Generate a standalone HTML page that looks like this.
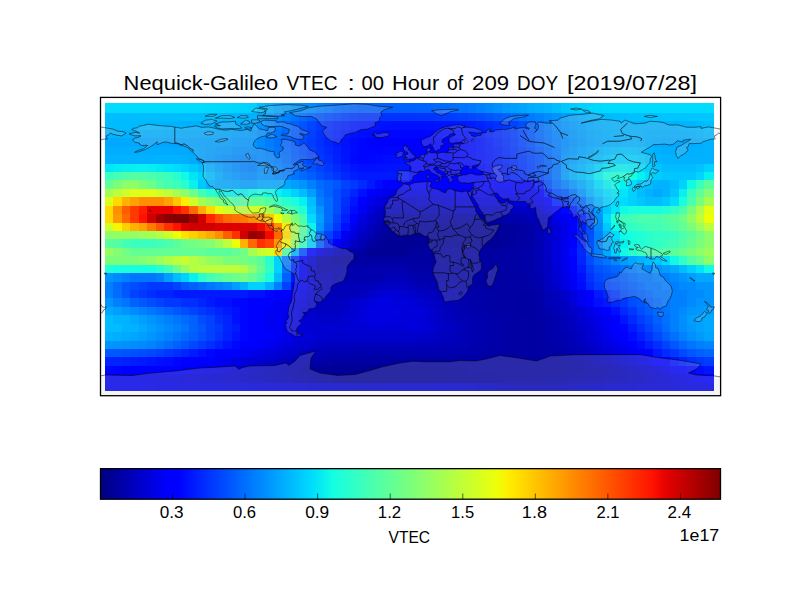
<!DOCTYPE html><html><head><meta charset="utf-8"><title>VTEC</title>
<style>html,body{margin:0;padding:0;background:#fff;width:800px;height:600px;overflow:hidden}svg{display:block}text{font-family:"Liberation Sans",sans-serif;fill:#000}</style></head><body>
<svg width="800" height="600" viewBox="0 0 800 600">
<rect width="800" height="600" fill="#fff"/>
<g shape-rendering="crispEdges">
<rect x="105.00" y="103.00" width="101.54" height="10.30" fill="#00dbff"/>
<rect x="206.24" y="103.00" width="8.74" height="10.30" fill="#00daff"/>
<rect x="214.68" y="103.00" width="8.74" height="10.30" fill="#00d9ff"/>
<rect x="223.12" y="103.00" width="8.74" height="10.30" fill="#00d8ff"/>
<rect x="231.56" y="103.00" width="8.74" height="10.30" fill="#00d6ff"/>
<rect x="239.99" y="103.00" width="8.74" height="10.30" fill="#00d4ff"/>
<rect x="248.43" y="103.00" width="8.74" height="10.30" fill="#00d1ff"/>
<rect x="256.87" y="103.00" width="8.74" height="10.30" fill="#00bdff"/>
<rect x="265.30" y="103.00" width="8.74" height="10.30" fill="#00b1ff"/>
<rect x="273.74" y="103.00" width="8.74" height="10.30" fill="#00a7ff"/>
<rect x="282.18" y="103.00" width="8.74" height="10.30" fill="#009fff"/>
<rect x="290.61" y="103.00" width="8.74" height="10.30" fill="#0098ff"/>
<rect x="299.05" y="103.00" width="8.74" height="10.30" fill="#0091ff"/>
<rect x="307.49" y="103.00" width="8.74" height="10.30" fill="#008aff"/>
<rect x="315.92" y="103.00" width="8.74" height="10.30" fill="#0081ff"/>
<rect x="324.36" y="103.00" width="8.74" height="10.30" fill="#0078ff"/>
<rect x="332.80" y="103.00" width="8.74" height="10.30" fill="#0070ff"/>
<rect x="341.24" y="103.00" width="8.74" height="10.30" fill="#0068ff"/>
<rect x="349.67" y="103.00" width="8.74" height="10.30" fill="#0063ff"/>
<rect x="358.11" y="103.00" width="59.36" height="10.30" fill="#0061ff"/>
<rect x="417.17" y="103.00" width="8.74" height="10.30" fill="#0062ff"/>
<rect x="425.61" y="103.00" width="8.74" height="10.30" fill="#0064ff"/>
<rect x="434.04" y="103.00" width="8.74" height="10.30" fill="#0068ff"/>
<rect x="442.48" y="103.00" width="8.74" height="10.30" fill="#006cff"/>
<rect x="450.92" y="103.00" width="8.74" height="10.30" fill="#0071ff"/>
<rect x="459.35" y="103.00" width="8.74" height="10.30" fill="#0075ff"/>
<rect x="467.79" y="103.00" width="8.74" height="10.30" fill="#007bff"/>
<rect x="476.23" y="103.00" width="8.74" height="10.30" fill="#0081ff"/>
<rect x="484.66" y="103.00" width="8.74" height="10.30" fill="#0088ff"/>
<rect x="493.10" y="103.00" width="8.74" height="10.30" fill="#0090ff"/>
<rect x="501.54" y="103.00" width="8.74" height="10.30" fill="#0097ff"/>
<rect x="509.98" y="103.00" width="8.74" height="10.30" fill="#009eff"/>
<rect x="518.41" y="103.00" width="8.74" height="10.30" fill="#00a4ff"/>
<rect x="526.85" y="103.00" width="8.74" height="10.30" fill="#00aaff"/>
<rect x="535.29" y="103.00" width="8.74" height="10.30" fill="#00afff"/>
<rect x="543.72" y="103.00" width="8.74" height="10.30" fill="#00b5ff"/>
<rect x="552.16" y="103.00" width="8.74" height="10.30" fill="#00bdff"/>
<rect x="560.60" y="103.00" width="8.74" height="10.30" fill="#00c7ff"/>
<rect x="569.03" y="103.00" width="8.74" height="10.30" fill="#00ccff"/>
<rect x="577.47" y="103.00" width="8.74" height="10.30" fill="#00d1ff"/>
<rect x="585.91" y="103.00" width="8.74" height="10.30" fill="#00d5ff"/>
<rect x="594.35" y="103.00" width="8.74" height="10.30" fill="#00d9ff"/>
<rect x="602.78" y="103.00" width="111.42" height="10.30" fill="#00dbff"/>
<rect x="105.00" y="113.00" width="93.11" height="8.73" fill="#00bdff"/>
<rect x="197.81" y="113.00" width="17.17" height="8.73" fill="#00bcff"/>
<rect x="214.68" y="113.00" width="8.74" height="8.73" fill="#00bbff"/>
<rect x="223.12" y="113.00" width="8.74" height="8.73" fill="#00b9ff"/>
<rect x="231.56" y="113.00" width="8.74" height="8.73" fill="#00b7ff"/>
<rect x="239.99" y="113.00" width="8.74" height="8.73" fill="#00b5ff"/>
<rect x="248.43" y="113.00" width="8.74" height="8.73" fill="#00b2ff"/>
<rect x="256.87" y="113.00" width="8.74" height="8.73" fill="#00a3ff"/>
<rect x="265.30" y="113.00" width="8.74" height="8.73" fill="#0096ff"/>
<rect x="273.74" y="113.00" width="8.74" height="8.73" fill="#008bff"/>
<rect x="282.18" y="113.00" width="8.74" height="8.73" fill="#0080ff"/>
<rect x="290.61" y="113.00" width="8.74" height="8.73" fill="#0075ff"/>
<rect x="299.05" y="113.00" width="8.74" height="8.73" fill="#006aff"/>
<rect x="307.49" y="113.00" width="8.74" height="8.73" fill="#005fff"/>
<rect x="315.92" y="113.00" width="8.74" height="8.73" fill="#0055ff"/>
<rect x="324.36" y="113.00" width="8.74" height="8.73" fill="#004dff"/>
<rect x="332.80" y="113.00" width="8.74" height="8.73" fill="#0044ff"/>
<rect x="341.24" y="113.00" width="8.74" height="8.73" fill="#003cff"/>
<rect x="349.67" y="113.00" width="8.74" height="8.73" fill="#0036ff"/>
<rect x="358.11" y="113.00" width="59.36" height="8.73" fill="#0033ff"/>
<rect x="417.17" y="113.00" width="8.74" height="8.73" fill="#0034ff"/>
<rect x="425.61" y="113.00" width="8.74" height="8.73" fill="#0035ff"/>
<rect x="434.04" y="113.00" width="8.74" height="8.73" fill="#0038ff"/>
<rect x="442.48" y="113.00" width="8.74" height="8.73" fill="#003bff"/>
<rect x="450.92" y="113.00" width="8.74" height="8.73" fill="#003fff"/>
<rect x="459.35" y="113.00" width="8.74" height="8.73" fill="#0042ff"/>
<rect x="467.79" y="113.00" width="8.74" height="8.73" fill="#0047ff"/>
<rect x="476.23" y="113.00" width="8.74" height="8.73" fill="#004dff"/>
<rect x="484.66" y="113.00" width="8.74" height="8.73" fill="#0054ff"/>
<rect x="493.10" y="113.00" width="8.74" height="8.73" fill="#005cff"/>
<rect x="501.54" y="113.00" width="8.74" height="8.73" fill="#0063ff"/>
<rect x="509.98" y="113.00" width="8.74" height="8.73" fill="#006bff"/>
<rect x="518.41" y="113.00" width="8.74" height="8.73" fill="#0073ff"/>
<rect x="526.85" y="113.00" width="8.74" height="8.73" fill="#007aff"/>
<rect x="535.29" y="113.00" width="8.74" height="8.73" fill="#0082ff"/>
<rect x="543.72" y="113.00" width="8.74" height="8.73" fill="#008bff"/>
<rect x="552.16" y="113.00" width="8.74" height="8.73" fill="#0094ff"/>
<rect x="560.60" y="113.00" width="8.74" height="8.73" fill="#009eff"/>
<rect x="569.03" y="113.00" width="8.74" height="8.73" fill="#00a5ff"/>
<rect x="577.47" y="113.00" width="8.74" height="8.73" fill="#00acff"/>
<rect x="585.91" y="113.00" width="8.74" height="8.73" fill="#00b2ff"/>
<rect x="594.35" y="113.00" width="8.74" height="8.73" fill="#00b7ff"/>
<rect x="602.78" y="113.00" width="8.74" height="8.73" fill="#00baff"/>
<rect x="611.22" y="113.00" width="8.74" height="8.73" fill="#00bdff"/>
<rect x="619.66" y="113.00" width="8.74" height="8.73" fill="#00beff"/>
<rect x="628.09" y="113.00" width="8.74" height="8.73" fill="#00c0ff"/>
<rect x="636.53" y="113.00" width="8.74" height="8.73" fill="#00c1ff"/>
<rect x="644.97" y="113.00" width="8.74" height="8.73" fill="#00c2ff"/>
<rect x="653.40" y="113.00" width="8.74" height="8.73" fill="#00c4ff"/>
<rect x="661.84" y="113.00" width="17.17" height="8.73" fill="#00c5ff"/>
<rect x="678.72" y="113.00" width="8.74" height="8.73" fill="#00c6ff"/>
<rect x="687.15" y="113.00" width="27.05" height="8.73" fill="#00c7ff"/>
<rect x="105.00" y="121.43" width="8.74" height="8.73" fill="#00bdff"/>
<rect x="113.44" y="121.43" width="8.74" height="8.73" fill="#00bcff"/>
<rect x="121.87" y="121.43" width="8.74" height="8.73" fill="#00bbff"/>
<rect x="130.31" y="121.43" width="8.74" height="8.73" fill="#00baff"/>
<rect x="138.75" y="121.43" width="8.74" height="8.73" fill="#00b9ff"/>
<rect x="147.19" y="121.43" width="8.74" height="8.73" fill="#00b8ff"/>
<rect x="155.62" y="121.43" width="8.74" height="8.73" fill="#00b7ff"/>
<rect x="164.06" y="121.43" width="8.74" height="8.73" fill="#00b5ff"/>
<rect x="172.50" y="121.43" width="8.74" height="8.73" fill="#00b4ff"/>
<rect x="180.93" y="121.43" width="8.74" height="8.73" fill="#00b2ff"/>
<rect x="189.37" y="121.43" width="8.74" height="8.73" fill="#00b1ff"/>
<rect x="197.81" y="121.43" width="8.74" height="8.73" fill="#00b0ff"/>
<rect x="206.24" y="121.43" width="8.74" height="8.73" fill="#00afff"/>
<rect x="214.68" y="121.43" width="8.74" height="8.73" fill="#00aeff"/>
<rect x="223.12" y="121.43" width="8.74" height="8.73" fill="#00acff"/>
<rect x="231.56" y="121.43" width="8.74" height="8.73" fill="#00aaff"/>
<rect x="239.99" y="121.43" width="8.74" height="8.73" fill="#00a7ff"/>
<rect x="248.43" y="121.43" width="8.74" height="8.73" fill="#00a3ff"/>
<rect x="256.87" y="121.43" width="8.74" height="8.73" fill="#0094ff"/>
<rect x="265.30" y="121.43" width="8.74" height="8.73" fill="#0086ff"/>
<rect x="273.74" y="121.43" width="8.74" height="8.73" fill="#007aff"/>
<rect x="282.18" y="121.43" width="8.74" height="8.73" fill="#006dff"/>
<rect x="290.61" y="121.43" width="8.74" height="8.73" fill="#0061ff"/>
<rect x="299.05" y="121.43" width="8.74" height="8.73" fill="#0053ff"/>
<rect x="307.49" y="121.43" width="8.74" height="8.73" fill="#0045ff"/>
<rect x="315.92" y="121.43" width="8.74" height="8.73" fill="#0038ff"/>
<rect x="324.36" y="121.43" width="8.74" height="8.73" fill="#002eff"/>
<rect x="332.80" y="121.43" width="8.74" height="8.73" fill="#0025ff"/>
<rect x="341.24" y="121.43" width="8.74" height="8.73" fill="#001eff"/>
<rect x="349.67" y="121.43" width="8.74" height="8.73" fill="#0018ff"/>
<rect x="358.11" y="121.43" width="8.74" height="8.73" fill="#0014ff"/>
<rect x="366.55" y="121.43" width="8.74" height="8.73" fill="#0013ff"/>
<rect x="374.98" y="121.43" width="8.74" height="8.73" fill="#0012ff"/>
<rect x="383.42" y="121.43" width="8.74" height="8.73" fill="#0011ff"/>
<rect x="391.86" y="121.43" width="8.74" height="8.73" fill="#0010ff"/>
<rect x="400.29" y="121.43" width="17.17" height="8.73" fill="#000fff"/>
<rect x="417.17" y="121.43" width="8.74" height="8.73" fill="#0010ff"/>
<rect x="425.61" y="121.43" width="8.74" height="8.73" fill="#0011ff"/>
<rect x="434.04" y="121.43" width="8.74" height="8.73" fill="#0012ff"/>
<rect x="442.48" y="121.43" width="8.74" height="8.73" fill="#0014ff"/>
<rect x="450.92" y="121.43" width="8.74" height="8.73" fill="#0017ff"/>
<rect x="459.35" y="121.43" width="8.74" height="8.73" fill="#0019ff"/>
<rect x="467.79" y="121.43" width="8.74" height="8.73" fill="#001dff"/>
<rect x="476.23" y="121.43" width="8.74" height="8.73" fill="#0022ff"/>
<rect x="484.66" y="121.43" width="8.74" height="8.73" fill="#0029ff"/>
<rect x="493.10" y="121.43" width="8.74" height="8.73" fill="#0031ff"/>
<rect x="501.54" y="121.43" width="8.74" height="8.73" fill="#0039ff"/>
<rect x="509.98" y="121.43" width="8.74" height="8.73" fill="#0042ff"/>
<rect x="518.41" y="121.43" width="8.74" height="8.73" fill="#004eff"/>
<rect x="526.85" y="121.43" width="8.74" height="8.73" fill="#005dff"/>
<rect x="535.29" y="121.43" width="8.74" height="8.73" fill="#006dff"/>
<rect x="543.72" y="121.43" width="8.74" height="8.73" fill="#007cff"/>
<rect x="552.16" y="121.43" width="8.74" height="8.73" fill="#008aff"/>
<rect x="560.60" y="121.43" width="8.74" height="8.73" fill="#0094ff"/>
<rect x="569.03" y="121.43" width="8.74" height="8.73" fill="#009bff"/>
<rect x="577.47" y="121.43" width="8.74" height="8.73" fill="#00a2ff"/>
<rect x="585.91" y="121.43" width="8.74" height="8.73" fill="#00a9ff"/>
<rect x="594.35" y="121.43" width="8.74" height="8.73" fill="#00aeff"/>
<rect x="602.78" y="121.43" width="8.74" height="8.73" fill="#00b1ff"/>
<rect x="611.22" y="121.43" width="59.36" height="8.73" fill="#00b2ff"/>
<rect x="670.28" y="121.43" width="8.74" height="8.73" fill="#00b3ff"/>
<rect x="678.72" y="121.43" width="8.74" height="8.73" fill="#00b5ff"/>
<rect x="687.15" y="121.43" width="8.74" height="8.73" fill="#00b7ff"/>
<rect x="695.59" y="121.43" width="8.74" height="8.73" fill="#00baff"/>
<rect x="704.03" y="121.43" width="10.17" height="8.73" fill="#00bdff"/>
<rect x="105.00" y="129.86" width="17.17" height="8.73" fill="#00b2ff"/>
<rect x="121.87" y="129.86" width="17.17" height="8.73" fill="#00b1ff"/>
<rect x="138.75" y="129.86" width="8.74" height="8.73" fill="#00b0ff"/>
<rect x="147.19" y="129.86" width="8.74" height="8.73" fill="#00afff"/>
<rect x="155.62" y="129.86" width="8.74" height="8.73" fill="#00aeff"/>
<rect x="164.06" y="129.86" width="8.74" height="8.73" fill="#00adff"/>
<rect x="172.50" y="129.86" width="8.74" height="8.73" fill="#00acff"/>
<rect x="180.93" y="129.86" width="8.74" height="8.73" fill="#00abff"/>
<rect x="189.37" y="129.86" width="8.74" height="8.73" fill="#00aaff"/>
<rect x="197.81" y="129.86" width="8.74" height="8.73" fill="#00a9ff"/>
<rect x="206.24" y="129.86" width="8.74" height="8.73" fill="#00a8ff"/>
<rect x="214.68" y="129.86" width="8.74" height="8.73" fill="#00a6ff"/>
<rect x="223.12" y="129.86" width="8.74" height="8.73" fill="#00a4ff"/>
<rect x="231.56" y="129.86" width="8.74" height="8.73" fill="#00a2ff"/>
<rect x="239.99" y="129.86" width="8.74" height="8.73" fill="#009fff"/>
<rect x="248.43" y="129.86" width="8.74" height="8.73" fill="#009cff"/>
<rect x="256.87" y="129.86" width="8.74" height="8.73" fill="#008fff"/>
<rect x="265.30" y="129.86" width="8.74" height="8.73" fill="#0082ff"/>
<rect x="273.74" y="129.86" width="8.74" height="8.73" fill="#0075ff"/>
<rect x="282.18" y="129.86" width="8.74" height="8.73" fill="#0069ff"/>
<rect x="290.61" y="129.86" width="8.74" height="8.73" fill="#005cff"/>
<rect x="299.05" y="129.86" width="8.74" height="8.73" fill="#004eff"/>
<rect x="307.49" y="129.86" width="8.74" height="8.73" fill="#0040ff"/>
<rect x="315.92" y="129.86" width="8.74" height="8.73" fill="#0033ff"/>
<rect x="324.36" y="129.86" width="8.74" height="8.73" fill="#0029ff"/>
<rect x="332.80" y="129.86" width="8.74" height="8.73" fill="#0020ff"/>
<rect x="341.24" y="129.86" width="8.74" height="8.73" fill="#0017ff"/>
<rect x="349.67" y="129.86" width="8.74" height="8.73" fill="#0011ff"/>
<rect x="358.11" y="129.86" width="8.74" height="8.73" fill="#000dff"/>
<rect x="366.55" y="129.86" width="8.74" height="8.73" fill="#000bff"/>
<rect x="374.98" y="129.86" width="8.74" height="8.73" fill="#0009ff"/>
<rect x="383.42" y="129.86" width="8.74" height="8.73" fill="#0007ff"/>
<rect x="391.86" y="129.86" width="8.74" height="8.73" fill="#0006ff"/>
<rect x="400.29" y="129.86" width="25.61" height="8.73" fill="#0005ff"/>
<rect x="425.61" y="129.86" width="8.74" height="8.73" fill="#0007ff"/>
<rect x="434.04" y="129.86" width="8.74" height="8.73" fill="#0008ff"/>
<rect x="442.48" y="129.86" width="8.74" height="8.73" fill="#000aff"/>
<rect x="450.92" y="129.86" width="8.74" height="8.73" fill="#000dff"/>
<rect x="459.35" y="129.86" width="8.74" height="8.73" fill="#000fff"/>
<rect x="467.79" y="129.86" width="8.74" height="8.73" fill="#0013ff"/>
<rect x="476.23" y="129.86" width="8.74" height="8.73" fill="#0019ff"/>
<rect x="484.66" y="129.86" width="8.74" height="8.73" fill="#0021ff"/>
<rect x="493.10" y="129.86" width="8.74" height="8.73" fill="#002aff"/>
<rect x="501.54" y="129.86" width="8.74" height="8.73" fill="#0033ff"/>
<rect x="509.98" y="129.86" width="8.74" height="8.73" fill="#003dff"/>
<rect x="518.41" y="129.86" width="8.74" height="8.73" fill="#0049ff"/>
<rect x="526.85" y="129.86" width="8.74" height="8.73" fill="#0058ff"/>
<rect x="535.29" y="129.86" width="8.74" height="8.73" fill="#0068ff"/>
<rect x="543.72" y="129.86" width="8.74" height="8.73" fill="#0077ff"/>
<rect x="552.16" y="129.86" width="8.74" height="8.73" fill="#0085ff"/>
<rect x="560.60" y="129.86" width="8.74" height="8.73" fill="#008fff"/>
<rect x="569.03" y="129.86" width="8.74" height="8.73" fill="#0097ff"/>
<rect x="577.47" y="129.86" width="8.74" height="8.73" fill="#009fff"/>
<rect x="585.91" y="129.86" width="8.74" height="8.73" fill="#00a6ff"/>
<rect x="594.35" y="129.86" width="8.74" height="8.73" fill="#00abff"/>
<rect x="602.78" y="129.86" width="8.74" height="8.73" fill="#00afff"/>
<rect x="611.22" y="129.86" width="8.74" height="8.73" fill="#00b1ff"/>
<rect x="619.66" y="129.86" width="25.61" height="8.73" fill="#00b2ff"/>
<rect x="644.97" y="129.86" width="8.74" height="8.73" fill="#00b0ff"/>
<rect x="653.40" y="129.86" width="8.74" height="8.73" fill="#00aeff"/>
<rect x="661.84" y="129.86" width="8.74" height="8.73" fill="#00adff"/>
<rect x="670.28" y="129.86" width="8.74" height="8.73" fill="#00aeff"/>
<rect x="678.72" y="129.86" width="8.74" height="8.73" fill="#00afff"/>
<rect x="687.15" y="129.86" width="8.74" height="8.73" fill="#00b1ff"/>
<rect x="695.59" y="129.86" width="8.74" height="8.73" fill="#00b4ff"/>
<rect x="704.03" y="129.86" width="10.17" height="8.73" fill="#00b8ff"/>
<rect x="105.00" y="138.29" width="34.05" height="8.73" fill="#00a8ff"/>
<rect x="138.75" y="138.29" width="8.74" height="8.73" fill="#00a7ff"/>
<rect x="147.19" y="138.29" width="17.17" height="8.73" fill="#00a6ff"/>
<rect x="164.06" y="138.29" width="8.74" height="8.73" fill="#00a5ff"/>
<rect x="172.50" y="138.29" width="8.74" height="8.73" fill="#00a4ff"/>
<rect x="180.93" y="138.29" width="8.74" height="8.73" fill="#00a3ff"/>
<rect x="189.37" y="138.29" width="8.74" height="8.73" fill="#00a2ff"/>
<rect x="197.81" y="138.29" width="8.74" height="8.73" fill="#00a1ff"/>
<rect x="206.24" y="138.29" width="8.74" height="8.73" fill="#00a0ff"/>
<rect x="214.68" y="138.29" width="8.74" height="8.73" fill="#009fff"/>
<rect x="223.12" y="138.29" width="8.74" height="8.73" fill="#009dff"/>
<rect x="231.56" y="138.29" width="8.74" height="8.73" fill="#009aff"/>
<rect x="239.99" y="138.29" width="8.74" height="8.73" fill="#0097ff"/>
<rect x="248.43" y="138.29" width="8.74" height="8.73" fill="#0094ff"/>
<rect x="256.87" y="138.29" width="8.74" height="8.73" fill="#008aff"/>
<rect x="265.30" y="138.29" width="8.74" height="8.73" fill="#007eff"/>
<rect x="273.74" y="138.29" width="8.74" height="8.73" fill="#0071ff"/>
<rect x="282.18" y="138.29" width="8.74" height="8.73" fill="#0064ff"/>
<rect x="290.61" y="138.29" width="8.74" height="8.73" fill="#0057ff"/>
<rect x="299.05" y="138.29" width="8.74" height="8.73" fill="#0049ff"/>
<rect x="307.49" y="138.29" width="8.74" height="8.73" fill="#003cff"/>
<rect x="315.92" y="138.29" width="8.74" height="8.73" fill="#002fff"/>
<rect x="324.36" y="138.29" width="8.74" height="8.73" fill="#0024ff"/>
<rect x="332.80" y="138.29" width="8.74" height="8.73" fill="#001aff"/>
<rect x="341.24" y="138.29" width="8.74" height="8.73" fill="#0011ff"/>
<rect x="349.67" y="138.29" width="8.74" height="8.73" fill="#000aff"/>
<rect x="358.11" y="138.29" width="8.74" height="8.73" fill="#0005ff"/>
<rect x="366.55" y="138.29" width="8.74" height="8.73" fill="#0002ff"/>
<rect x="374.98" y="138.29" width="76.23" height="8.73" fill="#0000ff"/>
<rect x="450.92" y="138.29" width="8.74" height="8.73" fill="#0002ff"/>
<rect x="459.35" y="138.29" width="8.74" height="8.73" fill="#0005ff"/>
<rect x="467.79" y="138.29" width="8.74" height="8.73" fill="#0009ff"/>
<rect x="476.23" y="138.29" width="8.74" height="8.73" fill="#0010ff"/>
<rect x="484.66" y="138.29" width="8.74" height="8.73" fill="#0019ff"/>
<rect x="493.10" y="138.29" width="8.74" height="8.73" fill="#0023ff"/>
<rect x="501.54" y="138.29" width="8.74" height="8.73" fill="#002dff"/>
<rect x="509.98" y="138.29" width="8.74" height="8.73" fill="#0038ff"/>
<rect x="518.41" y="138.29" width="8.74" height="8.73" fill="#0045ff"/>
<rect x="526.85" y="138.29" width="8.74" height="8.73" fill="#0053ff"/>
<rect x="535.29" y="138.29" width="8.74" height="8.73" fill="#0063ff"/>
<rect x="543.72" y="138.29" width="8.74" height="8.73" fill="#0072ff"/>
<rect x="552.16" y="138.29" width="8.74" height="8.73" fill="#0080ff"/>
<rect x="560.60" y="138.29" width="8.74" height="8.73" fill="#008aff"/>
<rect x="569.03" y="138.29" width="8.74" height="8.73" fill="#0093ff"/>
<rect x="577.47" y="138.29" width="8.74" height="8.73" fill="#009cff"/>
<rect x="585.91" y="138.29" width="8.74" height="8.73" fill="#00a3ff"/>
<rect x="594.35" y="138.29" width="8.74" height="8.73" fill="#00a8ff"/>
<rect x="602.78" y="138.29" width="8.74" height="8.73" fill="#00acff"/>
<rect x="611.22" y="138.29" width="8.74" height="8.73" fill="#00afff"/>
<rect x="619.66" y="138.29" width="17.17" height="8.73" fill="#00b2ff"/>
<rect x="636.53" y="138.29" width="8.74" height="8.73" fill="#00b1ff"/>
<rect x="644.97" y="138.29" width="8.74" height="8.73" fill="#00adff"/>
<rect x="653.40" y="138.29" width="8.74" height="8.73" fill="#00aaff"/>
<rect x="661.84" y="138.29" width="8.74" height="8.73" fill="#00a8ff"/>
<rect x="670.28" y="138.29" width="8.74" height="8.73" fill="#00a9ff"/>
<rect x="678.72" y="138.29" width="8.74" height="8.73" fill="#00aaff"/>
<rect x="687.15" y="138.29" width="8.74" height="8.73" fill="#00acff"/>
<rect x="695.59" y="138.29" width="8.74" height="8.73" fill="#00afff"/>
<rect x="704.03" y="138.29" width="10.17" height="8.73" fill="#00b2ff"/>
<rect x="105.00" y="146.72" width="42.48" height="8.73" fill="#00adff"/>
<rect x="147.19" y="146.72" width="25.61" height="8.73" fill="#00acff"/>
<rect x="172.50" y="146.72" width="8.74" height="8.73" fill="#00abff"/>
<rect x="180.93" y="146.72" width="8.74" height="8.73" fill="#00aaff"/>
<rect x="189.37" y="146.72" width="8.74" height="8.73" fill="#00a6ff"/>
<rect x="197.81" y="146.72" width="8.74" height="8.73" fill="#00a2ff"/>
<rect x="206.24" y="146.72" width="8.74" height="8.73" fill="#009dff"/>
<rect x="214.68" y="146.72" width="8.74" height="8.73" fill="#0099ff"/>
<rect x="223.12" y="146.72" width="8.74" height="8.73" fill="#0096ff"/>
<rect x="231.56" y="146.72" width="8.74" height="8.73" fill="#0092ff"/>
<rect x="239.99" y="146.72" width="8.74" height="8.73" fill="#008fff"/>
<rect x="248.43" y="146.72" width="8.74" height="8.73" fill="#008cff"/>
<rect x="256.87" y="146.72" width="8.74" height="8.73" fill="#008aff"/>
<rect x="265.30" y="146.72" width="8.74" height="8.73" fill="#0082ff"/>
<rect x="273.74" y="146.72" width="8.74" height="8.73" fill="#0076ff"/>
<rect x="282.18" y="146.72" width="8.74" height="8.73" fill="#0069ff"/>
<rect x="290.61" y="146.72" width="8.74" height="8.73" fill="#005cff"/>
<rect x="299.05" y="146.72" width="8.74" height="8.73" fill="#004fff"/>
<rect x="307.49" y="146.72" width="8.74" height="8.73" fill="#0042ff"/>
<rect x="315.92" y="146.72" width="8.74" height="8.73" fill="#0034ff"/>
<rect x="324.36" y="146.72" width="8.74" height="8.73" fill="#0029ff"/>
<rect x="332.80" y="146.72" width="8.74" height="8.73" fill="#001eff"/>
<rect x="341.24" y="146.72" width="8.74" height="8.73" fill="#0012ff"/>
<rect x="349.67" y="146.72" width="8.74" height="8.73" fill="#000aff"/>
<rect x="358.11" y="146.72" width="8.74" height="8.73" fill="#0005ff"/>
<rect x="366.55" y="146.72" width="17.17" height="8.73" fill="#0004ff"/>
<rect x="383.42" y="146.72" width="25.61" height="8.73" fill="#0005ff"/>
<rect x="408.73" y="146.72" width="42.48" height="8.73" fill="#0000ff"/>
<rect x="450.92" y="146.72" width="8.74" height="8.73" fill="#0002ff"/>
<rect x="459.35" y="146.72" width="8.74" height="8.73" fill="#0005ff"/>
<rect x="467.79" y="146.72" width="8.74" height="8.73" fill="#0009ff"/>
<rect x="476.23" y="146.72" width="8.74" height="8.73" fill="#000fff"/>
<rect x="484.66" y="146.72" width="8.74" height="8.73" fill="#0017ff"/>
<rect x="493.10" y="146.72" width="8.74" height="8.73" fill="#001fff"/>
<rect x="501.54" y="146.72" width="8.74" height="8.73" fill="#0029ff"/>
<rect x="509.98" y="146.72" width="8.74" height="8.73" fill="#0033ff"/>
<rect x="518.41" y="146.72" width="8.74" height="8.73" fill="#003eff"/>
<rect x="526.85" y="146.72" width="8.74" height="8.73" fill="#004cff"/>
<rect x="535.29" y="146.72" width="8.74" height="8.73" fill="#005aff"/>
<rect x="543.72" y="146.72" width="8.74" height="8.73" fill="#006aff"/>
<rect x="552.16" y="146.72" width="8.74" height="8.73" fill="#007aff"/>
<rect x="560.60" y="146.72" width="8.74" height="8.73" fill="#008fff"/>
<rect x="569.03" y="146.72" width="8.74" height="8.73" fill="#009aff"/>
<rect x="577.47" y="146.72" width="8.74" height="8.73" fill="#00a4ff"/>
<rect x="585.91" y="146.72" width="8.74" height="8.73" fill="#00abff"/>
<rect x="594.35" y="146.72" width="8.74" height="8.73" fill="#00b2ff"/>
<rect x="602.78" y="146.72" width="8.74" height="8.73" fill="#00bbff"/>
<rect x="611.22" y="146.72" width="8.74" height="8.73" fill="#00c0ff"/>
<rect x="619.66" y="146.72" width="8.74" height="8.73" fill="#00c1ff"/>
<rect x="628.09" y="146.72" width="8.74" height="8.73" fill="#00c2ff"/>
<rect x="636.53" y="146.72" width="8.74" height="8.73" fill="#00bfff"/>
<rect x="644.97" y="146.72" width="8.74" height="8.73" fill="#00b8ff"/>
<rect x="653.40" y="146.72" width="8.74" height="8.73" fill="#00b1ff"/>
<rect x="661.84" y="146.72" width="8.74" height="8.73" fill="#00adff"/>
<rect x="670.28" y="146.72" width="17.17" height="8.73" fill="#00aeff"/>
<rect x="687.15" y="146.72" width="8.74" height="8.73" fill="#00afff"/>
<rect x="695.59" y="146.72" width="8.74" height="8.73" fill="#00b1ff"/>
<rect x="704.03" y="146.72" width="10.17" height="8.73" fill="#00b2ff"/>
<rect x="105.00" y="155.15" width="76.23" height="8.73" fill="#00b2ff"/>
<rect x="180.93" y="155.15" width="8.74" height="8.73" fill="#00b0ff"/>
<rect x="189.37" y="155.15" width="8.74" height="8.73" fill="#00aaff"/>
<rect x="197.81" y="155.15" width="8.74" height="8.73" fill="#00a2ff"/>
<rect x="206.24" y="155.15" width="8.74" height="8.73" fill="#009aff"/>
<rect x="214.68" y="155.15" width="8.74" height="8.73" fill="#0094ff"/>
<rect x="223.12" y="155.15" width="8.74" height="8.73" fill="#008fff"/>
<rect x="231.56" y="155.15" width="8.74" height="8.73" fill="#008aff"/>
<rect x="239.99" y="155.15" width="8.74" height="8.73" fill="#0086ff"/>
<rect x="248.43" y="155.15" width="8.74" height="8.73" fill="#0085ff"/>
<rect x="256.87" y="155.15" width="8.74" height="8.73" fill="#008aff"/>
<rect x="265.30" y="155.15" width="8.74" height="8.73" fill="#0085ff"/>
<rect x="273.74" y="155.15" width="8.74" height="8.73" fill="#007bff"/>
<rect x="282.18" y="155.15" width="8.74" height="8.73" fill="#006eff"/>
<rect x="290.61" y="155.15" width="8.74" height="8.73" fill="#0061ff"/>
<rect x="299.05" y="155.15" width="8.74" height="8.73" fill="#0055ff"/>
<rect x="307.49" y="155.15" width="8.74" height="8.73" fill="#0047ff"/>
<rect x="315.92" y="155.15" width="8.74" height="8.73" fill="#003aff"/>
<rect x="324.36" y="155.15" width="8.74" height="8.73" fill="#002eff"/>
<rect x="332.80" y="155.15" width="8.74" height="8.73" fill="#0021ff"/>
<rect x="341.24" y="155.15" width="8.74" height="8.73" fill="#0014ff"/>
<rect x="349.67" y="155.15" width="8.74" height="8.73" fill="#0009ff"/>
<rect x="358.11" y="155.15" width="8.74" height="8.73" fill="#0005ff"/>
<rect x="366.55" y="155.15" width="8.74" height="8.73" fill="#0006ff"/>
<rect x="374.98" y="155.15" width="8.74" height="8.73" fill="#0009ff"/>
<rect x="383.42" y="155.15" width="8.74" height="8.73" fill="#000cff"/>
<rect x="391.86" y="155.15" width="8.74" height="8.73" fill="#000eff"/>
<rect x="400.29" y="155.15" width="8.74" height="8.73" fill="#000fff"/>
<rect x="408.73" y="155.15" width="42.48" height="8.73" fill="#0000ff"/>
<rect x="450.92" y="155.15" width="8.74" height="8.73" fill="#0002ff"/>
<rect x="459.35" y="155.15" width="8.74" height="8.73" fill="#0005ff"/>
<rect x="467.79" y="155.15" width="8.74" height="8.73" fill="#0009ff"/>
<rect x="476.23" y="155.15" width="8.74" height="8.73" fill="#000eff"/>
<rect x="484.66" y="155.15" width="8.74" height="8.73" fill="#0015ff"/>
<rect x="493.10" y="155.15" width="8.74" height="8.73" fill="#001cff"/>
<rect x="501.54" y="155.15" width="8.74" height="8.73" fill="#0025ff"/>
<rect x="509.98" y="155.15" width="8.74" height="8.73" fill="#002eff"/>
<rect x="518.41" y="155.15" width="8.74" height="8.73" fill="#0038ff"/>
<rect x="526.85" y="155.15" width="8.74" height="8.73" fill="#0044ff"/>
<rect x="535.29" y="155.15" width="8.74" height="8.73" fill="#0051ff"/>
<rect x="543.72" y="155.15" width="8.74" height="8.73" fill="#0062ff"/>
<rect x="552.16" y="155.15" width="8.74" height="8.73" fill="#0075ff"/>
<rect x="560.60" y="155.15" width="8.74" height="8.73" fill="#0094ff"/>
<rect x="569.03" y="155.15" width="8.74" height="8.73" fill="#00a2ff"/>
<rect x="577.47" y="155.15" width="8.74" height="8.73" fill="#00acff"/>
<rect x="585.91" y="155.15" width="8.74" height="8.73" fill="#00b4ff"/>
<rect x="594.35" y="155.15" width="8.74" height="8.73" fill="#00bdff"/>
<rect x="602.78" y="155.15" width="8.74" height="8.73" fill="#00c9ff"/>
<rect x="611.22" y="155.15" width="25.61" height="8.73" fill="#00d1ff"/>
<rect x="636.53" y="155.15" width="8.74" height="8.73" fill="#00ccff"/>
<rect x="644.97" y="155.15" width="8.74" height="8.73" fill="#00c2ff"/>
<rect x="653.40" y="155.15" width="8.74" height="8.73" fill="#00b7ff"/>
<rect x="661.84" y="155.15" width="52.36" height="8.73" fill="#00b2ff"/>
<rect x="105.00" y="163.58" width="8.74" height="8.73" fill="#00e5f7"/>
<rect x="113.44" y="163.58" width="8.74" height="8.73" fill="#04ebf3"/>
<rect x="121.87" y="163.58" width="8.74" height="8.73" fill="#07eef0"/>
<rect x="130.31" y="163.58" width="8.74" height="8.73" fill="#08efef"/>
<rect x="138.75" y="163.58" width="8.74" height="8.73" fill="#08f0ef"/>
<rect x="147.19" y="163.58" width="8.74" height="8.73" fill="#07eef0"/>
<rect x="155.62" y="163.58" width="8.74" height="8.73" fill="#03e9f4"/>
<rect x="164.06" y="163.58" width="8.74" height="8.73" fill="#00e2f9"/>
<rect x="172.50" y="163.58" width="8.74" height="8.73" fill="#00dbff"/>
<rect x="180.93" y="163.58" width="8.74" height="8.73" fill="#00d3ff"/>
<rect x="189.37" y="163.58" width="8.74" height="8.73" fill="#00c8ff"/>
<rect x="197.81" y="163.58" width="8.74" height="8.73" fill="#00bdff"/>
<rect x="206.24" y="163.58" width="8.74" height="8.73" fill="#00afff"/>
<rect x="214.68" y="163.58" width="8.74" height="8.73" fill="#00a0ff"/>
<rect x="223.12" y="163.58" width="8.74" height="8.73" fill="#0094ff"/>
<rect x="231.56" y="163.58" width="8.74" height="8.73" fill="#008bff"/>
<rect x="239.99" y="163.58" width="8.74" height="8.73" fill="#0084ff"/>
<rect x="248.43" y="163.58" width="8.74" height="8.73" fill="#0080ff"/>
<rect x="256.87" y="163.58" width="8.74" height="8.73" fill="#008fff"/>
<rect x="265.30" y="163.58" width="8.74" height="8.73" fill="#008bff"/>
<rect x="273.74" y="163.58" width="8.74" height="8.73" fill="#0082ff"/>
<rect x="282.18" y="163.58" width="8.74" height="8.73" fill="#0077ff"/>
<rect x="290.61" y="163.58" width="8.74" height="8.73" fill="#006bff"/>
<rect x="299.05" y="163.58" width="8.74" height="8.73" fill="#005fff"/>
<rect x="307.49" y="163.58" width="8.74" height="8.73" fill="#0052ff"/>
<rect x="315.92" y="163.58" width="8.74" height="8.73" fill="#0044ff"/>
<rect x="324.36" y="163.58" width="8.74" height="8.73" fill="#0038ff"/>
<rect x="332.80" y="163.58" width="8.74" height="8.73" fill="#002bff"/>
<rect x="341.24" y="163.58" width="8.74" height="8.73" fill="#001eff"/>
<rect x="349.67" y="163.58" width="8.74" height="8.73" fill="#0014ff"/>
<rect x="358.11" y="163.58" width="8.74" height="8.73" fill="#000fff"/>
<rect x="366.55" y="163.58" width="8.74" height="8.73" fill="#0010ff"/>
<rect x="374.98" y="163.58" width="8.74" height="8.73" fill="#0011ff"/>
<rect x="383.42" y="163.58" width="8.74" height="8.73" fill="#0013ff"/>
<rect x="391.86" y="163.58" width="17.17" height="8.73" fill="#0014ff"/>
<rect x="408.73" y="163.58" width="59.36" height="8.73" fill="#0000ff"/>
<rect x="467.79" y="163.58" width="8.74" height="8.73" fill="#0003ff"/>
<rect x="476.23" y="163.58" width="8.74" height="8.73" fill="#0008ff"/>
<rect x="484.66" y="163.58" width="8.74" height="8.73" fill="#000eff"/>
<rect x="493.10" y="163.58" width="8.74" height="8.73" fill="#0016ff"/>
<rect x="501.54" y="163.58" width="8.74" height="8.73" fill="#001fff"/>
<rect x="509.98" y="163.58" width="8.74" height="8.73" fill="#0029ff"/>
<rect x="518.41" y="163.58" width="8.74" height="8.73" fill="#0033ff"/>
<rect x="526.85" y="163.58" width="8.74" height="8.73" fill="#003fff"/>
<rect x="535.29" y="163.58" width="8.74" height="8.73" fill="#004eff"/>
<rect x="543.72" y="163.58" width="8.74" height="8.73" fill="#0060ff"/>
<rect x="552.16" y="163.58" width="8.74" height="8.73" fill="#0075ff"/>
<rect x="560.60" y="163.58" width="8.74" height="8.73" fill="#0099ff"/>
<rect x="569.03" y="163.58" width="8.74" height="8.73" fill="#00aaff"/>
<rect x="577.47" y="163.58" width="8.74" height="8.73" fill="#00b6ff"/>
<rect x="585.91" y="163.58" width="8.74" height="8.73" fill="#00c2ff"/>
<rect x="594.35" y="163.58" width="8.74" height="8.73" fill="#00d5ff"/>
<rect x="602.78" y="163.58" width="8.74" height="8.73" fill="#01e7f6"/>
<rect x="611.22" y="163.58" width="8.74" height="8.73" fill="#07eef0"/>
<rect x="619.66" y="163.58" width="8.74" height="8.73" fill="#08f0ef"/>
<rect x="628.09" y="163.58" width="8.74" height="8.73" fill="#04eaf3"/>
<rect x="636.53" y="163.58" width="8.74" height="8.73" fill="#00defd"/>
<rect x="644.97" y="163.58" width="8.74" height="8.73" fill="#00d0ff"/>
<rect x="653.40" y="163.58" width="8.74" height="8.73" fill="#00c3ff"/>
<rect x="661.84" y="163.58" width="34.05" height="8.73" fill="#00bdff"/>
<rect x="695.59" y="163.58" width="8.74" height="8.73" fill="#00c3ff"/>
<rect x="704.03" y="163.58" width="10.17" height="8.73" fill="#00d1ff"/>
<rect x="105.00" y="172.01" width="8.74" height="8.73" fill="#3affbd"/>
<rect x="113.44" y="172.01" width="8.74" height="8.73" fill="#46ffb0"/>
<rect x="121.87" y="172.01" width="8.74" height="8.73" fill="#4fffa8"/>
<rect x="130.31" y="172.01" width="8.74" height="8.73" fill="#52ffa5"/>
<rect x="138.75" y="172.01" width="8.74" height="8.73" fill="#50ffa6"/>
<rect x="147.19" y="172.01" width="8.74" height="8.73" fill="#4bffac"/>
<rect x="155.62" y="172.01" width="8.74" height="8.73" fill="#43ffb4"/>
<rect x="164.06" y="172.01" width="8.74" height="8.73" fill="#3affbd"/>
<rect x="172.50" y="172.01" width="8.74" height="8.73" fill="#27ffd0"/>
<rect x="180.93" y="172.01" width="8.74" height="8.73" fill="#10fae6"/>
<rect x="189.37" y="172.01" width="8.74" height="8.73" fill="#00e4f8"/>
<rect x="197.81" y="172.01" width="8.74" height="8.73" fill="#00d1ff"/>
<rect x="206.24" y="172.01" width="8.74" height="8.73" fill="#00beff"/>
<rect x="214.68" y="172.01" width="8.74" height="8.73" fill="#00abff"/>
<rect x="223.12" y="172.01" width="8.74" height="8.73" fill="#009eff"/>
<rect x="231.56" y="172.01" width="8.74" height="8.73" fill="#0094ff"/>
<rect x="239.99" y="172.01" width="8.74" height="8.73" fill="#008dff"/>
<rect x="248.43" y="172.01" width="8.74" height="8.73" fill="#008aff"/>
<rect x="256.87" y="172.01" width="8.74" height="8.73" fill="#0094ff"/>
<rect x="265.30" y="172.01" width="8.74" height="8.73" fill="#0091ff"/>
<rect x="273.74" y="172.01" width="8.74" height="8.73" fill="#0089ff"/>
<rect x="282.18" y="172.01" width="8.74" height="8.73" fill="#007fff"/>
<rect x="290.61" y="172.01" width="8.74" height="8.73" fill="#0075ff"/>
<rect x="299.05" y="172.01" width="8.74" height="8.73" fill="#006aff"/>
<rect x="307.49" y="172.01" width="8.74" height="8.73" fill="#005dff"/>
<rect x="315.92" y="172.01" width="8.74" height="8.73" fill="#004fff"/>
<rect x="324.36" y="172.01" width="8.74" height="8.73" fill="#0042ff"/>
<rect x="332.80" y="172.01" width="8.74" height="8.73" fill="#0036ff"/>
<rect x="341.24" y="172.01" width="8.74" height="8.73" fill="#0028ff"/>
<rect x="349.67" y="172.01" width="8.74" height="8.73" fill="#001eff"/>
<rect x="358.11" y="172.01" width="50.92" height="8.73" fill="#0019ff"/>
<rect x="408.73" y="172.01" width="8.74" height="8.73" fill="#0005ff"/>
<rect x="417.17" y="172.01" width="8.74" height="8.73" fill="#0002ff"/>
<rect x="425.61" y="172.01" width="50.92" height="8.73" fill="#0000ff"/>
<rect x="476.23" y="172.01" width="8.74" height="8.73" fill="#0001ff"/>
<rect x="484.66" y="172.01" width="8.74" height="8.73" fill="#0008ff"/>
<rect x="493.10" y="172.01" width="8.74" height="8.73" fill="#0010ff"/>
<rect x="501.54" y="172.01" width="8.74" height="8.73" fill="#001aff"/>
<rect x="509.98" y="172.01" width="8.74" height="8.73" fill="#0024ff"/>
<rect x="518.41" y="172.01" width="8.74" height="8.73" fill="#002eff"/>
<rect x="526.85" y="172.01" width="8.74" height="8.73" fill="#003bff"/>
<rect x="535.29" y="172.01" width="8.74" height="8.73" fill="#004bff"/>
<rect x="543.72" y="172.01" width="8.74" height="8.73" fill="#005eff"/>
<rect x="552.16" y="172.01" width="8.74" height="8.73" fill="#0075ff"/>
<rect x="560.60" y="172.01" width="8.74" height="8.73" fill="#009eff"/>
<rect x="569.03" y="172.01" width="8.74" height="8.73" fill="#00b2ff"/>
<rect x="577.47" y="172.01" width="8.74" height="8.73" fill="#00c0ff"/>
<rect x="585.91" y="172.01" width="8.74" height="8.73" fill="#00d1ff"/>
<rect x="594.35" y="172.01" width="8.74" height="8.73" fill="#07eef0"/>
<rect x="602.78" y="172.01" width="8.74" height="8.73" fill="#19ffde"/>
<rect x="611.22" y="172.01" width="8.74" height="8.73" fill="#1fffd8"/>
<rect x="619.66" y="172.01" width="8.74" height="8.73" fill="#21ffd6"/>
<rect x="628.09" y="172.01" width="8.74" height="8.73" fill="#17ffdf"/>
<rect x="636.53" y="172.01" width="8.74" height="8.73" fill="#08f0ef"/>
<rect x="644.97" y="172.01" width="8.74" height="8.73" fill="#00dffc"/>
<rect x="653.40" y="172.01" width="8.74" height="8.73" fill="#00ceff"/>
<rect x="661.84" y="172.01" width="34.05" height="8.73" fill="#00c7ff"/>
<rect x="695.59" y="172.01" width="8.74" height="8.73" fill="#00d4ff"/>
<rect x="704.03" y="172.01" width="10.17" height="8.73" fill="#08f0ef"/>
<rect x="105.00" y="180.44" width="8.74" height="8.73" fill="#63ff94"/>
<rect x="113.44" y="180.44" width="8.74" height="8.73" fill="#7bff7b"/>
<rect x="121.87" y="180.44" width="17.17" height="8.73" fill="#8cff6b"/>
<rect x="138.75" y="180.44" width="8.74" height="8.73" fill="#7bff7b"/>
<rect x="147.19" y="180.44" width="8.74" height="8.73" fill="#6bff8c"/>
<rect x="155.62" y="180.44" width="8.74" height="8.73" fill="#52ffa5"/>
<rect x="164.06" y="180.44" width="8.74" height="8.73" fill="#42ffb5"/>
<rect x="172.50" y="180.44" width="8.74" height="8.73" fill="#3affbd"/>
<rect x="180.93" y="180.44" width="8.74" height="8.73" fill="#29ffce"/>
<rect x="189.37" y="180.44" width="8.74" height="8.73" fill="#08f0ef"/>
<rect x="197.81" y="180.44" width="8.74" height="8.73" fill="#00c7ff"/>
<rect x="206.24" y="180.44" width="8.74" height="8.73" fill="#00b2ff"/>
<rect x="214.68" y="180.44" width="17.17" height="8.73" fill="#00a8ff"/>
<rect x="231.56" y="180.44" width="8.74" height="8.73" fill="#00a3ff"/>
<rect x="239.99" y="180.44" width="17.17" height="8.73" fill="#009eff"/>
<rect x="256.87" y="180.44" width="34.05" height="8.73" fill="#00a8ff"/>
<rect x="290.61" y="180.44" width="8.74" height="8.73" fill="#009eff"/>
<rect x="299.05" y="180.44" width="8.74" height="8.73" fill="#0094ff"/>
<rect x="307.49" y="180.44" width="8.74" height="8.73" fill="#0080ff"/>
<rect x="315.92" y="180.44" width="8.74" height="8.73" fill="#006bff"/>
<rect x="324.36" y="180.44" width="8.74" height="8.73" fill="#0061ff"/>
<rect x="332.80" y="180.44" width="8.74" height="8.73" fill="#0057ff"/>
<rect x="341.24" y="180.44" width="8.74" height="8.73" fill="#0042ff"/>
<rect x="349.67" y="180.44" width="8.74" height="8.73" fill="#0038ff"/>
<rect x="358.11" y="180.44" width="8.74" height="8.73" fill="#0029ff"/>
<rect x="366.55" y="180.44" width="8.74" height="8.73" fill="#0019ff"/>
<rect x="374.98" y="180.44" width="8.74" height="8.73" fill="#000aff"/>
<rect x="383.42" y="180.44" width="152.17" height="8.73" fill="#0000ff"/>
<rect x="535.29" y="180.44" width="8.74" height="8.73" fill="#0019ff"/>
<rect x="543.72" y="180.44" width="8.74" height="8.73" fill="#004dff"/>
<rect x="552.16" y="180.44" width="8.74" height="8.73" fill="#006bff"/>
<rect x="560.60" y="180.44" width="8.74" height="8.73" fill="#0080ff"/>
<rect x="569.03" y="180.44" width="8.74" height="8.73" fill="#0094ff"/>
<rect x="577.47" y="180.44" width="8.74" height="8.73" fill="#00a8ff"/>
<rect x="585.91" y="180.44" width="8.74" height="8.73" fill="#00bdff"/>
<rect x="594.35" y="180.44" width="8.74" height="8.73" fill="#00dbff"/>
<rect x="602.78" y="180.44" width="8.74" height="8.73" fill="#08f0ef"/>
<rect x="611.22" y="180.44" width="8.74" height="8.73" fill="#10fae6"/>
<rect x="619.66" y="180.44" width="8.74" height="8.73" fill="#08f0ef"/>
<rect x="628.09" y="180.44" width="8.74" height="8.73" fill="#00dbff"/>
<rect x="636.53" y="180.44" width="8.74" height="8.73" fill="#00c7ff"/>
<rect x="644.97" y="180.44" width="8.74" height="8.73" fill="#00bdff"/>
<rect x="653.40" y="180.44" width="17.17" height="8.73" fill="#00b2ff"/>
<rect x="670.28" y="180.44" width="8.74" height="8.73" fill="#00bdff"/>
<rect x="678.72" y="180.44" width="8.74" height="8.73" fill="#00d1ff"/>
<rect x="687.15" y="180.44" width="8.74" height="8.73" fill="#10fae6"/>
<rect x="695.59" y="180.44" width="8.74" height="8.73" fill="#3affbd"/>
<rect x="704.03" y="180.44" width="10.17" height="8.73" fill="#5aff9c"/>
<rect x="105.00" y="188.87" width="8.74" height="8.73" fill="#a5ff52"/>
<rect x="113.44" y="188.87" width="8.74" height="8.73" fill="#bdff3a"/>
<rect x="121.87" y="188.87" width="8.74" height="8.73" fill="#ceff29"/>
<rect x="130.31" y="188.87" width="25.61" height="8.73" fill="#deff19"/>
<rect x="155.62" y="188.87" width="8.74" height="8.73" fill="#ceff29"/>
<rect x="164.06" y="188.87" width="8.74" height="8.73" fill="#bdff3a"/>
<rect x="172.50" y="188.87" width="8.74" height="8.73" fill="#a5ff52"/>
<rect x="180.93" y="188.87" width="8.74" height="8.73" fill="#8cff6b"/>
<rect x="189.37" y="188.87" width="8.74" height="8.73" fill="#6bff8c"/>
<rect x="197.81" y="188.87" width="8.74" height="8.73" fill="#42ffb5"/>
<rect x="206.24" y="188.87" width="8.74" height="8.73" fill="#29ffce"/>
<rect x="214.68" y="188.87" width="8.74" height="8.73" fill="#19ffde"/>
<rect x="223.12" y="188.87" width="25.61" height="8.73" fill="#08f0ef"/>
<rect x="248.43" y="188.87" width="8.74" height="8.73" fill="#10fae6"/>
<rect x="256.87" y="188.87" width="8.74" height="8.73" fill="#19ffde"/>
<rect x="265.30" y="188.87" width="8.74" height="8.73" fill="#10fae6"/>
<rect x="273.74" y="188.87" width="8.74" height="8.73" fill="#08f0ef"/>
<rect x="282.18" y="188.87" width="8.74" height="8.73" fill="#00e5f7"/>
<rect x="290.61" y="188.87" width="8.74" height="8.73" fill="#00d1ff"/>
<rect x="299.05" y="188.87" width="8.74" height="8.73" fill="#00bdff"/>
<rect x="307.49" y="188.87" width="8.74" height="8.73" fill="#009eff"/>
<rect x="315.92" y="188.87" width="8.74" height="8.73" fill="#0075ff"/>
<rect x="324.36" y="188.87" width="8.74" height="8.73" fill="#0061ff"/>
<rect x="332.80" y="188.87" width="8.74" height="8.73" fill="#004dff"/>
<rect x="341.24" y="188.87" width="8.74" height="8.73" fill="#0038ff"/>
<rect x="349.67" y="188.87" width="8.74" height="8.73" fill="#0024ff"/>
<rect x="358.11" y="188.87" width="8.74" height="8.73" fill="#000fff"/>
<rect x="366.55" y="188.87" width="8.74" height="8.73" fill="#0000ff"/>
<rect x="374.98" y="188.87" width="8.74" height="8.73" fill="#0000f3"/>
<rect x="383.42" y="188.87" width="8.74" height="8.73" fill="#0000e8"/>
<rect x="391.86" y="188.87" width="25.61" height="8.73" fill="#0000e2"/>
<rect x="417.17" y="188.87" width="8.74" height="8.73" fill="#0000e3"/>
<rect x="425.61" y="188.87" width="8.74" height="8.73" fill="#0000e5"/>
<rect x="434.04" y="188.87" width="8.74" height="8.73" fill="#0000e8"/>
<rect x="442.48" y="188.87" width="8.74" height="8.73" fill="#0000eb"/>
<rect x="450.92" y="188.87" width="8.74" height="8.73" fill="#0000ee"/>
<rect x="459.35" y="188.87" width="8.74" height="8.73" fill="#0000f1"/>
<rect x="467.79" y="188.87" width="67.80" height="8.73" fill="#0000f3"/>
<rect x="535.29" y="188.87" width="8.74" height="8.73" fill="#0000ff"/>
<rect x="543.72" y="188.87" width="8.74" height="8.73" fill="#0024ff"/>
<rect x="552.16" y="188.87" width="8.74" height="8.73" fill="#004dff"/>
<rect x="560.60" y="188.87" width="8.74" height="8.73" fill="#0057ff"/>
<rect x="569.03" y="188.87" width="8.74" height="8.73" fill="#0075ff"/>
<rect x="577.47" y="188.87" width="8.74" height="8.73" fill="#0094ff"/>
<rect x="585.91" y="188.87" width="8.74" height="8.73" fill="#00b2ff"/>
<rect x="594.35" y="188.87" width="8.74" height="8.73" fill="#00c7ff"/>
<rect x="602.78" y="188.87" width="8.74" height="8.73" fill="#00dbff"/>
<rect x="611.22" y="188.87" width="17.17" height="8.73" fill="#00e5f7"/>
<rect x="628.09" y="188.87" width="8.74" height="8.73" fill="#00d1ff"/>
<rect x="636.53" y="188.87" width="8.74" height="8.73" fill="#00bdff"/>
<rect x="644.97" y="188.87" width="8.74" height="8.73" fill="#00b2ff"/>
<rect x="653.40" y="188.87" width="8.74" height="8.73" fill="#00a8ff"/>
<rect x="661.84" y="188.87" width="8.74" height="8.73" fill="#00b2ff"/>
<rect x="670.28" y="188.87" width="8.74" height="8.73" fill="#00c7ff"/>
<rect x="678.72" y="188.87" width="8.74" height="8.73" fill="#08f0ef"/>
<rect x="687.15" y="188.87" width="8.74" height="8.73" fill="#3affbd"/>
<rect x="695.59" y="188.87" width="8.74" height="8.73" fill="#63ff94"/>
<rect x="704.03" y="188.87" width="10.17" height="8.73" fill="#84ff73"/>
<rect x="105.00" y="197.30" width="8.74" height="8.73" fill="#deff19"/>
<rect x="113.44" y="197.30" width="8.74" height="8.73" fill="#ffd900"/>
<rect x="121.87" y="197.30" width="8.74" height="8.73" fill="#ffb300"/>
<rect x="130.31" y="197.30" width="8.74" height="8.73" fill="#ffa100"/>
<rect x="138.75" y="197.30" width="25.61" height="8.73" fill="#ff8e00"/>
<rect x="164.06" y="197.30" width="8.74" height="8.73" fill="#ffa100"/>
<rect x="172.50" y="197.30" width="8.74" height="8.73" fill="#ffc600"/>
<rect x="180.93" y="197.30" width="8.74" height="8.73" fill="#ffec00"/>
<rect x="189.37" y="197.30" width="8.74" height="8.73" fill="#ceff29"/>
<rect x="197.81" y="197.30" width="8.74" height="8.73" fill="#a5ff52"/>
<rect x="206.24" y="197.30" width="8.74" height="8.73" fill="#8cff6b"/>
<rect x="214.68" y="197.30" width="8.74" height="8.73" fill="#7bff7b"/>
<rect x="223.12" y="197.30" width="8.74" height="8.73" fill="#63ff94"/>
<rect x="231.56" y="197.30" width="8.74" height="8.73" fill="#52ffa5"/>
<rect x="239.99" y="197.30" width="8.74" height="8.73" fill="#5aff9c"/>
<rect x="248.43" y="197.30" width="17.17" height="8.73" fill="#63ff94"/>
<rect x="265.30" y="197.30" width="8.74" height="8.73" fill="#52ffa5"/>
<rect x="273.74" y="197.30" width="8.74" height="8.73" fill="#3affbd"/>
<rect x="282.18" y="197.30" width="8.74" height="8.73" fill="#29ffce"/>
<rect x="290.61" y="197.30" width="8.74" height="8.73" fill="#19ffde"/>
<rect x="299.05" y="197.30" width="8.74" height="8.73" fill="#08f0ef"/>
<rect x="307.49" y="197.30" width="8.74" height="8.73" fill="#00bdff"/>
<rect x="315.92" y="197.30" width="8.74" height="8.73" fill="#0080ff"/>
<rect x="324.36" y="197.30" width="8.74" height="8.73" fill="#006bff"/>
<rect x="332.80" y="197.30" width="8.74" height="8.73" fill="#004dff"/>
<rect x="341.24" y="197.30" width="8.74" height="8.73" fill="#002eff"/>
<rect x="349.67" y="197.30" width="8.74" height="8.73" fill="#0014ff"/>
<rect x="358.11" y="197.30" width="8.74" height="8.73" fill="#0000ff"/>
<rect x="366.55" y="197.30" width="8.74" height="8.73" fill="#0000ea"/>
<rect x="374.98" y="197.30" width="8.74" height="8.73" fill="#0000dc"/>
<rect x="383.42" y="197.30" width="8.74" height="8.73" fill="#0000d1"/>
<rect x="391.86" y="197.30" width="25.61" height="8.73" fill="#0000cb"/>
<rect x="417.17" y="197.30" width="8.74" height="8.73" fill="#0000cc"/>
<rect x="425.61" y="197.30" width="8.74" height="8.73" fill="#0000ce"/>
<rect x="434.04" y="197.30" width="8.74" height="8.73" fill="#0000d0"/>
<rect x="442.48" y="197.30" width="8.74" height="8.73" fill="#0000d4"/>
<rect x="450.92" y="197.30" width="8.74" height="8.73" fill="#0000d7"/>
<rect x="459.35" y="197.30" width="8.74" height="8.73" fill="#0000da"/>
<rect x="467.79" y="197.30" width="8.74" height="8.73" fill="#0000db"/>
<rect x="476.23" y="197.30" width="59.36" height="8.73" fill="#0000dc"/>
<rect x="535.29" y="197.30" width="8.74" height="8.73" fill="#0000eb"/>
<rect x="543.72" y="197.30" width="8.74" height="8.73" fill="#0000ff"/>
<rect x="552.16" y="197.30" width="8.74" height="8.73" fill="#0024ff"/>
<rect x="560.60" y="197.30" width="8.74" height="8.73" fill="#002eff"/>
<rect x="569.03" y="197.30" width="8.74" height="8.73" fill="#004dff"/>
<rect x="577.47" y="197.30" width="8.74" height="8.73" fill="#006bff"/>
<rect x="585.91" y="197.30" width="8.74" height="8.73" fill="#0094ff"/>
<rect x="594.35" y="197.30" width="8.74" height="8.73" fill="#00b2ff"/>
<rect x="602.78" y="197.30" width="8.74" height="8.73" fill="#00d1ff"/>
<rect x="611.22" y="197.30" width="17.17" height="8.73" fill="#00dbff"/>
<rect x="628.09" y="197.30" width="8.74" height="8.73" fill="#00d1ff"/>
<rect x="636.53" y="197.30" width="8.74" height="8.73" fill="#00c7ff"/>
<rect x="644.97" y="197.30" width="17.17" height="8.73" fill="#00bdff"/>
<rect x="661.84" y="197.30" width="8.74" height="8.73" fill="#00c7ff"/>
<rect x="670.28" y="197.30" width="8.74" height="8.73" fill="#00dbff"/>
<rect x="678.72" y="197.30" width="8.74" height="8.73" fill="#19ffde"/>
<rect x="687.15" y="197.30" width="8.74" height="8.73" fill="#4affad"/>
<rect x="695.59" y="197.30" width="8.74" height="8.73" fill="#7bff7b"/>
<rect x="704.03" y="197.30" width="10.17" height="8.73" fill="#a5ff52"/>
<rect x="105.00" y="205.73" width="8.74" height="8.73" fill="#ffd900"/>
<rect x="113.44" y="205.73" width="8.74" height="8.73" fill="#ff8e00"/>
<rect x="121.87" y="205.73" width="8.74" height="8.73" fill="#ff5e00"/>
<rect x="130.31" y="205.73" width="8.74" height="8.73" fill="#ff3900"/>
<rect x="138.75" y="205.73" width="8.74" height="8.73" fill="#ff1c00"/>
<rect x="147.19" y="205.73" width="25.61" height="8.73" fill="#e80000"/>
<rect x="172.50" y="205.73" width="8.74" height="8.73" fill="#ff1300"/>
<rect x="180.93" y="205.73" width="8.74" height="8.73" fill="#ff2f00"/>
<rect x="189.37" y="205.73" width="8.74" height="8.73" fill="#ff6800"/>
<rect x="197.81" y="205.73" width="8.74" height="8.73" fill="#ffaa00"/>
<rect x="206.24" y="205.73" width="8.74" height="8.73" fill="#ffd900"/>
<rect x="214.68" y="205.73" width="8.74" height="8.73" fill="#e6ff10"/>
<rect x="223.12" y="205.73" width="8.74" height="8.73" fill="#ceff29"/>
<rect x="231.56" y="205.73" width="17.17" height="8.73" fill="#bdff3a"/>
<rect x="248.43" y="205.73" width="17.17" height="8.73" fill="#ceff29"/>
<rect x="265.30" y="205.73" width="8.74" height="8.73" fill="#a5ff52"/>
<rect x="273.74" y="205.73" width="8.74" height="8.73" fill="#7bff7b"/>
<rect x="282.18" y="205.73" width="8.74" height="8.73" fill="#52ffa5"/>
<rect x="290.61" y="205.73" width="8.74" height="8.73" fill="#3affbd"/>
<rect x="299.05" y="205.73" width="8.74" height="8.73" fill="#21ffd6"/>
<rect x="307.49" y="205.73" width="8.74" height="8.73" fill="#00c7ff"/>
<rect x="315.92" y="205.73" width="8.74" height="8.73" fill="#0094ff"/>
<rect x="324.36" y="205.73" width="8.74" height="8.73" fill="#006bff"/>
<rect x="332.80" y="205.73" width="8.74" height="8.73" fill="#004dff"/>
<rect x="341.24" y="205.73" width="8.74" height="8.73" fill="#0029ff"/>
<rect x="349.67" y="205.73" width="8.74" height="8.73" fill="#000aff"/>
<rect x="358.11" y="205.73" width="8.74" height="8.73" fill="#0000f3"/>
<rect x="366.55" y="205.73" width="8.74" height="8.73" fill="#0000dc"/>
<rect x="374.98" y="205.73" width="8.74" height="8.73" fill="#0000cc"/>
<rect x="383.42" y="205.73" width="8.74" height="8.73" fill="#0000c3"/>
<rect x="391.86" y="205.73" width="25.61" height="8.73" fill="#0000b9"/>
<rect x="417.17" y="205.73" width="8.74" height="8.73" fill="#0000ba"/>
<rect x="425.61" y="205.73" width="8.74" height="8.73" fill="#0000bb"/>
<rect x="434.04" y="205.73" width="8.74" height="8.73" fill="#0000bd"/>
<rect x="442.48" y="205.73" width="8.74" height="8.73" fill="#0000bf"/>
<rect x="450.92" y="205.73" width="8.74" height="8.73" fill="#0000c1"/>
<rect x="459.35" y="205.73" width="8.74" height="8.73" fill="#0000c3"/>
<rect x="467.79" y="205.73" width="67.80" height="8.73" fill="#0000c5"/>
<rect x="535.29" y="205.73" width="8.74" height="8.73" fill="#0000d0"/>
<rect x="543.72" y="205.73" width="8.74" height="8.73" fill="#0000e8"/>
<rect x="552.16" y="205.73" width="8.74" height="8.73" fill="#0000ff"/>
<rect x="560.60" y="205.73" width="8.74" height="8.73" fill="#0005ff"/>
<rect x="569.03" y="205.73" width="8.74" height="8.73" fill="#0019ff"/>
<rect x="577.47" y="205.73" width="8.74" height="8.73" fill="#0042ff"/>
<rect x="585.91" y="205.73" width="8.74" height="8.73" fill="#006bff"/>
<rect x="594.35" y="205.73" width="8.74" height="8.73" fill="#009eff"/>
<rect x="602.78" y="205.73" width="8.74" height="8.73" fill="#00c7ff"/>
<rect x="611.22" y="205.73" width="8.74" height="8.73" fill="#00e5f7"/>
<rect x="619.66" y="205.73" width="8.74" height="8.73" fill="#10fae6"/>
<rect x="628.09" y="205.73" width="34.05" height="8.73" fill="#19ffde"/>
<rect x="661.84" y="205.73" width="8.74" height="8.73" fill="#21ffd6"/>
<rect x="670.28" y="205.73" width="8.74" height="8.73" fill="#31ffc5"/>
<rect x="678.72" y="205.73" width="8.74" height="8.73" fill="#4affad"/>
<rect x="687.15" y="205.73" width="8.74" height="8.73" fill="#7bff7b"/>
<rect x="695.59" y="205.73" width="8.74" height="8.73" fill="#adff4a"/>
<rect x="704.03" y="205.73" width="10.17" height="8.73" fill="#e6ff10"/>
<rect x="105.00" y="214.16" width="8.74" height="8.73" fill="#ffd900"/>
<rect x="113.44" y="214.16" width="8.74" height="8.73" fill="#ff9700"/>
<rect x="121.87" y="214.16" width="8.74" height="8.73" fill="#ff6800"/>
<rect x="130.31" y="214.16" width="8.74" height="8.73" fill="#ff3900"/>
<rect x="138.75" y="214.16" width="8.74" height="8.73" fill="#ff1300"/>
<rect x="147.19" y="214.16" width="8.74" height="8.73" fill="#d10000"/>
<rect x="155.62" y="214.16" width="8.74" height="8.73" fill="#a20000"/>
<rect x="164.06" y="214.16" width="8.74" height="8.73" fill="#8b0000"/>
<rect x="172.50" y="214.16" width="17.17" height="8.73" fill="#800000"/>
<rect x="189.37" y="214.16" width="8.74" height="8.73" fill="#a20000"/>
<rect x="197.81" y="214.16" width="8.74" height="8.73" fill="#d10000"/>
<rect x="206.24" y="214.16" width="8.74" height="8.73" fill="#ff2600"/>
<rect x="214.68" y="214.16" width="8.74" height="8.73" fill="#ff4c00"/>
<rect x="223.12" y="214.16" width="8.74" height="8.73" fill="#ff6800"/>
<rect x="231.56" y="214.16" width="8.74" height="8.73" fill="#ff7100"/>
<rect x="239.99" y="214.16" width="8.74" height="8.73" fill="#ff7b00"/>
<rect x="248.43" y="214.16" width="8.74" height="8.73" fill="#ff8e00"/>
<rect x="256.87" y="214.16" width="8.74" height="8.73" fill="#ffa100"/>
<rect x="265.30" y="214.16" width="8.74" height="8.73" fill="#ffc600"/>
<rect x="273.74" y="214.16" width="8.74" height="8.73" fill="#efff08"/>
<rect x="282.18" y="214.16" width="8.74" height="8.73" fill="#b5ff42"/>
<rect x="290.61" y="214.16" width="8.74" height="8.73" fill="#7bff7b"/>
<rect x="299.05" y="214.16" width="8.74" height="8.73" fill="#4affad"/>
<rect x="307.49" y="214.16" width="8.74" height="8.73" fill="#00dbff"/>
<rect x="315.92" y="214.16" width="8.74" height="8.73" fill="#009eff"/>
<rect x="324.36" y="214.16" width="8.74" height="8.73" fill="#006bff"/>
<rect x="332.80" y="214.16" width="8.74" height="8.73" fill="#0042ff"/>
<rect x="341.24" y="214.16" width="8.74" height="8.73" fill="#001fff"/>
<rect x="349.67" y="214.16" width="8.74" height="8.73" fill="#0000ff"/>
<rect x="358.11" y="214.16" width="8.74" height="8.73" fill="#0000e1"/>
<rect x="366.55" y="214.16" width="8.74" height="8.73" fill="#0000cc"/>
<rect x="374.98" y="214.16" width="8.74" height="8.73" fill="#0000bd"/>
<rect x="383.42" y="214.16" width="8.74" height="8.73" fill="#0000ae"/>
<rect x="391.86" y="214.16" width="34.05" height="8.73" fill="#0000a8"/>
<rect x="425.61" y="214.16" width="8.74" height="8.73" fill="#0000a7"/>
<rect x="434.04" y="214.16" width="8.74" height="8.73" fill="#0000a6"/>
<rect x="442.48" y="214.16" width="8.74" height="8.73" fill="#0000a5"/>
<rect x="450.92" y="214.16" width="8.74" height="8.73" fill="#0000a4"/>
<rect x="459.35" y="214.16" width="17.17" height="8.73" fill="#0000a3"/>
<rect x="476.23" y="214.16" width="8.74" height="8.73" fill="#0000a2"/>
<rect x="484.66" y="214.16" width="8.74" height="8.73" fill="#0000a3"/>
<rect x="493.10" y="214.16" width="8.74" height="8.73" fill="#0000a6"/>
<rect x="501.54" y="214.16" width="8.74" height="8.73" fill="#0000aa"/>
<rect x="509.98" y="214.16" width="8.74" height="8.73" fill="#0000ae"/>
<rect x="518.41" y="214.16" width="8.74" height="8.73" fill="#0000b1"/>
<rect x="526.85" y="214.16" width="8.74" height="8.73" fill="#0000b6"/>
<rect x="535.29" y="214.16" width="8.74" height="8.73" fill="#0000bc"/>
<rect x="543.72" y="214.16" width="8.74" height="8.73" fill="#0000c5"/>
<rect x="552.16" y="214.16" width="8.74" height="8.73" fill="#0000e8"/>
<rect x="560.60" y="214.16" width="8.74" height="8.73" fill="#0000f3"/>
<rect x="569.03" y="214.16" width="8.74" height="8.73" fill="#0000ff"/>
<rect x="577.47" y="214.16" width="8.74" height="8.73" fill="#0019ff"/>
<rect x="585.91" y="214.16" width="8.74" height="8.73" fill="#004dff"/>
<rect x="594.35" y="214.16" width="8.74" height="8.73" fill="#0094ff"/>
<rect x="602.78" y="214.16" width="8.74" height="8.73" fill="#00dbff"/>
<rect x="611.22" y="214.16" width="8.74" height="8.73" fill="#21ffd6"/>
<rect x="619.66" y="214.16" width="8.74" height="8.73" fill="#3affbd"/>
<rect x="628.09" y="214.16" width="8.74" height="8.73" fill="#42ffb5"/>
<rect x="636.53" y="214.16" width="25.61" height="8.73" fill="#4affad"/>
<rect x="661.84" y="214.16" width="8.74" height="8.73" fill="#52ffa5"/>
<rect x="670.28" y="214.16" width="8.74" height="8.73" fill="#5aff9c"/>
<rect x="678.72" y="214.16" width="8.74" height="8.73" fill="#6bff8c"/>
<rect x="687.15" y="214.16" width="8.74" height="8.73" fill="#94ff63"/>
<rect x="695.59" y="214.16" width="8.74" height="8.73" fill="#bdff3a"/>
<rect x="704.03" y="214.16" width="10.17" height="8.73" fill="#efff08"/>
<rect x="105.00" y="222.59" width="8.74" height="8.73" fill="#ceff29"/>
<rect x="113.44" y="222.59" width="8.74" height="8.73" fill="#f7f600"/>
<rect x="121.87" y="222.59" width="8.74" height="8.73" fill="#ffd000"/>
<rect x="130.31" y="222.59" width="8.74" height="8.73" fill="#ffb300"/>
<rect x="138.75" y="222.59" width="8.74" height="8.73" fill="#ffa100"/>
<rect x="147.19" y="222.59" width="8.74" height="8.73" fill="#ff7b00"/>
<rect x="155.62" y="222.59" width="8.74" height="8.73" fill="#ff5500"/>
<rect x="164.06" y="222.59" width="8.74" height="8.73" fill="#ff2f00"/>
<rect x="172.50" y="222.59" width="8.74" height="8.73" fill="#ff1300"/>
<rect x="180.93" y="222.59" width="8.74" height="8.73" fill="#dc0000"/>
<rect x="189.37" y="222.59" width="25.61" height="8.73" fill="#d10000"/>
<rect x="214.68" y="222.59" width="42.48" height="8.73" fill="#dc0000"/>
<rect x="256.87" y="222.59" width="8.74" height="8.73" fill="#f30900"/>
<rect x="265.30" y="222.59" width="8.74" height="8.73" fill="#ff2f00"/>
<rect x="273.74" y="222.59" width="8.74" height="8.73" fill="#ff8e00"/>
<rect x="282.18" y="222.59" width="8.74" height="8.73" fill="#ffec00"/>
<rect x="290.61" y="222.59" width="8.74" height="8.73" fill="#a5ff52"/>
<rect x="299.05" y="222.59" width="8.74" height="8.73" fill="#5aff9c"/>
<rect x="307.49" y="222.59" width="8.74" height="8.73" fill="#0cf5ea"/>
<rect x="315.92" y="222.59" width="8.74" height="8.73" fill="#0094ff"/>
<rect x="324.36" y="222.59" width="8.74" height="8.73" fill="#0061ff"/>
<rect x="332.80" y="222.59" width="8.74" height="8.73" fill="#0038ff"/>
<rect x="341.24" y="222.59" width="8.74" height="8.73" fill="#000fff"/>
<rect x="349.67" y="222.59" width="8.74" height="8.73" fill="#0000ea"/>
<rect x="358.11" y="222.59" width="8.74" height="8.73" fill="#0000d1"/>
<rect x="366.55" y="222.59" width="8.74" height="8.73" fill="#0000bd"/>
<rect x="374.98" y="222.59" width="8.74" height="8.73" fill="#0000ae"/>
<rect x="383.42" y="222.59" width="8.74" height="8.73" fill="#0000a0"/>
<rect x="391.86" y="222.59" width="42.48" height="8.73" fill="#00009c"/>
<rect x="434.04" y="222.59" width="8.74" height="8.73" fill="#00009b"/>
<rect x="442.48" y="222.59" width="8.74" height="8.73" fill="#00009a"/>
<rect x="450.92" y="222.59" width="8.74" height="8.73" fill="#000099"/>
<rect x="459.35" y="222.59" width="8.74" height="8.73" fill="#000098"/>
<rect x="467.79" y="222.59" width="25.61" height="8.73" fill="#000097"/>
<rect x="493.10" y="222.59" width="8.74" height="8.73" fill="#000099"/>
<rect x="501.54" y="222.59" width="8.74" height="8.73" fill="#00009b"/>
<rect x="509.98" y="222.59" width="8.74" height="8.73" fill="#00009e"/>
<rect x="518.41" y="222.59" width="8.74" height="8.73" fill="#0000a2"/>
<rect x="526.85" y="222.59" width="8.74" height="8.73" fill="#0000a7"/>
<rect x="535.29" y="222.59" width="8.74" height="8.73" fill="#0000b0"/>
<rect x="543.72" y="222.59" width="8.74" height="8.73" fill="#0000c3"/>
<rect x="552.16" y="222.59" width="8.74" height="8.73" fill="#0000d6"/>
<rect x="560.60" y="222.59" width="8.74" height="8.73" fill="#0000ea"/>
<rect x="569.03" y="222.59" width="8.74" height="8.73" fill="#0000ff"/>
<rect x="577.47" y="222.59" width="8.74" height="8.73" fill="#001fff"/>
<rect x="585.91" y="222.59" width="8.74" height="8.73" fill="#004dff"/>
<rect x="594.35" y="222.59" width="8.74" height="8.73" fill="#008aff"/>
<rect x="602.78" y="222.59" width="8.74" height="8.73" fill="#00c7ff"/>
<rect x="611.22" y="222.59" width="8.74" height="8.73" fill="#10fae6"/>
<rect x="619.66" y="222.59" width="8.74" height="8.73" fill="#29ffce"/>
<rect x="628.09" y="222.59" width="8.74" height="8.73" fill="#31ffc5"/>
<rect x="636.53" y="222.59" width="8.74" height="8.73" fill="#3affbd"/>
<rect x="644.97" y="222.59" width="17.17" height="8.73" fill="#42ffb5"/>
<rect x="661.84" y="222.59" width="8.74" height="8.73" fill="#4affad"/>
<rect x="670.28" y="222.59" width="8.74" height="8.73" fill="#52ffa5"/>
<rect x="678.72" y="222.59" width="8.74" height="8.73" fill="#63ff94"/>
<rect x="687.15" y="222.59" width="8.74" height="8.73" fill="#7bff7b"/>
<rect x="695.59" y="222.59" width="8.74" height="8.73" fill="#9cff5a"/>
<rect x="704.03" y="222.59" width="10.17" height="8.73" fill="#bdff3a"/>
<rect x="105.00" y="231.02" width="8.74" height="8.73" fill="#8cff6b"/>
<rect x="113.44" y="231.02" width="25.61" height="8.73" fill="#94ff63"/>
<rect x="138.75" y="231.02" width="8.74" height="8.73" fill="#9cff5a"/>
<rect x="147.19" y="231.02" width="8.74" height="8.73" fill="#a5ff52"/>
<rect x="155.62" y="231.02" width="8.74" height="8.73" fill="#b5ff42"/>
<rect x="164.06" y="231.02" width="8.74" height="8.73" fill="#ceff29"/>
<rect x="172.50" y="231.02" width="8.74" height="8.73" fill="#efff08"/>
<rect x="180.93" y="231.02" width="8.74" height="8.73" fill="#ffe300"/>
<rect x="189.37" y="231.02" width="8.74" height="8.73" fill="#ffd000"/>
<rect x="197.81" y="231.02" width="8.74" height="8.73" fill="#ffbd00"/>
<rect x="206.24" y="231.02" width="8.74" height="8.73" fill="#ffaa00"/>
<rect x="214.68" y="231.02" width="8.74" height="8.73" fill="#ff8e00"/>
<rect x="223.12" y="231.02" width="8.74" height="8.73" fill="#ff5e00"/>
<rect x="231.56" y="231.02" width="8.74" height="8.73" fill="#ff2f00"/>
<rect x="239.99" y="231.02" width="8.74" height="8.73" fill="#d10000"/>
<rect x="248.43" y="231.02" width="8.74" height="8.73" fill="#970000"/>
<rect x="256.87" y="231.02" width="8.74" height="8.73" fill="#a20000"/>
<rect x="265.30" y="231.02" width="8.74" height="8.73" fill="#f30900"/>
<rect x="273.74" y="231.02" width="8.74" height="8.73" fill="#ff6800"/>
<rect x="282.18" y="231.02" width="8.74" height="8.73" fill="#ffd900"/>
<rect x="290.61" y="231.02" width="8.74" height="8.73" fill="#a5ff52"/>
<rect x="299.05" y="231.02" width="8.74" height="8.73" fill="#52ffa5"/>
<rect x="307.49" y="231.02" width="8.74" height="8.73" fill="#08f0ef"/>
<rect x="315.92" y="231.02" width="8.74" height="8.73" fill="#0075ff"/>
<rect x="324.36" y="231.02" width="8.74" height="8.73" fill="#0042ff"/>
<rect x="332.80" y="231.02" width="8.74" height="8.73" fill="#001fff"/>
<rect x="341.24" y="231.02" width="8.74" height="8.73" fill="#0000f3"/>
<rect x="349.67" y="231.02" width="8.74" height="8.73" fill="#0000dc"/>
<rect x="358.11" y="231.02" width="8.74" height="8.73" fill="#0000c3"/>
<rect x="366.55" y="231.02" width="8.74" height="8.73" fill="#0000b4"/>
<rect x="374.98" y="231.02" width="8.74" height="8.73" fill="#0000a5"/>
<rect x="383.42" y="231.02" width="8.74" height="8.73" fill="#00009a"/>
<rect x="391.86" y="231.02" width="101.54" height="8.73" fill="#000097"/>
<rect x="493.10" y="231.02" width="8.74" height="8.73" fill="#000099"/>
<rect x="501.54" y="231.02" width="8.74" height="8.73" fill="#00009c"/>
<rect x="509.98" y="231.02" width="8.74" height="8.73" fill="#0000a0"/>
<rect x="518.41" y="231.02" width="8.74" height="8.73" fill="#0000a4"/>
<rect x="526.85" y="231.02" width="8.74" height="8.73" fill="#0000a9"/>
<rect x="535.29" y="231.02" width="8.74" height="8.73" fill="#0000b4"/>
<rect x="543.72" y="231.02" width="8.74" height="8.73" fill="#0000c7"/>
<rect x="552.16" y="231.02" width="8.74" height="8.73" fill="#0000d6"/>
<rect x="560.60" y="231.02" width="8.74" height="8.73" fill="#0000ea"/>
<rect x="569.03" y="231.02" width="8.74" height="8.73" fill="#0000ff"/>
<rect x="577.47" y="231.02" width="8.74" height="8.73" fill="#001fff"/>
<rect x="585.91" y="231.02" width="8.74" height="8.73" fill="#004dff"/>
<rect x="594.35" y="231.02" width="8.74" height="8.73" fill="#0080ff"/>
<rect x="602.78" y="231.02" width="8.74" height="8.73" fill="#00b2ff"/>
<rect x="611.22" y="231.02" width="8.74" height="8.73" fill="#00dbff"/>
<rect x="619.66" y="231.02" width="8.74" height="8.73" fill="#10fae6"/>
<rect x="628.09" y="231.02" width="8.74" height="8.73" fill="#19ffde"/>
<rect x="636.53" y="231.02" width="8.74" height="8.73" fill="#21ffd6"/>
<rect x="644.97" y="231.02" width="8.74" height="8.73" fill="#29ffce"/>
<rect x="653.40" y="231.02" width="17.17" height="8.73" fill="#31ffc5"/>
<rect x="670.28" y="231.02" width="8.74" height="8.73" fill="#3affbd"/>
<rect x="678.72" y="231.02" width="8.74" height="8.73" fill="#4affad"/>
<rect x="687.15" y="231.02" width="8.74" height="8.73" fill="#5aff9c"/>
<rect x="695.59" y="231.02" width="8.74" height="8.73" fill="#73ff84"/>
<rect x="704.03" y="231.02" width="10.17" height="8.73" fill="#8cff6b"/>
<rect x="105.00" y="239.45" width="8.74" height="8.73" fill="#5aff9c"/>
<rect x="113.44" y="239.45" width="8.74" height="8.73" fill="#52ffa5"/>
<rect x="121.87" y="239.45" width="8.74" height="8.73" fill="#42ffb5"/>
<rect x="130.31" y="239.45" width="25.61" height="8.73" fill="#3affbd"/>
<rect x="155.62" y="239.45" width="8.74" height="8.73" fill="#42ffb5"/>
<rect x="164.06" y="239.45" width="8.74" height="8.73" fill="#4affad"/>
<rect x="172.50" y="239.45" width="8.74" height="8.73" fill="#5aff9c"/>
<rect x="180.93" y="239.45" width="8.74" height="8.73" fill="#6bff8c"/>
<rect x="189.37" y="239.45" width="8.74" height="8.73" fill="#73ff84"/>
<rect x="197.81" y="239.45" width="8.74" height="8.73" fill="#7bff7b"/>
<rect x="206.24" y="239.45" width="8.74" height="8.73" fill="#84ff73"/>
<rect x="214.68" y="239.45" width="8.74" height="8.73" fill="#9cff5a"/>
<rect x="223.12" y="239.45" width="8.74" height="8.73" fill="#bdff3a"/>
<rect x="231.56" y="239.45" width="8.74" height="8.73" fill="#efff08"/>
<rect x="239.99" y="239.45" width="8.74" height="8.73" fill="#ffb300"/>
<rect x="248.43" y="239.45" width="8.74" height="8.73" fill="#ff6800"/>
<rect x="256.87" y="239.45" width="8.74" height="8.73" fill="#ff2f00"/>
<rect x="265.30" y="239.45" width="8.74" height="8.73" fill="#ff4200"/>
<rect x="273.74" y="239.45" width="8.74" height="8.73" fill="#ff9700"/>
<rect x="282.18" y="239.45" width="8.74" height="8.73" fill="#f7f600"/>
<rect x="290.61" y="239.45" width="8.74" height="8.73" fill="#8cff6b"/>
<rect x="299.05" y="239.45" width="8.74" height="8.73" fill="#3affbd"/>
<rect x="307.49" y="239.45" width="8.74" height="8.73" fill="#00d1ff"/>
<rect x="315.92" y="239.45" width="8.74" height="8.73" fill="#0061ff"/>
<rect x="324.36" y="239.45" width="8.74" height="8.73" fill="#0029ff"/>
<rect x="332.80" y="239.45" width="8.74" height="8.73" fill="#0000ff"/>
<rect x="341.24" y="239.45" width="8.74" height="8.73" fill="#0000e1"/>
<rect x="349.67" y="239.45" width="8.74" height="8.73" fill="#0000c7"/>
<rect x="358.11" y="239.45" width="8.74" height="8.73" fill="#0000b4"/>
<rect x="366.55" y="239.45" width="8.74" height="8.73" fill="#0000a5"/>
<rect x="374.98" y="239.45" width="8.74" height="8.73" fill="#00009a"/>
<rect x="383.42" y="239.45" width="109.98" height="8.73" fill="#000097"/>
<rect x="493.10" y="239.45" width="8.74" height="8.73" fill="#000099"/>
<rect x="501.54" y="239.45" width="8.74" height="8.73" fill="#00009c"/>
<rect x="509.98" y="239.45" width="8.74" height="8.73" fill="#0000a0"/>
<rect x="518.41" y="239.45" width="8.74" height="8.73" fill="#0000a4"/>
<rect x="526.85" y="239.45" width="8.74" height="8.73" fill="#0000a9"/>
<rect x="535.29" y="239.45" width="8.74" height="8.73" fill="#0000b4"/>
<rect x="543.72" y="239.45" width="8.74" height="8.73" fill="#0000c7"/>
<rect x="552.16" y="239.45" width="8.74" height="8.73" fill="#0000da"/>
<rect x="560.60" y="239.45" width="8.74" height="8.73" fill="#0000ee"/>
<rect x="569.03" y="239.45" width="8.74" height="8.73" fill="#0000ff"/>
<rect x="577.47" y="239.45" width="8.74" height="8.73" fill="#0024ff"/>
<rect x="585.91" y="239.45" width="8.74" height="8.73" fill="#0052ff"/>
<rect x="594.35" y="239.45" width="8.74" height="8.73" fill="#0080ff"/>
<rect x="602.78" y="239.45" width="8.74" height="8.73" fill="#00a8ff"/>
<rect x="611.22" y="239.45" width="8.74" height="8.73" fill="#00d1ff"/>
<rect x="619.66" y="239.45" width="8.74" height="8.73" fill="#08f0ef"/>
<rect x="628.09" y="239.45" width="8.74" height="8.73" fill="#19ffde"/>
<rect x="636.53" y="239.45" width="8.74" height="8.73" fill="#21ffd6"/>
<rect x="644.97" y="239.45" width="8.74" height="8.73" fill="#29ffce"/>
<rect x="653.40" y="239.45" width="8.74" height="8.73" fill="#31ffc5"/>
<rect x="661.84" y="239.45" width="8.74" height="8.73" fill="#3affbd"/>
<rect x="670.28" y="239.45" width="8.74" height="8.73" fill="#42ffb5"/>
<rect x="678.72" y="239.45" width="8.74" height="8.73" fill="#52ffa5"/>
<rect x="687.15" y="239.45" width="8.74" height="8.73" fill="#63ff94"/>
<rect x="695.59" y="239.45" width="8.74" height="8.73" fill="#7bff7b"/>
<rect x="704.03" y="239.45" width="10.17" height="8.73" fill="#8cff6b"/>
<rect x="105.00" y="247.88" width="8.74" height="8.73" fill="#94ff63"/>
<rect x="113.44" y="247.88" width="8.74" height="8.73" fill="#84ff73"/>
<rect x="121.87" y="247.88" width="8.74" height="8.73" fill="#73ff84"/>
<rect x="130.31" y="247.88" width="76.23" height="8.73" fill="#63ff94"/>
<rect x="206.24" y="247.88" width="25.61" height="8.73" fill="#5aff9c"/>
<rect x="231.56" y="247.88" width="8.74" height="8.73" fill="#63ff94"/>
<rect x="239.99" y="247.88" width="8.74" height="8.73" fill="#73ff84"/>
<rect x="248.43" y="247.88" width="8.74" height="8.73" fill="#a5ff52"/>
<rect x="256.87" y="247.88" width="8.74" height="8.73" fill="#c5ff31"/>
<rect x="265.30" y="247.88" width="8.74" height="8.73" fill="#d6ff21"/>
<rect x="273.74" y="247.88" width="8.74" height="8.73" fill="#ffd900"/>
<rect x="282.18" y="247.88" width="8.74" height="8.73" fill="#52ffa5"/>
<rect x="290.61" y="247.88" width="8.74" height="8.73" fill="#00b2ff"/>
<rect x="299.05" y="247.88" width="8.74" height="8.73" fill="#004dff"/>
<rect x="307.49" y="247.88" width="8.74" height="8.73" fill="#0005ff"/>
<rect x="315.92" y="247.88" width="8.74" height="8.73" fill="#0000e8"/>
<rect x="324.36" y="247.88" width="8.74" height="8.73" fill="#0000d1"/>
<rect x="332.80" y="247.88" width="8.74" height="8.73" fill="#0000bf"/>
<rect x="341.24" y="247.88" width="8.74" height="8.73" fill="#0000b4"/>
<rect x="349.67" y="247.88" width="8.74" height="8.73" fill="#0000ae"/>
<rect x="358.11" y="247.88" width="8.74" height="8.73" fill="#0000a2"/>
<rect x="366.55" y="247.88" width="42.48" height="8.73" fill="#000097"/>
<rect x="408.73" y="247.88" width="8.74" height="8.73" fill="#00009c"/>
<rect x="417.17" y="247.88" width="8.74" height="8.73" fill="#00009f"/>
<rect x="425.61" y="247.88" width="8.74" height="8.73" fill="#0000a1"/>
<rect x="434.04" y="247.88" width="59.36" height="8.73" fill="#0000a2"/>
<rect x="493.10" y="247.88" width="8.74" height="8.73" fill="#0000a3"/>
<rect x="501.54" y="247.88" width="8.74" height="8.73" fill="#0000a4"/>
<rect x="509.98" y="247.88" width="8.74" height="8.73" fill="#0000a5"/>
<rect x="518.41" y="247.88" width="8.74" height="8.73" fill="#0000a7"/>
<rect x="526.85" y="247.88" width="8.74" height="8.73" fill="#0000a9"/>
<rect x="535.29" y="247.88" width="8.74" height="8.73" fill="#0000b9"/>
<rect x="543.72" y="247.88" width="8.74" height="8.73" fill="#0000c7"/>
<rect x="552.16" y="247.88" width="8.74" height="8.73" fill="#0000dc"/>
<rect x="560.60" y="247.88" width="8.74" height="8.73" fill="#0000f0"/>
<rect x="569.03" y="247.88" width="8.74" height="8.73" fill="#0005ff"/>
<rect x="577.47" y="247.88" width="8.74" height="8.73" fill="#0029ff"/>
<rect x="585.91" y="247.88" width="8.74" height="8.73" fill="#0057ff"/>
<rect x="594.35" y="247.88" width="8.74" height="8.73" fill="#0080ff"/>
<rect x="602.78" y="247.88" width="8.74" height="8.73" fill="#00a8ff"/>
<rect x="611.22" y="247.88" width="8.74" height="8.73" fill="#00d1ff"/>
<rect x="619.66" y="247.88" width="8.74" height="8.73" fill="#10fae6"/>
<rect x="628.09" y="247.88" width="8.74" height="8.73" fill="#29ffce"/>
<rect x="636.53" y="247.88" width="8.74" height="8.73" fill="#3affbd"/>
<rect x="644.97" y="247.88" width="8.74" height="8.73" fill="#42ffb5"/>
<rect x="653.40" y="247.88" width="8.74" height="8.73" fill="#4affad"/>
<rect x="661.84" y="247.88" width="8.74" height="8.73" fill="#52ffa5"/>
<rect x="670.28" y="247.88" width="8.74" height="8.73" fill="#5aff9c"/>
<rect x="678.72" y="247.88" width="8.74" height="8.73" fill="#6bff8c"/>
<rect x="687.15" y="247.88" width="8.74" height="8.73" fill="#7bff7b"/>
<rect x="695.59" y="247.88" width="8.74" height="8.73" fill="#8cff6b"/>
<rect x="704.03" y="247.88" width="10.17" height="8.73" fill="#9cff5a"/>
<rect x="105.00" y="256.31" width="34.05" height="8.73" fill="#7bff7b"/>
<rect x="138.75" y="256.31" width="8.74" height="8.73" fill="#84ff73"/>
<rect x="147.19" y="256.31" width="8.74" height="8.73" fill="#8cff6b"/>
<rect x="155.62" y="256.31" width="8.74" height="8.73" fill="#9cff5a"/>
<rect x="164.06" y="256.31" width="8.74" height="8.73" fill="#adff4a"/>
<rect x="172.50" y="256.31" width="8.74" height="8.73" fill="#bdff3a"/>
<rect x="180.93" y="256.31" width="8.74" height="8.73" fill="#c5ff31"/>
<rect x="189.37" y="256.31" width="8.74" height="8.73" fill="#b5ff42"/>
<rect x="197.81" y="256.31" width="8.74" height="8.73" fill="#a5ff52"/>
<rect x="206.24" y="256.31" width="8.74" height="8.73" fill="#94ff63"/>
<rect x="214.68" y="256.31" width="8.74" height="8.73" fill="#8cff6b"/>
<rect x="223.12" y="256.31" width="17.17" height="8.73" fill="#7bff7b"/>
<rect x="239.99" y="256.31" width="8.74" height="8.73" fill="#73ff84"/>
<rect x="248.43" y="256.31" width="8.74" height="8.73" fill="#6bff8c"/>
<rect x="256.87" y="256.31" width="8.74" height="8.73" fill="#5aff9c"/>
<rect x="265.30" y="256.31" width="8.74" height="8.73" fill="#29ffce"/>
<rect x="273.74" y="256.31" width="8.74" height="8.73" fill="#00d1ff"/>
<rect x="282.18" y="256.31" width="8.74" height="8.73" fill="#0080ff"/>
<rect x="290.61" y="256.31" width="8.74" height="8.73" fill="#002eff"/>
<rect x="299.05" y="256.31" width="8.74" height="8.73" fill="#0000ff"/>
<rect x="307.49" y="256.31" width="8.74" height="8.73" fill="#0000d1"/>
<rect x="315.92" y="256.31" width="17.17" height="8.73" fill="#0000ae"/>
<rect x="332.80" y="256.31" width="160.60" height="8.73" fill="#0000a2"/>
<rect x="493.10" y="256.31" width="8.74" height="8.73" fill="#0000a3"/>
<rect x="501.54" y="256.31" width="8.74" height="8.73" fill="#0000a4"/>
<rect x="509.98" y="256.31" width="8.74" height="8.73" fill="#0000a5"/>
<rect x="518.41" y="256.31" width="8.74" height="8.73" fill="#0000a7"/>
<rect x="526.85" y="256.31" width="8.74" height="8.73" fill="#0000a9"/>
<rect x="535.29" y="256.31" width="8.74" height="8.73" fill="#0000b7"/>
<rect x="543.72" y="256.31" width="8.74" height="8.73" fill="#0000c5"/>
<rect x="552.16" y="256.31" width="8.74" height="8.73" fill="#0000da"/>
<rect x="560.60" y="256.31" width="8.74" height="8.73" fill="#0000ee"/>
<rect x="569.03" y="256.31" width="8.74" height="8.73" fill="#0000ff"/>
<rect x="577.47" y="256.31" width="8.74" height="8.73" fill="#0024ff"/>
<rect x="585.91" y="256.31" width="8.74" height="8.73" fill="#004dff"/>
<rect x="594.35" y="256.31" width="8.74" height="8.73" fill="#0066ff"/>
<rect x="602.78" y="256.31" width="8.74" height="8.73" fill="#0075ff"/>
<rect x="611.22" y="256.31" width="8.74" height="8.73" fill="#008aff"/>
<rect x="619.66" y="256.31" width="8.74" height="8.73" fill="#009eff"/>
<rect x="628.09" y="256.31" width="8.74" height="8.73" fill="#00a8ff"/>
<rect x="636.53" y="256.31" width="8.74" height="8.73" fill="#00b2ff"/>
<rect x="644.97" y="256.31" width="8.74" height="8.73" fill="#00bdff"/>
<rect x="653.40" y="256.31" width="8.74" height="8.73" fill="#00c7ff"/>
<rect x="661.84" y="256.31" width="8.74" height="8.73" fill="#00dbff"/>
<rect x="670.28" y="256.31" width="8.74" height="8.73" fill="#10fae6"/>
<rect x="678.72" y="256.31" width="8.74" height="8.73" fill="#31ffc5"/>
<rect x="687.15" y="256.31" width="8.74" height="8.73" fill="#52ffa5"/>
<rect x="695.59" y="256.31" width="8.74" height="8.73" fill="#6bff8c"/>
<rect x="704.03" y="256.31" width="10.17" height="8.73" fill="#8cff6b"/>
<rect x="105.00" y="264.74" width="8.74" height="8.73" fill="#21ffd6"/>
<rect x="113.44" y="264.74" width="42.49" height="8.73" fill="#19ffde"/>
<rect x="155.62" y="264.74" width="8.74" height="8.73" fill="#29ffce"/>
<rect x="164.06" y="264.74" width="8.74" height="8.73" fill="#42ffb5"/>
<rect x="172.50" y="264.74" width="8.74" height="8.73" fill="#6bff8c"/>
<rect x="180.93" y="264.74" width="8.74" height="8.73" fill="#94ff63"/>
<rect x="189.37" y="264.74" width="8.74" height="8.73" fill="#b5ff42"/>
<rect x="197.81" y="264.74" width="42.48" height="8.73" fill="#bdff3a"/>
<rect x="239.99" y="264.74" width="8.74" height="8.73" fill="#b5ff42"/>
<rect x="248.43" y="264.74" width="8.74" height="8.73" fill="#8cff6b"/>
<rect x="256.87" y="264.74" width="8.74" height="8.73" fill="#63ff94"/>
<rect x="265.30" y="264.74" width="8.74" height="8.73" fill="#31ffc5"/>
<rect x="273.74" y="264.74" width="8.74" height="8.73" fill="#00d1ff"/>
<rect x="282.18" y="264.74" width="8.74" height="8.73" fill="#0075ff"/>
<rect x="290.61" y="264.74" width="8.74" height="8.73" fill="#0024ff"/>
<rect x="299.05" y="264.74" width="8.74" height="8.73" fill="#0000f3"/>
<rect x="307.49" y="264.74" width="8.74" height="8.73" fill="#0000d1"/>
<rect x="315.92" y="264.74" width="93.11" height="8.73" fill="#0000ae"/>
<rect x="408.73" y="264.74" width="8.74" height="8.73" fill="#0000a8"/>
<rect x="417.17" y="264.74" width="8.74" height="8.73" fill="#0000a7"/>
<rect x="425.61" y="264.74" width="8.74" height="8.73" fill="#0000a5"/>
<rect x="434.04" y="264.74" width="17.17" height="8.73" fill="#0000a4"/>
<rect x="450.92" y="264.74" width="17.17" height="8.73" fill="#0000a3"/>
<rect x="467.79" y="264.74" width="25.61" height="8.73" fill="#0000a2"/>
<rect x="493.10" y="264.74" width="8.74" height="8.73" fill="#0000a3"/>
<rect x="501.54" y="264.74" width="8.74" height="8.73" fill="#0000a4"/>
<rect x="509.98" y="264.74" width="8.74" height="8.73" fill="#0000a5"/>
<rect x="518.41" y="264.74" width="8.74" height="8.73" fill="#0000a7"/>
<rect x="526.85" y="264.74" width="8.74" height="8.73" fill="#0000a9"/>
<rect x="535.29" y="264.74" width="8.74" height="8.73" fill="#0000b4"/>
<rect x="543.72" y="264.74" width="8.74" height="8.73" fill="#0000c3"/>
<rect x="552.16" y="264.74" width="8.74" height="8.73" fill="#0000d6"/>
<rect x="560.60" y="264.74" width="8.74" height="8.73" fill="#0000ea"/>
<rect x="569.03" y="264.74" width="8.74" height="8.73" fill="#0000ff"/>
<rect x="577.47" y="264.74" width="8.74" height="8.73" fill="#0019ff"/>
<rect x="585.91" y="264.74" width="8.74" height="8.73" fill="#003dff"/>
<rect x="594.35" y="264.74" width="8.74" height="8.73" fill="#0052ff"/>
<rect x="602.78" y="264.74" width="8.74" height="8.73" fill="#005cff"/>
<rect x="611.22" y="264.74" width="8.74" height="8.73" fill="#0066ff"/>
<rect x="619.66" y="264.74" width="8.74" height="8.73" fill="#0075ff"/>
<rect x="628.09" y="264.74" width="8.74" height="8.73" fill="#0080ff"/>
<rect x="636.53" y="264.74" width="17.17" height="8.73" fill="#008aff"/>
<rect x="653.40" y="264.74" width="8.74" height="8.73" fill="#0094ff"/>
<rect x="661.84" y="264.74" width="8.74" height="8.73" fill="#009eff"/>
<rect x="670.28" y="264.74" width="8.74" height="8.73" fill="#00a8ff"/>
<rect x="678.72" y="264.74" width="8.74" height="8.73" fill="#00bdff"/>
<rect x="687.15" y="264.74" width="8.74" height="8.73" fill="#00d1ff"/>
<rect x="695.59" y="264.74" width="8.74" height="8.73" fill="#00e5f7"/>
<rect x="704.03" y="264.74" width="10.17" height="8.73" fill="#10fae6"/>
<rect x="105.00" y="273.17" width="8.74" height="8.73" fill="#0094ff"/>
<rect x="113.44" y="273.17" width="8.74" height="8.73" fill="#008aff"/>
<rect x="121.87" y="273.17" width="8.74" height="8.73" fill="#0080ff"/>
<rect x="130.31" y="273.17" width="25.61" height="8.73" fill="#0075ff"/>
<rect x="155.62" y="273.17" width="8.74" height="8.73" fill="#0080ff"/>
<rect x="164.06" y="273.17" width="8.74" height="8.73" fill="#009eff"/>
<rect x="172.50" y="273.17" width="8.74" height="8.73" fill="#00bdff"/>
<rect x="180.93" y="273.17" width="8.74" height="8.73" fill="#00d1ff"/>
<rect x="189.37" y="273.17" width="8.74" height="8.73" fill="#08f0ef"/>
<rect x="197.81" y="273.17" width="8.74" height="8.73" fill="#29ffce"/>
<rect x="206.24" y="273.17" width="8.74" height="8.73" fill="#42ffb5"/>
<rect x="214.68" y="273.17" width="8.74" height="8.73" fill="#52ffa5"/>
<rect x="223.12" y="273.17" width="8.74" height="8.73" fill="#63ff94"/>
<rect x="231.56" y="273.17" width="8.74" height="8.73" fill="#6bff8c"/>
<rect x="239.99" y="273.17" width="8.74" height="8.73" fill="#73ff84"/>
<rect x="248.43" y="273.17" width="8.74" height="8.73" fill="#63ff94"/>
<rect x="256.87" y="273.17" width="8.74" height="8.73" fill="#4affad"/>
<rect x="265.30" y="273.17" width="8.74" height="8.73" fill="#19ffde"/>
<rect x="273.74" y="273.17" width="8.74" height="8.73" fill="#00bdff"/>
<rect x="282.18" y="273.17" width="8.74" height="8.73" fill="#0061ff"/>
<rect x="290.61" y="273.17" width="8.74" height="8.73" fill="#0019ff"/>
<rect x="299.05" y="273.17" width="8.74" height="8.73" fill="#0000f3"/>
<rect x="307.49" y="273.17" width="8.74" height="8.73" fill="#0000d1"/>
<rect x="315.92" y="273.17" width="17.17" height="8.73" fill="#0000b9"/>
<rect x="332.80" y="273.17" width="50.92" height="8.73" fill="#0000ae"/>
<rect x="383.42" y="273.17" width="25.61" height="8.73" fill="#0000b9"/>
<rect x="408.73" y="273.17" width="8.74" height="8.73" fill="#0000ae"/>
<rect x="417.17" y="273.17" width="8.74" height="8.73" fill="#0000ac"/>
<rect x="425.61" y="273.17" width="8.74" height="8.73" fill="#0000aa"/>
<rect x="434.04" y="273.17" width="8.74" height="8.73" fill="#0000a9"/>
<rect x="442.48" y="273.17" width="8.74" height="8.73" fill="#0000a8"/>
<rect x="450.92" y="273.17" width="8.74" height="8.73" fill="#0000a6"/>
<rect x="459.35" y="273.17" width="8.74" height="8.73" fill="#0000a4"/>
<rect x="467.79" y="273.17" width="8.74" height="8.73" fill="#0000a3"/>
<rect x="476.23" y="273.17" width="17.17" height="8.73" fill="#0000a2"/>
<rect x="493.10" y="273.17" width="17.17" height="8.73" fill="#0000a3"/>
<rect x="509.98" y="273.17" width="8.74" height="8.73" fill="#0000a4"/>
<rect x="518.41" y="273.17" width="8.74" height="8.73" fill="#0000a5"/>
<rect x="526.85" y="273.17" width="8.74" height="8.73" fill="#0000a7"/>
<rect x="535.29" y="273.17" width="8.74" height="8.73" fill="#0000b1"/>
<rect x="543.72" y="273.17" width="8.74" height="8.73" fill="#0000c0"/>
<rect x="552.16" y="273.17" width="8.74" height="8.73" fill="#0000d1"/>
<rect x="560.60" y="273.17" width="8.74" height="8.73" fill="#0000e5"/>
<rect x="569.03" y="273.17" width="8.74" height="8.73" fill="#0000f9"/>
<rect x="577.47" y="273.17" width="8.74" height="8.73" fill="#000fff"/>
<rect x="585.91" y="273.17" width="8.74" height="8.73" fill="#0033ff"/>
<rect x="594.35" y="273.17" width="8.74" height="8.73" fill="#0047ff"/>
<rect x="602.78" y="273.17" width="8.74" height="8.73" fill="#0052ff"/>
<rect x="611.22" y="273.17" width="8.74" height="8.73" fill="#0057ff"/>
<rect x="619.66" y="273.17" width="8.74" height="8.73" fill="#0061ff"/>
<rect x="628.09" y="273.17" width="8.74" height="8.73" fill="#006bff"/>
<rect x="636.53" y="273.17" width="17.17" height="8.73" fill="#0075ff"/>
<rect x="653.40" y="273.17" width="17.17" height="8.73" fill="#0080ff"/>
<rect x="670.28" y="273.17" width="8.74" height="8.73" fill="#008aff"/>
<rect x="678.72" y="273.17" width="8.74" height="8.73" fill="#0094ff"/>
<rect x="687.15" y="273.17" width="8.74" height="8.73" fill="#009eff"/>
<rect x="695.59" y="273.17" width="18.61" height="8.73" fill="#00a8ff"/>
<rect x="105.00" y="281.60" width="8.74" height="8.73" fill="#0080ff"/>
<rect x="113.44" y="281.60" width="8.74" height="8.73" fill="#006bff"/>
<rect x="121.87" y="281.60" width="8.74" height="8.73" fill="#0057ff"/>
<rect x="130.31" y="281.60" width="8.74" height="8.73" fill="#004dff"/>
<rect x="138.75" y="281.60" width="8.74" height="8.73" fill="#0042ff"/>
<rect x="147.19" y="281.60" width="25.61" height="8.73" fill="#0038ff"/>
<rect x="172.50" y="281.60" width="8.74" height="8.73" fill="#0042ff"/>
<rect x="180.93" y="281.60" width="8.74" height="8.73" fill="#0057ff"/>
<rect x="189.37" y="281.60" width="8.74" height="8.73" fill="#0061ff"/>
<rect x="197.81" y="281.60" width="8.74" height="8.73" fill="#006bff"/>
<rect x="206.24" y="281.60" width="8.74" height="8.73" fill="#0075ff"/>
<rect x="214.68" y="281.60" width="8.74" height="8.73" fill="#0080ff"/>
<rect x="223.12" y="281.60" width="8.74" height="8.73" fill="#008aff"/>
<rect x="231.56" y="281.60" width="8.74" height="8.73" fill="#009eff"/>
<rect x="239.99" y="281.60" width="8.74" height="8.73" fill="#00b2ff"/>
<rect x="248.43" y="281.60" width="17.17" height="8.73" fill="#00d1ff"/>
<rect x="265.30" y="281.60" width="8.74" height="8.73" fill="#00b2ff"/>
<rect x="273.74" y="281.60" width="8.74" height="8.73" fill="#0080ff"/>
<rect x="282.18" y="281.60" width="8.74" height="8.73" fill="#0042ff"/>
<rect x="290.61" y="281.60" width="8.74" height="8.73" fill="#0005ff"/>
<rect x="299.05" y="281.60" width="8.74" height="8.73" fill="#0000f3"/>
<rect x="307.49" y="281.60" width="8.74" height="8.73" fill="#0000dc"/>
<rect x="315.92" y="281.60" width="8.74" height="8.73" fill="#0000c5"/>
<rect x="324.36" y="281.60" width="50.92" height="8.73" fill="#0000b9"/>
<rect x="374.98" y="281.60" width="34.05" height="8.73" fill="#0000c5"/>
<rect x="408.73" y="281.60" width="8.74" height="8.73" fill="#0000b9"/>
<rect x="417.17" y="281.60" width="8.74" height="8.73" fill="#0000b5"/>
<rect x="425.61" y="281.60" width="8.74" height="8.73" fill="#0000b2"/>
<rect x="434.04" y="281.60" width="8.74" height="8.73" fill="#0000b0"/>
<rect x="442.48" y="281.60" width="8.74" height="8.73" fill="#0000ae"/>
<rect x="450.92" y="281.60" width="8.74" height="8.73" fill="#0000aa"/>
<rect x="459.35" y="281.60" width="8.74" height="8.73" fill="#0000a7"/>
<rect x="467.79" y="281.60" width="8.74" height="8.73" fill="#0000a4"/>
<rect x="476.23" y="281.60" width="25.61" height="8.73" fill="#0000a2"/>
<rect x="501.54" y="281.60" width="17.17" height="8.73" fill="#0000a3"/>
<rect x="518.41" y="281.60" width="8.74" height="8.73" fill="#0000a4"/>
<rect x="526.85" y="281.60" width="8.74" height="8.73" fill="#0000a5"/>
<rect x="535.29" y="281.60" width="8.74" height="8.73" fill="#0000ae"/>
<rect x="543.72" y="281.60" width="8.74" height="8.73" fill="#0000bd"/>
<rect x="552.16" y="281.60" width="8.74" height="8.73" fill="#0000cc"/>
<rect x="560.60" y="281.60" width="8.74" height="8.73" fill="#0000e1"/>
<rect x="569.03" y="281.60" width="8.74" height="8.73" fill="#0000f3"/>
<rect x="577.47" y="281.60" width="8.74" height="8.73" fill="#000aff"/>
<rect x="585.91" y="281.60" width="8.74" height="8.73" fill="#0029ff"/>
<rect x="594.35" y="281.60" width="8.74" height="8.73" fill="#003dff"/>
<rect x="602.78" y="281.60" width="8.74" height="8.73" fill="#0047ff"/>
<rect x="611.22" y="281.60" width="8.74" height="8.73" fill="#004dff"/>
<rect x="619.66" y="281.60" width="8.74" height="8.73" fill="#0057ff"/>
<rect x="628.09" y="281.60" width="8.74" height="8.73" fill="#0061ff"/>
<rect x="636.53" y="281.60" width="8.74" height="8.73" fill="#006bff"/>
<rect x="644.97" y="281.60" width="17.17" height="8.73" fill="#0075ff"/>
<rect x="661.84" y="281.60" width="17.17" height="8.73" fill="#0080ff"/>
<rect x="678.72" y="281.60" width="17.17" height="8.73" fill="#008aff"/>
<rect x="695.59" y="281.60" width="18.61" height="8.73" fill="#0094ff"/>
<rect x="105.00" y="290.03" width="8.74" height="8.73" fill="#0080ff"/>
<rect x="113.44" y="290.03" width="8.74" height="8.73" fill="#006bff"/>
<rect x="121.87" y="290.03" width="8.74" height="8.73" fill="#0057ff"/>
<rect x="130.31" y="290.03" width="8.74" height="8.73" fill="#0042ff"/>
<rect x="138.75" y="290.03" width="8.74" height="8.73" fill="#0038ff"/>
<rect x="147.19" y="290.03" width="8.74" height="8.73" fill="#002eff"/>
<rect x="155.62" y="290.03" width="17.17" height="8.73" fill="#0024ff"/>
<rect x="172.50" y="290.03" width="76.23" height="8.73" fill="#0019ff"/>
<rect x="248.43" y="290.03" width="17.17" height="8.73" fill="#000fff"/>
<rect x="265.30" y="290.03" width="8.74" height="8.73" fill="#0005ff"/>
<rect x="273.74" y="290.03" width="17.17" height="8.73" fill="#0000ff"/>
<rect x="290.61" y="290.03" width="8.74" height="8.73" fill="#0000f3"/>
<rect x="299.05" y="290.03" width="8.74" height="8.73" fill="#0000e8"/>
<rect x="307.49" y="290.03" width="8.74" height="8.73" fill="#0000d6"/>
<rect x="315.92" y="290.03" width="8.74" height="8.73" fill="#0000c5"/>
<rect x="324.36" y="290.03" width="8.74" height="8.73" fill="#0000bf"/>
<rect x="332.80" y="290.03" width="25.61" height="8.73" fill="#0000b9"/>
<rect x="358.11" y="290.03" width="8.74" height="8.73" fill="#0000bf"/>
<rect x="366.55" y="290.03" width="8.74" height="8.73" fill="#0000cb"/>
<rect x="374.98" y="290.03" width="8.74" height="8.73" fill="#0000d1"/>
<rect x="383.42" y="290.03" width="17.17" height="8.73" fill="#0000d6"/>
<rect x="400.29" y="290.03" width="8.74" height="8.73" fill="#0000d1"/>
<rect x="408.73" y="290.03" width="8.74" height="8.73" fill="#0000cb"/>
<rect x="417.17" y="290.03" width="8.74" height="8.73" fill="#0000c5"/>
<rect x="425.61" y="290.03" width="8.74" height="8.73" fill="#0000be"/>
<rect x="434.04" y="290.03" width="8.74" height="8.73" fill="#0000b8"/>
<rect x="442.48" y="290.03" width="8.74" height="8.73" fill="#0000b4"/>
<rect x="450.92" y="290.03" width="8.74" height="8.73" fill="#0000b0"/>
<rect x="459.35" y="290.03" width="8.74" height="8.73" fill="#0000ad"/>
<rect x="467.79" y="290.03" width="8.74" height="8.73" fill="#0000aa"/>
<rect x="476.23" y="290.03" width="8.74" height="8.73" fill="#0000a8"/>
<rect x="484.66" y="290.03" width="8.74" height="8.73" fill="#0000a7"/>
<rect x="493.10" y="290.03" width="8.74" height="8.73" fill="#0000a5"/>
<rect x="501.54" y="290.03" width="8.74" height="8.73" fill="#0000a4"/>
<rect x="509.98" y="290.03" width="8.74" height="8.73" fill="#0000a3"/>
<rect x="518.41" y="290.03" width="17.17" height="8.73" fill="#0000a2"/>
<rect x="535.29" y="290.03" width="8.74" height="8.73" fill="#0000a9"/>
<rect x="543.72" y="290.03" width="8.74" height="8.73" fill="#0000b4"/>
<rect x="552.16" y="290.03" width="8.74" height="8.73" fill="#0000bf"/>
<rect x="560.60" y="290.03" width="8.74" height="8.73" fill="#0000cb"/>
<rect x="569.03" y="290.03" width="8.74" height="8.73" fill="#0000df"/>
<rect x="577.47" y="290.03" width="8.74" height="8.73" fill="#0000f3"/>
<rect x="585.91" y="290.03" width="8.74" height="8.73" fill="#0000ff"/>
<rect x="594.35" y="290.03" width="8.74" height="8.73" fill="#0019ff"/>
<rect x="602.78" y="290.03" width="8.74" height="8.73" fill="#0029ff"/>
<rect x="611.22" y="290.03" width="8.74" height="8.73" fill="#0038ff"/>
<rect x="619.66" y="290.03" width="8.74" height="8.73" fill="#004dff"/>
<rect x="628.09" y="290.03" width="8.74" height="8.73" fill="#0057ff"/>
<rect x="636.53" y="290.03" width="8.74" height="8.73" fill="#0061ff"/>
<rect x="644.97" y="290.03" width="8.74" height="8.73" fill="#006bff"/>
<rect x="653.40" y="290.03" width="17.17" height="8.73" fill="#0075ff"/>
<rect x="670.28" y="290.03" width="17.17" height="8.73" fill="#0080ff"/>
<rect x="687.15" y="290.03" width="17.17" height="8.73" fill="#008aff"/>
<rect x="704.03" y="290.03" width="10.17" height="8.73" fill="#0094ff"/>
<rect x="105.00" y="298.46" width="8.74" height="8.73" fill="#0094ff"/>
<rect x="113.44" y="298.46" width="8.74" height="8.73" fill="#0080ff"/>
<rect x="121.87" y="298.46" width="8.74" height="8.73" fill="#0075ff"/>
<rect x="130.31" y="298.46" width="8.74" height="8.73" fill="#0061ff"/>
<rect x="138.75" y="298.46" width="8.74" height="8.73" fill="#0057ff"/>
<rect x="147.19" y="298.46" width="8.74" height="8.73" fill="#004dff"/>
<rect x="155.62" y="298.46" width="8.74" height="8.73" fill="#0042ff"/>
<rect x="164.06" y="298.46" width="17.17" height="8.73" fill="#0038ff"/>
<rect x="180.93" y="298.46" width="17.17" height="8.73" fill="#002eff"/>
<rect x="197.81" y="298.46" width="8.74" height="8.73" fill="#0024ff"/>
<rect x="206.24" y="298.46" width="8.74" height="8.73" fill="#0019ff"/>
<rect x="214.68" y="298.46" width="17.17" height="8.73" fill="#000fff"/>
<rect x="231.56" y="298.46" width="17.17" height="8.73" fill="#0005ff"/>
<rect x="248.43" y="298.46" width="25.61" height="8.73" fill="#0000ff"/>
<rect x="273.74" y="298.46" width="17.17" height="8.73" fill="#0000f3"/>
<rect x="290.61" y="298.46" width="8.74" height="8.73" fill="#0000e8"/>
<rect x="299.05" y="298.46" width="8.74" height="8.73" fill="#0000dc"/>
<rect x="307.49" y="298.46" width="8.74" height="8.73" fill="#0000cb"/>
<rect x="315.92" y="298.46" width="25.61" height="8.73" fill="#0000bf"/>
<rect x="341.24" y="298.46" width="8.74" height="8.73" fill="#0000c5"/>
<rect x="349.67" y="298.46" width="8.74" height="8.73" fill="#0000d1"/>
<rect x="358.11" y="298.46" width="8.74" height="8.73" fill="#0000d6"/>
<rect x="366.55" y="298.46" width="8.74" height="8.73" fill="#0000dc"/>
<rect x="374.98" y="298.46" width="17.17" height="8.73" fill="#0000e2"/>
<rect x="391.86" y="298.46" width="17.17" height="8.73" fill="#0000dc"/>
<rect x="408.73" y="298.46" width="8.74" height="8.73" fill="#0000d6"/>
<rect x="417.17" y="298.46" width="8.74" height="8.73" fill="#0000cf"/>
<rect x="425.61" y="298.46" width="8.74" height="8.73" fill="#0000c8"/>
<rect x="434.04" y="298.46" width="8.74" height="8.73" fill="#0000c0"/>
<rect x="442.48" y="298.46" width="8.74" height="8.73" fill="#0000b9"/>
<rect x="450.92" y="298.46" width="8.74" height="8.73" fill="#0000b4"/>
<rect x="459.35" y="298.46" width="8.74" height="8.73" fill="#0000af"/>
<rect x="467.79" y="298.46" width="8.74" height="8.73" fill="#0000ab"/>
<rect x="476.23" y="298.46" width="8.74" height="8.73" fill="#0000a8"/>
<rect x="484.66" y="298.46" width="8.74" height="8.73" fill="#0000a6"/>
<rect x="493.10" y="298.46" width="8.74" height="8.73" fill="#0000a5"/>
<rect x="501.54" y="298.46" width="8.74" height="8.73" fill="#0000a4"/>
<rect x="509.98" y="298.46" width="8.74" height="8.73" fill="#0000a3"/>
<rect x="518.41" y="298.46" width="17.17" height="8.73" fill="#0000a2"/>
<rect x="535.29" y="298.46" width="8.74" height="8.73" fill="#0000a9"/>
<rect x="543.72" y="298.46" width="8.74" height="8.73" fill="#0000b4"/>
<rect x="552.16" y="298.46" width="8.74" height="8.73" fill="#0000bc"/>
<rect x="560.60" y="298.46" width="8.74" height="8.73" fill="#0000c5"/>
<rect x="569.03" y="298.46" width="8.74" height="8.73" fill="#0000d9"/>
<rect x="577.47" y="298.46" width="8.74" height="8.73" fill="#0000ee"/>
<rect x="585.91" y="298.46" width="8.74" height="8.73" fill="#0000ff"/>
<rect x="594.35" y="298.46" width="8.74" height="8.73" fill="#000fff"/>
<rect x="602.78" y="298.46" width="8.74" height="8.73" fill="#0019ff"/>
<rect x="611.22" y="298.46" width="8.74" height="8.73" fill="#0029ff"/>
<rect x="619.66" y="298.46" width="8.74" height="8.73" fill="#0038ff"/>
<rect x="628.09" y="298.46" width="8.74" height="8.73" fill="#004dff"/>
<rect x="636.53" y="298.46" width="8.74" height="8.73" fill="#0057ff"/>
<rect x="644.97" y="298.46" width="8.74" height="8.73" fill="#0061ff"/>
<rect x="653.40" y="298.46" width="8.74" height="8.73" fill="#006bff"/>
<rect x="661.84" y="298.46" width="8.74" height="8.73" fill="#0075ff"/>
<rect x="670.28" y="298.46" width="17.17" height="8.73" fill="#0080ff"/>
<rect x="687.15" y="298.46" width="8.74" height="8.73" fill="#008aff"/>
<rect x="695.59" y="298.46" width="18.61" height="8.73" fill="#0094ff"/>
<rect x="105.00" y="306.89" width="8.74" height="8.73" fill="#00a8ff"/>
<rect x="113.44" y="306.89" width="8.74" height="8.73" fill="#009eff"/>
<rect x="121.87" y="306.89" width="8.74" height="8.73" fill="#0094ff"/>
<rect x="130.31" y="306.89" width="8.74" height="8.73" fill="#008aff"/>
<rect x="138.75" y="306.89" width="8.74" height="8.73" fill="#0080ff"/>
<rect x="147.19" y="306.89" width="8.74" height="8.73" fill="#0075ff"/>
<rect x="155.62" y="306.89" width="8.74" height="8.73" fill="#006bff"/>
<rect x="164.06" y="306.89" width="8.74" height="8.73" fill="#0061ff"/>
<rect x="172.50" y="306.89" width="8.74" height="8.73" fill="#0057ff"/>
<rect x="180.93" y="306.89" width="8.74" height="8.73" fill="#004dff"/>
<rect x="189.37" y="306.89" width="8.74" height="8.73" fill="#0042ff"/>
<rect x="197.81" y="306.89" width="8.74" height="8.73" fill="#0038ff"/>
<rect x="206.24" y="306.89" width="8.74" height="8.73" fill="#002eff"/>
<rect x="214.68" y="306.89" width="8.74" height="8.73" fill="#0024ff"/>
<rect x="223.12" y="306.89" width="8.74" height="8.73" fill="#0019ff"/>
<rect x="231.56" y="306.89" width="8.74" height="8.73" fill="#000fff"/>
<rect x="239.99" y="306.89" width="8.74" height="8.73" fill="#0005ff"/>
<rect x="248.43" y="306.89" width="17.17" height="8.73" fill="#0000ff"/>
<rect x="265.30" y="306.89" width="17.17" height="8.73" fill="#0000f3"/>
<rect x="282.18" y="306.89" width="8.74" height="8.73" fill="#0000ee"/>
<rect x="290.61" y="306.89" width="8.74" height="8.73" fill="#0000e2"/>
<rect x="299.05" y="306.89" width="8.74" height="8.73" fill="#0000d6"/>
<rect x="307.49" y="306.89" width="8.74" height="8.73" fill="#0000cb"/>
<rect x="315.92" y="306.89" width="25.61" height="8.73" fill="#0000c5"/>
<rect x="341.24" y="306.89" width="8.74" height="8.73" fill="#0000cb"/>
<rect x="349.67" y="306.89" width="8.74" height="8.73" fill="#0000d1"/>
<rect x="358.11" y="306.89" width="8.74" height="8.73" fill="#0000dc"/>
<rect x="366.55" y="306.89" width="34.05" height="8.73" fill="#0000e2"/>
<rect x="400.29" y="306.89" width="17.17" height="8.73" fill="#0000dc"/>
<rect x="417.17" y="306.89" width="8.74" height="8.73" fill="#0000d9"/>
<rect x="425.61" y="306.89" width="8.74" height="8.73" fill="#0000d1"/>
<rect x="434.04" y="306.89" width="8.74" height="8.73" fill="#0000c7"/>
<rect x="442.48" y="306.89" width="8.74" height="8.73" fill="#0000bf"/>
<rect x="450.92" y="306.89" width="8.74" height="8.73" fill="#0000b8"/>
<rect x="459.35" y="306.89" width="8.74" height="8.73" fill="#0000b1"/>
<rect x="467.79" y="306.89" width="8.74" height="8.73" fill="#0000ab"/>
<rect x="476.23" y="306.89" width="8.74" height="8.73" fill="#0000a8"/>
<rect x="484.66" y="306.89" width="8.74" height="8.73" fill="#0000a6"/>
<rect x="493.10" y="306.89" width="8.74" height="8.73" fill="#0000a5"/>
<rect x="501.54" y="306.89" width="8.74" height="8.73" fill="#0000a4"/>
<rect x="509.98" y="306.89" width="8.74" height="8.73" fill="#0000a3"/>
<rect x="518.41" y="306.89" width="17.17" height="8.73" fill="#0000a2"/>
<rect x="535.29" y="306.89" width="8.74" height="8.73" fill="#0000a5"/>
<rect x="543.72" y="306.89" width="8.74" height="8.73" fill="#0000ac"/>
<rect x="552.16" y="306.89" width="8.74" height="8.73" fill="#0000b4"/>
<rect x="560.60" y="306.89" width="8.74" height="8.73" fill="#0000bf"/>
<rect x="569.03" y="306.89" width="8.74" height="8.73" fill="#0000c7"/>
<rect x="577.47" y="306.89" width="8.74" height="8.73" fill="#0000d6"/>
<rect x="585.91" y="306.89" width="8.74" height="8.73" fill="#0000e5"/>
<rect x="594.35" y="306.89" width="8.74" height="8.73" fill="#0000f9"/>
<rect x="602.78" y="306.89" width="8.74" height="8.73" fill="#0000ff"/>
<rect x="611.22" y="306.89" width="8.74" height="8.73" fill="#000fff"/>
<rect x="619.66" y="306.89" width="8.74" height="8.73" fill="#0029ff"/>
<rect x="628.09" y="306.89" width="8.74" height="8.73" fill="#0038ff"/>
<rect x="636.53" y="306.89" width="8.74" height="8.73" fill="#004dff"/>
<rect x="644.97" y="306.89" width="8.74" height="8.73" fill="#005cff"/>
<rect x="653.40" y="306.89" width="8.74" height="8.73" fill="#006bff"/>
<rect x="661.84" y="306.89" width="8.74" height="8.73" fill="#0075ff"/>
<rect x="670.28" y="306.89" width="8.74" height="8.73" fill="#0080ff"/>
<rect x="678.72" y="306.89" width="8.74" height="8.73" fill="#008aff"/>
<rect x="687.15" y="306.89" width="8.74" height="8.73" fill="#0094ff"/>
<rect x="695.59" y="306.89" width="8.74" height="8.73" fill="#0099ff"/>
<rect x="704.03" y="306.89" width="10.17" height="8.73" fill="#009eff"/>
<rect x="105.00" y="315.32" width="8.74" height="8.73" fill="#00bdff"/>
<rect x="113.44" y="315.32" width="17.17" height="8.73" fill="#00b2ff"/>
<rect x="130.31" y="315.32" width="8.74" height="8.73" fill="#00a8ff"/>
<rect x="138.75" y="315.32" width="8.74" height="8.73" fill="#009eff"/>
<rect x="147.19" y="315.32" width="8.74" height="8.73" fill="#0094ff"/>
<rect x="155.62" y="315.32" width="8.74" height="8.73" fill="#008aff"/>
<rect x="164.06" y="315.32" width="8.74" height="8.73" fill="#0080ff"/>
<rect x="172.50" y="315.32" width="8.74" height="8.73" fill="#0075ff"/>
<rect x="180.93" y="315.32" width="8.74" height="8.73" fill="#006bff"/>
<rect x="189.37" y="315.32" width="8.74" height="8.73" fill="#0061ff"/>
<rect x="197.81" y="315.32" width="8.74" height="8.73" fill="#004dff"/>
<rect x="206.24" y="315.32" width="8.74" height="8.73" fill="#0042ff"/>
<rect x="214.68" y="315.32" width="8.74" height="8.73" fill="#002eff"/>
<rect x="223.12" y="315.32" width="8.74" height="8.73" fill="#0024ff"/>
<rect x="231.56" y="315.32" width="8.74" height="8.73" fill="#000fff"/>
<rect x="239.99" y="315.32" width="8.74" height="8.73" fill="#0005ff"/>
<rect x="248.43" y="315.32" width="17.17" height="8.73" fill="#0000ff"/>
<rect x="265.30" y="315.32" width="17.17" height="8.73" fill="#0000f3"/>
<rect x="282.18" y="315.32" width="8.74" height="8.73" fill="#0000ee"/>
<rect x="290.61" y="315.32" width="8.74" height="8.73" fill="#0000e2"/>
<rect x="299.05" y="315.32" width="8.74" height="8.73" fill="#0000d6"/>
<rect x="307.49" y="315.32" width="8.74" height="8.73" fill="#0000d1"/>
<rect x="315.92" y="315.32" width="25.61" height="8.73" fill="#0000cb"/>
<rect x="341.24" y="315.32" width="8.74" height="8.73" fill="#0000d1"/>
<rect x="349.67" y="315.32" width="8.74" height="8.73" fill="#0000d6"/>
<rect x="358.11" y="315.32" width="8.74" height="8.73" fill="#0000dc"/>
<rect x="366.55" y="315.32" width="25.61" height="8.73" fill="#0000e2"/>
<rect x="391.86" y="315.32" width="25.61" height="8.73" fill="#0000dc"/>
<rect x="417.17" y="315.32" width="8.74" height="8.73" fill="#0000d9"/>
<rect x="425.61" y="315.32" width="8.74" height="8.73" fill="#0000d0"/>
<rect x="434.04" y="315.32" width="8.74" height="8.73" fill="#0000c7"/>
<rect x="442.48" y="315.32" width="8.74" height="8.73" fill="#0000bf"/>
<rect x="450.92" y="315.32" width="8.74" height="8.73" fill="#0000ba"/>
<rect x="459.35" y="315.32" width="8.74" height="8.73" fill="#0000b5"/>
<rect x="467.79" y="315.32" width="8.74" height="8.73" fill="#0000b1"/>
<rect x="476.23" y="315.32" width="8.74" height="8.73" fill="#0000ae"/>
<rect x="484.66" y="315.32" width="8.74" height="8.73" fill="#0000ab"/>
<rect x="493.10" y="315.32" width="8.74" height="8.73" fill="#0000a8"/>
<rect x="501.54" y="315.32" width="8.74" height="8.73" fill="#0000a6"/>
<rect x="509.98" y="315.32" width="8.74" height="8.73" fill="#0000a4"/>
<rect x="518.41" y="315.32" width="8.74" height="8.73" fill="#0000a3"/>
<rect x="526.85" y="315.32" width="8.74" height="8.73" fill="#0000a2"/>
<rect x="535.29" y="315.32" width="8.74" height="8.73" fill="#0000a4"/>
<rect x="543.72" y="315.32" width="8.74" height="8.73" fill="#0000a8"/>
<rect x="552.16" y="315.32" width="8.74" height="8.73" fill="#0000ae"/>
<rect x="560.60" y="315.32" width="8.74" height="8.73" fill="#0000b9"/>
<rect x="569.03" y="315.32" width="8.74" height="8.73" fill="#0000c3"/>
<rect x="577.47" y="315.32" width="8.74" height="8.73" fill="#0000d1"/>
<rect x="585.91" y="315.32" width="8.74" height="8.73" fill="#0000dc"/>
<rect x="594.35" y="315.32" width="8.74" height="8.73" fill="#0000e8"/>
<rect x="602.78" y="315.32" width="8.74" height="8.73" fill="#0000f3"/>
<rect x="611.22" y="315.32" width="8.74" height="8.73" fill="#0000ff"/>
<rect x="619.66" y="315.32" width="8.74" height="8.73" fill="#0014ff"/>
<rect x="628.09" y="315.32" width="8.74" height="8.73" fill="#0029ff"/>
<rect x="636.53" y="315.32" width="8.74" height="8.73" fill="#003dff"/>
<rect x="644.97" y="315.32" width="8.74" height="8.73" fill="#004dff"/>
<rect x="653.40" y="315.32" width="8.74" height="8.73" fill="#0061ff"/>
<rect x="661.84" y="315.32" width="8.74" height="8.73" fill="#0070ff"/>
<rect x="670.28" y="315.32" width="8.74" height="8.73" fill="#0080ff"/>
<rect x="678.72" y="315.32" width="8.74" height="8.73" fill="#008fff"/>
<rect x="687.15" y="315.32" width="8.74" height="8.73" fill="#009eff"/>
<rect x="695.59" y="315.32" width="8.74" height="8.73" fill="#00a3ff"/>
<rect x="704.03" y="315.32" width="10.17" height="8.73" fill="#00a8ff"/>
<rect x="105.00" y="323.75" width="17.17" height="8.73" fill="#00bdff"/>
<rect x="121.87" y="323.75" width="17.17" height="8.73" fill="#00b2ff"/>
<rect x="138.75" y="323.75" width="8.74" height="8.73" fill="#00a8ff"/>
<rect x="147.19" y="323.75" width="8.74" height="8.73" fill="#009eff"/>
<rect x="155.62" y="323.75" width="8.74" height="8.73" fill="#0094ff"/>
<rect x="164.06" y="323.75" width="8.74" height="8.73" fill="#008aff"/>
<rect x="172.50" y="323.75" width="8.74" height="8.73" fill="#0080ff"/>
<rect x="180.93" y="323.75" width="8.74" height="8.73" fill="#0075ff"/>
<rect x="189.37" y="323.75" width="8.74" height="8.73" fill="#0061ff"/>
<rect x="197.81" y="323.75" width="8.74" height="8.73" fill="#0057ff"/>
<rect x="206.24" y="323.75" width="8.74" height="8.73" fill="#0042ff"/>
<rect x="214.68" y="323.75" width="8.74" height="8.73" fill="#0038ff"/>
<rect x="223.12" y="323.75" width="8.74" height="8.73" fill="#0024ff"/>
<rect x="231.56" y="323.75" width="8.74" height="8.73" fill="#0019ff"/>
<rect x="239.99" y="323.75" width="8.74" height="8.73" fill="#0005ff"/>
<rect x="248.43" y="323.75" width="17.17" height="8.73" fill="#0000ff"/>
<rect x="265.30" y="323.75" width="8.74" height="8.73" fill="#0000f9"/>
<rect x="273.74" y="323.75" width="8.74" height="8.73" fill="#0000f3"/>
<rect x="282.18" y="323.75" width="8.74" height="8.73" fill="#0000ee"/>
<rect x="290.61" y="323.75" width="8.74" height="8.73" fill="#0000e2"/>
<rect x="299.05" y="323.75" width="8.74" height="8.73" fill="#0000d6"/>
<rect x="307.49" y="323.75" width="42.48" height="8.73" fill="#0000d1"/>
<rect x="349.67" y="323.75" width="59.36" height="8.73" fill="#0000d6"/>
<rect x="408.73" y="323.75" width="8.74" height="8.73" fill="#0000dc"/>
<rect x="417.17" y="323.75" width="8.74" height="8.73" fill="#0000da"/>
<rect x="425.61" y="323.75" width="8.74" height="8.73" fill="#0000d4"/>
<rect x="434.04" y="323.75" width="8.74" height="8.73" fill="#0000cc"/>
<rect x="442.48" y="323.75" width="8.74" height="8.73" fill="#0000c5"/>
<rect x="450.92" y="323.75" width="8.74" height="8.73" fill="#0000bf"/>
<rect x="459.35" y="323.75" width="8.74" height="8.73" fill="#0000b8"/>
<rect x="467.79" y="323.75" width="8.74" height="8.73" fill="#0000b2"/>
<rect x="476.23" y="323.75" width="8.74" height="8.73" fill="#0000ae"/>
<rect x="484.66" y="323.75" width="8.74" height="8.73" fill="#0000ab"/>
<rect x="493.10" y="323.75" width="8.74" height="8.73" fill="#0000a8"/>
<rect x="501.54" y="323.75" width="8.74" height="8.73" fill="#0000a6"/>
<rect x="509.98" y="323.75" width="8.74" height="8.73" fill="#0000a4"/>
<rect x="518.41" y="323.75" width="8.74" height="8.73" fill="#0000a3"/>
<rect x="526.85" y="323.75" width="8.74" height="8.73" fill="#0000a2"/>
<rect x="535.29" y="323.75" width="8.74" height="8.73" fill="#0000a4"/>
<rect x="543.72" y="323.75" width="8.74" height="8.73" fill="#0000a9"/>
<rect x="552.16" y="323.75" width="8.74" height="8.73" fill="#0000ae"/>
<rect x="560.60" y="323.75" width="8.74" height="8.73" fill="#0000b4"/>
<rect x="569.03" y="323.75" width="8.74" height="8.73" fill="#0000bd"/>
<rect x="577.47" y="323.75" width="8.74" height="8.73" fill="#0000ca"/>
<rect x="585.91" y="323.75" width="8.74" height="8.73" fill="#0000d6"/>
<rect x="594.35" y="323.75" width="8.74" height="8.73" fill="#0000e3"/>
<rect x="602.78" y="323.75" width="8.74" height="8.73" fill="#0000f0"/>
<rect x="611.22" y="323.75" width="8.74" height="8.73" fill="#0000ff"/>
<rect x="619.66" y="323.75" width="8.74" height="8.73" fill="#0005ff"/>
<rect x="628.09" y="323.75" width="8.74" height="8.73" fill="#0019ff"/>
<rect x="636.53" y="323.75" width="8.74" height="8.73" fill="#002eff"/>
<rect x="644.97" y="323.75" width="8.74" height="8.73" fill="#0042ff"/>
<rect x="653.40" y="323.75" width="8.74" height="8.73" fill="#0057ff"/>
<rect x="661.84" y="323.75" width="8.74" height="8.73" fill="#006bff"/>
<rect x="670.28" y="323.75" width="8.74" height="8.73" fill="#0080ff"/>
<rect x="678.72" y="323.75" width="8.74" height="8.73" fill="#008dff"/>
<rect x="687.15" y="323.75" width="8.74" height="8.73" fill="#0099ff"/>
<rect x="695.59" y="323.75" width="8.74" height="8.73" fill="#00a1ff"/>
<rect x="704.03" y="323.75" width="10.17" height="8.73" fill="#00a8ff"/>
<rect x="105.00" y="332.18" width="8.74" height="8.73" fill="#00b2ff"/>
<rect x="113.44" y="332.18" width="8.74" height="8.73" fill="#00afff"/>
<rect x="121.87" y="332.18" width="8.74" height="8.73" fill="#00aaff"/>
<rect x="130.31" y="332.18" width="8.74" height="8.73" fill="#00a5ff"/>
<rect x="138.75" y="332.18" width="8.74" height="8.73" fill="#009eff"/>
<rect x="147.19" y="332.18" width="8.74" height="8.73" fill="#0096ff"/>
<rect x="155.62" y="332.18" width="8.74" height="8.73" fill="#008cff"/>
<rect x="164.06" y="332.18" width="8.74" height="8.73" fill="#0081ff"/>
<rect x="172.50" y="332.18" width="8.74" height="8.73" fill="#0075ff"/>
<rect x="180.93" y="332.18" width="8.74" height="8.73" fill="#006aff"/>
<rect x="189.37" y="332.18" width="8.74" height="8.73" fill="#005dff"/>
<rect x="197.81" y="332.18" width="8.74" height="8.73" fill="#0050ff"/>
<rect x="206.24" y="332.18" width="8.74" height="8.73" fill="#0042ff"/>
<rect x="214.68" y="332.18" width="8.74" height="8.73" fill="#0033ff"/>
<rect x="223.12" y="332.18" width="8.74" height="8.73" fill="#0022ff"/>
<rect x="231.56" y="332.18" width="8.74" height="8.73" fill="#0012ff"/>
<rect x="239.99" y="332.18" width="8.74" height="8.73" fill="#0005ff"/>
<rect x="248.43" y="332.18" width="17.17" height="8.73" fill="#0000ff"/>
<rect x="265.30" y="332.18" width="8.74" height="8.73" fill="#0000fb"/>
<rect x="273.74" y="332.18" width="8.74" height="8.73" fill="#0000f3"/>
<rect x="282.18" y="332.18" width="8.74" height="8.73" fill="#0000eb"/>
<rect x="290.61" y="332.18" width="8.74" height="8.73" fill="#0000e3"/>
<rect x="299.05" y="332.18" width="8.74" height="8.73" fill="#0000dc"/>
<rect x="307.49" y="332.18" width="8.74" height="8.73" fill="#0000d7"/>
<rect x="315.92" y="332.18" width="8.74" height="8.73" fill="#0000d1"/>
<rect x="324.36" y="332.18" width="8.74" height="8.73" fill="#0000ce"/>
<rect x="332.80" y="332.18" width="84.67" height="8.73" fill="#0000cc"/>
<rect x="417.17" y="332.18" width="8.74" height="8.73" fill="#0000cb"/>
<rect x="425.61" y="332.18" width="8.74" height="8.73" fill="#0000c7"/>
<rect x="434.04" y="332.18" width="8.74" height="8.73" fill="#0000c3"/>
<rect x="442.48" y="332.18" width="8.74" height="8.73" fill="#0000bf"/>
<rect x="450.92" y="332.18" width="8.74" height="8.73" fill="#0000bb"/>
<rect x="459.35" y="332.18" width="8.74" height="8.73" fill="#0000b6"/>
<rect x="467.79" y="332.18" width="8.74" height="8.73" fill="#0000b1"/>
<rect x="476.23" y="332.18" width="8.74" height="8.73" fill="#0000ae"/>
<rect x="484.66" y="332.18" width="8.74" height="8.73" fill="#0000ab"/>
<rect x="493.10" y="332.18" width="8.74" height="8.73" fill="#0000a8"/>
<rect x="501.54" y="332.18" width="8.74" height="8.73" fill="#0000a6"/>
<rect x="509.98" y="332.18" width="8.74" height="8.73" fill="#0000a4"/>
<rect x="518.41" y="332.18" width="8.74" height="8.73" fill="#0000a3"/>
<rect x="526.85" y="332.18" width="8.74" height="8.73" fill="#0000a2"/>
<rect x="535.29" y="332.18" width="8.74" height="8.73" fill="#0000a4"/>
<rect x="543.72" y="332.18" width="8.74" height="8.73" fill="#0000a9"/>
<rect x="552.16" y="332.18" width="8.74" height="8.73" fill="#0000ae"/>
<rect x="560.60" y="332.18" width="8.74" height="8.73" fill="#0000b3"/>
<rect x="569.03" y="332.18" width="8.74" height="8.73" fill="#0000b9"/>
<rect x="577.47" y="332.18" width="8.74" height="8.73" fill="#0000c4"/>
<rect x="585.91" y="332.18" width="8.74" height="8.73" fill="#0000d1"/>
<rect x="594.35" y="332.18" width="8.74" height="8.73" fill="#0000dd"/>
<rect x="602.78" y="332.18" width="8.74" height="8.73" fill="#0000ea"/>
<rect x="611.22" y="332.18" width="8.74" height="8.73" fill="#0000f9"/>
<rect x="619.66" y="332.18" width="8.74" height="8.73" fill="#0000ff"/>
<rect x="628.09" y="332.18" width="8.74" height="8.73" fill="#000cff"/>
<rect x="636.53" y="332.18" width="8.74" height="8.73" fill="#001fff"/>
<rect x="644.97" y="332.18" width="8.74" height="8.73" fill="#0033ff"/>
<rect x="653.40" y="332.18" width="8.74" height="8.73" fill="#0047ff"/>
<rect x="661.84" y="332.18" width="8.74" height="8.73" fill="#005dff"/>
<rect x="670.28" y="332.18" width="8.74" height="8.73" fill="#0070ff"/>
<rect x="678.72" y="332.18" width="8.74" height="8.73" fill="#0081ff"/>
<rect x="687.15" y="332.18" width="8.74" height="8.73" fill="#008fff"/>
<rect x="695.59" y="332.18" width="8.74" height="8.73" fill="#009aff"/>
<rect x="704.03" y="332.18" width="10.17" height="8.73" fill="#00a3ff"/>
<rect x="105.00" y="340.61" width="8.74" height="8.73" fill="#0094ff"/>
<rect x="113.44" y="340.61" width="8.74" height="8.73" fill="#0093ff"/>
<rect x="121.87" y="340.61" width="8.74" height="8.73" fill="#0091ff"/>
<rect x="130.31" y="340.61" width="8.74" height="8.73" fill="#008eff"/>
<rect x="138.75" y="340.61" width="8.74" height="8.73" fill="#008aff"/>
<rect x="147.19" y="340.61" width="8.74" height="8.73" fill="#0083ff"/>
<rect x="155.62" y="340.61" width="8.74" height="8.73" fill="#0079ff"/>
<rect x="164.06" y="340.61" width="8.74" height="8.73" fill="#006dff"/>
<rect x="172.50" y="340.61" width="8.74" height="8.73" fill="#0061ff"/>
<rect x="180.93" y="340.61" width="8.74" height="8.73" fill="#0055ff"/>
<rect x="189.37" y="340.61" width="8.74" height="8.73" fill="#0048ff"/>
<rect x="197.81" y="340.61" width="8.74" height="8.73" fill="#003bff"/>
<rect x="206.24" y="340.61" width="8.74" height="8.73" fill="#002eff"/>
<rect x="214.68" y="340.61" width="8.74" height="8.73" fill="#0021ff"/>
<rect x="223.12" y="340.61" width="8.74" height="8.73" fill="#0013ff"/>
<rect x="231.56" y="340.61" width="8.74" height="8.73" fill="#0006ff"/>
<rect x="239.99" y="340.61" width="17.17" height="8.73" fill="#0000ff"/>
<rect x="256.87" y="340.61" width="8.74" height="8.73" fill="#0000f8"/>
<rect x="265.30" y="340.61" width="8.74" height="8.73" fill="#0000f0"/>
<rect x="273.74" y="340.61" width="8.74" height="8.73" fill="#0000e8"/>
<rect x="282.18" y="340.61" width="8.74" height="8.73" fill="#0000df"/>
<rect x="290.61" y="340.61" width="8.74" height="8.73" fill="#0000d7"/>
<rect x="299.05" y="340.61" width="8.74" height="8.73" fill="#0000d1"/>
<rect x="307.49" y="340.61" width="8.74" height="8.73" fill="#0000cb"/>
<rect x="315.92" y="340.61" width="8.74" height="8.73" fill="#0000c5"/>
<rect x="324.36" y="340.61" width="8.74" height="8.73" fill="#0000c1"/>
<rect x="332.80" y="340.61" width="17.17" height="8.73" fill="#0000bf"/>
<rect x="349.67" y="340.61" width="50.92" height="8.73" fill="#0000be"/>
<rect x="400.29" y="340.61" width="17.17" height="8.73" fill="#0000bd"/>
<rect x="417.17" y="340.61" width="17.17" height="8.73" fill="#0000bc"/>
<rect x="434.04" y="340.61" width="8.74" height="8.73" fill="#0000bb"/>
<rect x="442.48" y="340.61" width="8.74" height="8.73" fill="#0000b9"/>
<rect x="450.92" y="340.61" width="8.74" height="8.73" fill="#0000b7"/>
<rect x="459.35" y="340.61" width="8.74" height="8.73" fill="#0000b4"/>
<rect x="467.79" y="340.61" width="8.74" height="8.73" fill="#0000b1"/>
<rect x="476.23" y="340.61" width="8.74" height="8.73" fill="#0000ae"/>
<rect x="484.66" y="340.61" width="8.74" height="8.73" fill="#0000ab"/>
<rect x="493.10" y="340.61" width="8.74" height="8.73" fill="#0000a9"/>
<rect x="501.54" y="340.61" width="8.74" height="8.73" fill="#0000a6"/>
<rect x="509.98" y="340.61" width="8.74" height="8.73" fill="#0000a4"/>
<rect x="518.41" y="340.61" width="8.74" height="8.73" fill="#0000a3"/>
<rect x="526.85" y="340.61" width="8.74" height="8.73" fill="#0000a2"/>
<rect x="535.29" y="340.61" width="8.74" height="8.73" fill="#0000a3"/>
<rect x="543.72" y="340.61" width="8.74" height="8.73" fill="#0000a5"/>
<rect x="552.16" y="340.61" width="8.74" height="8.73" fill="#0000a8"/>
<rect x="560.60" y="340.61" width="8.74" height="8.73" fill="#0000ad"/>
<rect x="569.03" y="340.61" width="8.74" height="8.73" fill="#0000b4"/>
<rect x="577.47" y="340.61" width="8.74" height="8.73" fill="#0000bd"/>
<rect x="585.91" y="340.61" width="8.74" height="8.73" fill="#0000c7"/>
<rect x="594.35" y="340.61" width="8.74" height="8.73" fill="#0000d4"/>
<rect x="602.78" y="340.61" width="8.74" height="8.73" fill="#0000e1"/>
<rect x="611.22" y="340.61" width="8.74" height="8.73" fill="#0000ea"/>
<rect x="619.66" y="340.61" width="8.74" height="8.73" fill="#0000f3"/>
<rect x="628.09" y="340.61" width="8.74" height="8.73" fill="#0000ff"/>
<rect x="636.53" y="340.61" width="8.74" height="8.73" fill="#000aff"/>
<rect x="644.97" y="340.61" width="8.74" height="8.73" fill="#001cff"/>
<rect x="653.40" y="340.61" width="8.74" height="8.73" fill="#002eff"/>
<rect x="661.84" y="340.61" width="8.74" height="8.73" fill="#0043ff"/>
<rect x="670.28" y="340.61" width="8.74" height="8.73" fill="#0057ff"/>
<rect x="678.72" y="340.61" width="8.74" height="8.73" fill="#0068ff"/>
<rect x="687.15" y="340.61" width="8.74" height="8.73" fill="#0075ff"/>
<rect x="695.59" y="340.61" width="8.74" height="8.73" fill="#007fff"/>
<rect x="704.03" y="340.61" width="10.17" height="8.73" fill="#0085ff"/>
<rect x="105.00" y="349.04" width="8.74" height="8.73" fill="#0057ff"/>
<rect x="113.44" y="349.04" width="8.74" height="8.73" fill="#0056ff"/>
<rect x="121.87" y="349.04" width="8.74" height="8.73" fill="#0054ff"/>
<rect x="130.31" y="349.04" width="8.74" height="8.73" fill="#0050ff"/>
<rect x="138.75" y="349.04" width="8.74" height="8.73" fill="#004dff"/>
<rect x="147.19" y="349.04" width="8.74" height="8.73" fill="#0047ff"/>
<rect x="155.62" y="349.04" width="8.74" height="8.73" fill="#0040ff"/>
<rect x="164.06" y="349.04" width="8.74" height="8.73" fill="#0037ff"/>
<rect x="172.50" y="349.04" width="8.74" height="8.73" fill="#002eff"/>
<rect x="180.93" y="349.04" width="8.74" height="8.73" fill="#0024ff"/>
<rect x="189.37" y="349.04" width="8.74" height="8.73" fill="#0019ff"/>
<rect x="197.81" y="349.04" width="8.74" height="8.73" fill="#000fff"/>
<rect x="206.24" y="349.04" width="8.74" height="8.73" fill="#0005ff"/>
<rect x="214.68" y="349.04" width="17.17" height="8.73" fill="#0000ff"/>
<rect x="231.56" y="349.04" width="8.74" height="8.73" fill="#0000fb"/>
<rect x="239.99" y="349.04" width="8.74" height="8.73" fill="#0000f3"/>
<rect x="248.43" y="349.04" width="8.74" height="8.73" fill="#0000ec"/>
<rect x="256.87" y="349.04" width="8.74" height="8.73" fill="#0000e5"/>
<rect x="265.30" y="349.04" width="8.74" height="8.73" fill="#0000de"/>
<rect x="273.74" y="349.04" width="8.74" height="8.73" fill="#0000d6"/>
<rect x="282.18" y="349.04" width="8.74" height="8.73" fill="#0000ce"/>
<rect x="290.61" y="349.04" width="8.74" height="8.73" fill="#0000c6"/>
<rect x="299.05" y="349.04" width="8.74" height="8.73" fill="#0000bf"/>
<rect x="307.49" y="349.04" width="8.74" height="8.73" fill="#0000ba"/>
<rect x="315.92" y="349.04" width="8.74" height="8.73" fill="#0000b5"/>
<rect x="324.36" y="349.04" width="8.74" height="8.73" fill="#0000b2"/>
<rect x="332.80" y="349.04" width="17.17" height="8.73" fill="#0000b0"/>
<rect x="349.67" y="349.04" width="25.61" height="8.73" fill="#0000af"/>
<rect x="374.98" y="349.04" width="76.23" height="8.73" fill="#0000ae"/>
<rect x="450.92" y="349.04" width="8.74" height="8.73" fill="#0000ad"/>
<rect x="459.35" y="349.04" width="8.74" height="8.73" fill="#0000ac"/>
<rect x="467.79" y="349.04" width="8.74" height="8.73" fill="#0000aa"/>
<rect x="476.23" y="349.04" width="8.74" height="8.73" fill="#0000a8"/>
<rect x="484.66" y="349.04" width="8.74" height="8.73" fill="#0000a7"/>
<rect x="493.10" y="349.04" width="8.74" height="8.73" fill="#0000a6"/>
<rect x="501.54" y="349.04" width="8.74" height="8.73" fill="#0000a4"/>
<rect x="509.98" y="349.04" width="17.17" height="8.73" fill="#0000a3"/>
<rect x="526.85" y="349.04" width="8.74" height="8.73" fill="#0000a2"/>
<rect x="535.29" y="349.04" width="8.74" height="8.73" fill="#0000a3"/>
<rect x="543.72" y="349.04" width="8.74" height="8.73" fill="#0000a6"/>
<rect x="552.16" y="349.04" width="8.74" height="8.73" fill="#0000a8"/>
<rect x="560.60" y="349.04" width="8.74" height="8.73" fill="#0000ab"/>
<rect x="569.03" y="349.04" width="8.74" height="8.73" fill="#0000ae"/>
<rect x="577.47" y="349.04" width="8.74" height="8.73" fill="#0000b4"/>
<rect x="585.91" y="349.04" width="8.74" height="8.73" fill="#0000bd"/>
<rect x="594.35" y="349.04" width="8.74" height="8.73" fill="#0000c6"/>
<rect x="602.78" y="349.04" width="8.74" height="8.73" fill="#0000d1"/>
<rect x="611.22" y="349.04" width="8.74" height="8.73" fill="#0000db"/>
<rect x="619.66" y="349.04" width="8.74" height="8.73" fill="#0000e5"/>
<rect x="628.09" y="349.04" width="8.74" height="8.73" fill="#0000ee"/>
<rect x="636.53" y="349.04" width="8.74" height="8.73" fill="#0000f9"/>
<rect x="644.97" y="349.04" width="8.74" height="8.73" fill="#0001ff"/>
<rect x="653.40" y="349.04" width="8.74" height="8.73" fill="#0019ff"/>
<rect x="661.84" y="349.04" width="8.74" height="8.73" fill="#002aff"/>
<rect x="670.28" y="349.04" width="8.74" height="8.73" fill="#0038ff"/>
<rect x="678.72" y="349.04" width="8.74" height="8.73" fill="#0049ff"/>
<rect x="687.15" y="349.04" width="8.74" height="8.73" fill="#0057ff"/>
<rect x="695.59" y="349.04" width="8.74" height="8.73" fill="#0060ff"/>
<rect x="704.03" y="349.04" width="10.17" height="8.73" fill="#0066ff"/>
<rect x="105.00" y="357.47" width="8.74" height="8.73" fill="#0024ff"/>
<rect x="113.44" y="357.47" width="8.74" height="8.73" fill="#0022ff"/>
<rect x="121.87" y="357.47" width="8.74" height="8.73" fill="#0020ff"/>
<rect x="130.31" y="357.47" width="8.74" height="8.73" fill="#001dff"/>
<rect x="138.75" y="357.47" width="8.74" height="8.73" fill="#0019ff"/>
<rect x="147.19" y="357.47" width="8.74" height="8.73" fill="#0015ff"/>
<rect x="155.62" y="357.47" width="8.74" height="8.73" fill="#0010ff"/>
<rect x="164.06" y="357.47" width="8.74" height="8.73" fill="#000bff"/>
<rect x="172.50" y="357.47" width="8.74" height="8.73" fill="#0005ff"/>
<rect x="180.93" y="357.47" width="34.05" height="8.73" fill="#0000ff"/>
<rect x="214.68" y="357.47" width="8.74" height="8.73" fill="#0000f7"/>
<rect x="223.12" y="357.47" width="8.74" height="8.73" fill="#0000ee"/>
<rect x="231.56" y="357.47" width="8.74" height="8.73" fill="#0000e4"/>
<rect x="239.99" y="357.47" width="8.74" height="8.73" fill="#0000dc"/>
<rect x="248.43" y="357.47" width="8.74" height="8.73" fill="#0000d6"/>
<rect x="256.87" y="357.47" width="8.74" height="8.73" fill="#0000d0"/>
<rect x="265.30" y="357.47" width="8.74" height="8.73" fill="#0000cb"/>
<rect x="273.74" y="357.47" width="8.74" height="8.73" fill="#0000c5"/>
<rect x="282.18" y="357.47" width="8.74" height="8.73" fill="#0000bd"/>
<rect x="290.61" y="357.47" width="8.74" height="8.73" fill="#0000b4"/>
<rect x="299.05" y="357.47" width="8.74" height="8.73" fill="#0000ae"/>
<rect x="307.49" y="357.47" width="8.74" height="8.73" fill="#0000aa"/>
<rect x="315.92" y="357.47" width="8.74" height="8.73" fill="#0000a6"/>
<rect x="324.36" y="357.47" width="8.74" height="8.73" fill="#0000a4"/>
<rect x="332.80" y="357.47" width="17.17" height="8.73" fill="#0000a2"/>
<rect x="349.67" y="357.47" width="25.61" height="8.73" fill="#0000a1"/>
<rect x="374.98" y="357.47" width="50.92" height="8.73" fill="#0000a0"/>
<rect x="425.61" y="357.47" width="8.74" height="8.73" fill="#0000a1"/>
<rect x="434.04" y="357.47" width="126.86" height="8.73" fill="#0000a2"/>
<rect x="560.60" y="357.47" width="8.74" height="8.73" fill="#0000a4"/>
<rect x="569.03" y="357.47" width="8.74" height="8.73" fill="#0000a8"/>
<rect x="577.47" y="357.47" width="8.74" height="8.73" fill="#0000ae"/>
<rect x="585.91" y="357.47" width="8.74" height="8.73" fill="#0000b4"/>
<rect x="594.35" y="357.47" width="8.74" height="8.73" fill="#0000ba"/>
<rect x="602.78" y="357.47" width="8.74" height="8.73" fill="#0000c0"/>
<rect x="611.22" y="357.47" width="8.74" height="8.73" fill="#0000c8"/>
<rect x="619.66" y="357.47" width="8.74" height="8.73" fill="#0000d1"/>
<rect x="628.09" y="357.47" width="8.74" height="8.73" fill="#0000da"/>
<rect x="636.53" y="357.47" width="8.74" height="8.73" fill="#0000e5"/>
<rect x="644.97" y="357.47" width="8.74" height="8.73" fill="#0000f1"/>
<rect x="653.40" y="357.47" width="8.74" height="8.73" fill="#0000ff"/>
<rect x="661.84" y="357.47" width="8.74" height="8.73" fill="#0002ff"/>
<rect x="670.28" y="357.47" width="8.74" height="8.73" fill="#0014ff"/>
<rect x="678.72" y="357.47" width="8.74" height="8.73" fill="#0022ff"/>
<rect x="687.15" y="357.47" width="8.74" height="8.73" fill="#002eff"/>
<rect x="695.59" y="357.47" width="8.74" height="8.73" fill="#0037ff"/>
<rect x="704.03" y="357.47" width="10.17" height="8.73" fill="#003dff"/>
<rect x="105.00" y="365.90" width="8.74" height="8.73" fill="#0005ff"/>
<rect x="113.44" y="365.90" width="8.74" height="8.73" fill="#0003ff"/>
<rect x="121.87" y="365.90" width="59.36" height="8.73" fill="#0000ff"/>
<rect x="180.93" y="365.90" width="8.74" height="8.73" fill="#0000fa"/>
<rect x="189.37" y="365.90" width="8.74" height="8.73" fill="#0000f4"/>
<rect x="197.81" y="365.90" width="8.74" height="8.73" fill="#0000ee"/>
<rect x="206.24" y="365.90" width="8.74" height="8.73" fill="#0000e8"/>
<rect x="214.68" y="365.90" width="8.74" height="8.73" fill="#0000e2"/>
<rect x="223.12" y="365.90" width="8.74" height="8.73" fill="#0000dc"/>
<rect x="231.56" y="365.90" width="8.74" height="8.73" fill="#0000d6"/>
<rect x="239.99" y="365.90" width="8.74" height="8.73" fill="#0000d1"/>
<rect x="248.43" y="365.90" width="8.74" height="8.73" fill="#0000cb"/>
<rect x="256.87" y="365.90" width="8.74" height="8.73" fill="#0000c5"/>
<rect x="265.30" y="365.90" width="8.74" height="8.73" fill="#0000bf"/>
<rect x="273.74" y="365.90" width="8.74" height="8.73" fill="#0000b9"/>
<rect x="282.18" y="365.90" width="8.74" height="8.73" fill="#0000b4"/>
<rect x="290.61" y="365.90" width="8.74" height="8.73" fill="#0000ad"/>
<rect x="299.05" y="365.90" width="8.74" height="8.73" fill="#0000a6"/>
<rect x="307.49" y="365.90" width="8.74" height="8.73" fill="#0000a0"/>
<rect x="315.92" y="365.90" width="8.74" height="8.73" fill="#00009b"/>
<rect x="324.36" y="365.90" width="8.74" height="8.73" fill="#000098"/>
<rect x="332.80" y="365.90" width="93.11" height="8.73" fill="#000097"/>
<rect x="425.61" y="365.90" width="8.74" height="8.73" fill="#000099"/>
<rect x="434.04" y="365.90" width="8.74" height="8.73" fill="#00009b"/>
<rect x="442.48" y="365.90" width="8.74" height="8.73" fill="#00009c"/>
<rect x="450.92" y="365.90" width="8.74" height="8.73" fill="#00009e"/>
<rect x="459.35" y="365.90" width="8.74" height="8.73" fill="#00009f"/>
<rect x="467.79" y="365.90" width="8.74" height="8.73" fill="#0000a0"/>
<rect x="476.23" y="365.90" width="8.74" height="8.73" fill="#0000a1"/>
<rect x="484.66" y="365.90" width="76.23" height="8.73" fill="#0000a2"/>
<rect x="560.60" y="365.90" width="8.74" height="8.73" fill="#0000a3"/>
<rect x="569.03" y="365.90" width="8.74" height="8.73" fill="#0000a5"/>
<rect x="577.47" y="365.90" width="8.74" height="8.73" fill="#0000a7"/>
<rect x="585.91" y="365.90" width="8.74" height="8.73" fill="#0000ab"/>
<rect x="594.35" y="365.90" width="8.74" height="8.73" fill="#0000ae"/>
<rect x="602.78" y="365.90" width="8.74" height="8.73" fill="#0000b2"/>
<rect x="611.22" y="365.90" width="8.74" height="8.73" fill="#0000b8"/>
<rect x="619.66" y="365.90" width="8.74" height="8.73" fill="#0000be"/>
<rect x="628.09" y="365.90" width="8.74" height="8.73" fill="#0000c5"/>
<rect x="636.53" y="365.90" width="8.74" height="8.73" fill="#0000cc"/>
<rect x="644.97" y="365.90" width="8.74" height="8.73" fill="#0000d3"/>
<rect x="653.40" y="365.90" width="8.74" height="8.73" fill="#0000dc"/>
<rect x="661.84" y="365.90" width="8.74" height="8.73" fill="#0000ea"/>
<rect x="670.28" y="365.90" width="8.74" height="8.73" fill="#0000fb"/>
<rect x="678.72" y="365.90" width="8.74" height="8.73" fill="#0000ff"/>
<rect x="687.15" y="365.90" width="8.74" height="8.73" fill="#0005ff"/>
<rect x="695.59" y="365.90" width="8.74" height="8.73" fill="#000dff"/>
<rect x="704.03" y="365.90" width="10.17" height="8.73" fill="#0014ff"/>
<rect x="105.00" y="374.33" width="8.74" height="8.73" fill="#0000f3"/>
<rect x="113.44" y="374.33" width="8.74" height="8.73" fill="#0000f2"/>
<rect x="121.87" y="374.33" width="8.74" height="8.73" fill="#0000f0"/>
<rect x="130.31" y="374.33" width="8.74" height="8.73" fill="#0000ee"/>
<rect x="138.75" y="374.33" width="8.74" height="8.73" fill="#0000eb"/>
<rect x="147.19" y="374.33" width="8.74" height="8.73" fill="#0000e9"/>
<rect x="155.62" y="374.33" width="8.74" height="8.73" fill="#0000e7"/>
<rect x="164.06" y="374.33" width="8.74" height="8.73" fill="#0000e4"/>
<rect x="172.50" y="374.33" width="8.74" height="8.73" fill="#0000e2"/>
<rect x="180.93" y="374.33" width="8.74" height="8.73" fill="#0000df"/>
<rect x="189.37" y="374.33" width="8.74" height="8.73" fill="#0000dc"/>
<rect x="197.81" y="374.33" width="8.74" height="8.73" fill="#0000d9"/>
<rect x="206.24" y="374.33" width="8.74" height="8.73" fill="#0000d6"/>
<rect x="214.68" y="374.33" width="8.74" height="8.73" fill="#0000d3"/>
<rect x="223.12" y="374.33" width="8.74" height="8.73" fill="#0000cf"/>
<rect x="231.56" y="374.33" width="8.74" height="8.73" fill="#0000cc"/>
<rect x="239.99" y="374.33" width="8.74" height="8.73" fill="#0000c8"/>
<rect x="248.43" y="374.33" width="8.74" height="8.73" fill="#0000c4"/>
<rect x="256.87" y="374.33" width="8.74" height="8.73" fill="#0000c1"/>
<rect x="265.30" y="374.33" width="8.74" height="8.73" fill="#0000bd"/>
<rect x="273.74" y="374.33" width="8.74" height="8.73" fill="#0000b9"/>
<rect x="282.18" y="374.33" width="8.74" height="8.73" fill="#0000b6"/>
<rect x="290.61" y="374.33" width="8.74" height="8.73" fill="#0000b1"/>
<rect x="299.05" y="374.33" width="8.74" height="8.73" fill="#0000ad"/>
<rect x="307.49" y="374.33" width="8.74" height="8.73" fill="#0000a8"/>
<rect x="315.92" y="374.33" width="8.74" height="8.73" fill="#0000a4"/>
<rect x="324.36" y="374.33" width="8.74" height="8.73" fill="#0000a0"/>
<rect x="332.80" y="374.33" width="8.74" height="8.73" fill="#00009c"/>
<rect x="341.24" y="374.33" width="8.74" height="8.73" fill="#000099"/>
<rect x="349.67" y="374.33" width="34.05" height="8.73" fill="#000097"/>
<rect x="383.42" y="374.33" width="17.17" height="8.73" fill="#000098"/>
<rect x="400.29" y="374.33" width="8.74" height="8.73" fill="#000099"/>
<rect x="408.73" y="374.33" width="17.17" height="8.73" fill="#00009a"/>
<rect x="425.61" y="374.33" width="8.74" height="8.73" fill="#00009b"/>
<rect x="434.04" y="374.33" width="17.17" height="8.73" fill="#00009c"/>
<rect x="450.92" y="374.33" width="8.74" height="8.73" fill="#00009d"/>
<rect x="459.35" y="374.33" width="25.61" height="8.73" fill="#00009e"/>
<rect x="484.66" y="374.33" width="17.17" height="8.73" fill="#00009f"/>
<rect x="501.54" y="374.33" width="8.74" height="8.73" fill="#0000a0"/>
<rect x="509.98" y="374.33" width="17.17" height="8.73" fill="#0000a1"/>
<rect x="526.85" y="374.33" width="8.74" height="8.73" fill="#0000a2"/>
<rect x="535.29" y="374.33" width="8.74" height="8.73" fill="#0000a3"/>
<rect x="543.72" y="374.33" width="8.74" height="8.73" fill="#0000a5"/>
<rect x="552.16" y="374.33" width="8.74" height="8.73" fill="#0000a7"/>
<rect x="560.60" y="374.33" width="8.74" height="8.73" fill="#0000a9"/>
<rect x="569.03" y="374.33" width="8.74" height="8.73" fill="#0000ab"/>
<rect x="577.47" y="374.33" width="8.74" height="8.73" fill="#0000ad"/>
<rect x="585.91" y="374.33" width="8.74" height="8.73" fill="#0000b0"/>
<rect x="594.35" y="374.33" width="8.74" height="8.73" fill="#0000b3"/>
<rect x="602.78" y="374.33" width="8.74" height="8.73" fill="#0000b6"/>
<rect x="611.22" y="374.33" width="8.74" height="8.73" fill="#0000b9"/>
<rect x="619.66" y="374.33" width="8.74" height="8.73" fill="#0000bd"/>
<rect x="628.09" y="374.33" width="8.74" height="8.73" fill="#0000c2"/>
<rect x="636.53" y="374.33" width="8.74" height="8.73" fill="#0000c6"/>
<rect x="644.97" y="374.33" width="8.74" height="8.73" fill="#0000cc"/>
<rect x="653.40" y="374.33" width="8.74" height="8.73" fill="#0000d2"/>
<rect x="661.84" y="374.33" width="8.74" height="8.73" fill="#0000d9"/>
<rect x="670.28" y="374.33" width="8.74" height="8.73" fill="#0000e0"/>
<rect x="678.72" y="374.33" width="8.74" height="8.73" fill="#0000e7"/>
<rect x="687.15" y="374.33" width="8.74" height="8.73" fill="#0000ef"/>
<rect x="695.59" y="374.33" width="8.74" height="8.73" fill="#0000f7"/>
<rect x="704.03" y="374.33" width="10.17" height="8.73" fill="#0000ff"/>
<rect x="105.00" y="382.76" width="8.74" height="8.04" fill="#0000f3"/>
<rect x="113.44" y="382.76" width="8.74" height="8.04" fill="#0000f2"/>
<rect x="121.87" y="382.76" width="8.74" height="8.04" fill="#0000f1"/>
<rect x="130.31" y="382.76" width="8.74" height="8.04" fill="#0000f0"/>
<rect x="138.75" y="382.76" width="8.74" height="8.04" fill="#0000ef"/>
<rect x="147.19" y="382.76" width="8.74" height="8.04" fill="#0000ee"/>
<rect x="155.62" y="382.76" width="8.74" height="8.04" fill="#0000ec"/>
<rect x="164.06" y="382.76" width="8.74" height="8.04" fill="#0000eb"/>
<rect x="172.50" y="382.76" width="8.74" height="8.04" fill="#0000ea"/>
<rect x="180.93" y="382.76" width="8.74" height="8.04" fill="#0000e9"/>
<rect x="189.37" y="382.76" width="8.74" height="8.04" fill="#0000e8"/>
<rect x="197.81" y="382.76" width="8.74" height="8.04" fill="#0000e7"/>
<rect x="206.24" y="382.76" width="8.74" height="8.04" fill="#0000e6"/>
<rect x="214.68" y="382.76" width="8.74" height="8.04" fill="#0000e4"/>
<rect x="223.12" y="382.76" width="8.74" height="8.04" fill="#0000e3"/>
<rect x="231.56" y="382.76" width="8.74" height="8.04" fill="#0000e2"/>
<rect x="239.99" y="382.76" width="8.74" height="8.04" fill="#0000e1"/>
<rect x="248.43" y="382.76" width="8.74" height="8.04" fill="#0000e0"/>
<rect x="256.87" y="382.76" width="8.74" height="8.04" fill="#0000df"/>
<rect x="265.30" y="382.76" width="8.74" height="8.04" fill="#0000de"/>
<rect x="273.74" y="382.76" width="8.74" height="8.04" fill="#0000dc"/>
<rect x="282.18" y="382.76" width="8.74" height="8.04" fill="#0000db"/>
<rect x="290.61" y="382.76" width="8.74" height="8.04" fill="#0000d9"/>
<rect x="299.05" y="382.76" width="8.74" height="8.04" fill="#0000d7"/>
<rect x="307.49" y="382.76" width="8.74" height="8.04" fill="#0000d5"/>
<rect x="315.92" y="382.76" width="8.74" height="8.04" fill="#0000d2"/>
<rect x="324.36" y="382.76" width="8.74" height="8.04" fill="#0000d0"/>
<rect x="332.80" y="382.76" width="8.74" height="8.04" fill="#0000cf"/>
<rect x="341.24" y="382.76" width="8.74" height="8.04" fill="#0000cd"/>
<rect x="349.67" y="382.76" width="34.05" height="8.04" fill="#0000cc"/>
<rect x="383.42" y="382.76" width="8.74" height="8.04" fill="#0000cd"/>
<rect x="391.86" y="382.76" width="17.17" height="8.04" fill="#0000ce"/>
<rect x="408.73" y="382.76" width="8.74" height="8.04" fill="#0000cf"/>
<rect x="417.17" y="382.76" width="17.17" height="8.04" fill="#0000d0"/>
<rect x="434.04" y="382.76" width="17.17" height="8.04" fill="#0000d1"/>
<rect x="450.92" y="382.76" width="8.74" height="8.04" fill="#0000d0"/>
<rect x="459.35" y="382.76" width="8.74" height="8.04" fill="#0000ce"/>
<rect x="467.79" y="382.76" width="8.74" height="8.04" fill="#0000cc"/>
<rect x="476.23" y="382.76" width="8.74" height="8.04" fill="#0000c8"/>
<rect x="484.66" y="382.76" width="8.74" height="8.04" fill="#0000c5"/>
<rect x="493.10" y="382.76" width="8.74" height="8.04" fill="#0000c2"/>
<rect x="501.54" y="382.76" width="8.74" height="8.04" fill="#0000be"/>
<rect x="509.98" y="382.76" width="8.74" height="8.04" fill="#0000bc"/>
<rect x="518.41" y="382.76" width="8.74" height="8.04" fill="#0000ba"/>
<rect x="526.85" y="382.76" width="8.74" height="8.04" fill="#0000b9"/>
<rect x="535.29" y="382.76" width="8.74" height="8.04" fill="#0000ba"/>
<rect x="543.72" y="382.76" width="8.74" height="8.04" fill="#0000bb"/>
<rect x="552.16" y="382.76" width="8.74" height="8.04" fill="#0000bd"/>
<rect x="560.60" y="382.76" width="8.74" height="8.04" fill="#0000bf"/>
<rect x="569.03" y="382.76" width="8.74" height="8.04" fill="#0000c2"/>
<rect x="577.47" y="382.76" width="8.74" height="8.04" fill="#0000c5"/>
<rect x="585.91" y="382.76" width="8.74" height="8.04" fill="#0000c8"/>
<rect x="594.35" y="382.76" width="8.74" height="8.04" fill="#0000cb"/>
<rect x="602.78" y="382.76" width="8.74" height="8.04" fill="#0000ce"/>
<rect x="611.22" y="382.76" width="8.74" height="8.04" fill="#0000d1"/>
<rect x="619.66" y="382.76" width="8.74" height="8.04" fill="#0000d3"/>
<rect x="628.09" y="382.76" width="8.74" height="8.04" fill="#0000d5"/>
<rect x="636.53" y="382.76" width="8.74" height="8.04" fill="#0000d7"/>
<rect x="644.97" y="382.76" width="8.74" height="8.04" fill="#0000d9"/>
<rect x="653.40" y="382.76" width="8.74" height="8.04" fill="#0000db"/>
<rect x="661.84" y="382.76" width="8.74" height="8.04" fill="#0000de"/>
<rect x="670.28" y="382.76" width="8.74" height="8.04" fill="#0000e0"/>
<rect x="678.72" y="382.76" width="8.74" height="8.04" fill="#0000e2"/>
<rect x="687.15" y="382.76" width="8.74" height="8.04" fill="#0000e4"/>
<rect x="695.59" y="382.76" width="8.74" height="8.04" fill="#0000e6"/>
<rect x="704.03" y="382.76" width="10.17" height="8.04" fill="#0000e8"/>
</g>
<defs><clipPath id="ax"><rect x="100.5" y="97.4" width="620" height="298.3"/></clipPath></defs>
<g clip-path="url(#ax)" fill="#cccccc" fill-opacity="0.2" stroke="#000" stroke-width="0.5" stroke-linejoin="round">
<path d="M129.0,133.9L135.1,132.4L139.6,133.1L136.4,131.4L131.7,129.4L133.4,128.4L137.6,127.7L139.5,126.1L144.3,125.2L148.4,124.2L156.2,125.2L162.9,125.9L171.4,126.4L174.8,127.2L181.5,128.2L185.7,127.4L191.6,126.6L196.7,125.9L201.8,127.4L208.5,126.9L215.3,128.4L220.4,129.6L227.1,130.1L230.5,129.1L235.6,129.9L241.5,130.4L247.4,129.2L250.8,131.1L251.6,128.7L254.1,123.5L257.5,127.1L260.0,129.1L264.3,129.9L267.6,130.7L268.5,127.4L274.4,127.1L275.6,129.1L274.4,131.6L270.2,133.2L267.6,132.9L266.0,135.8L260.9,136.9L256.7,139.1L254.1,141.6L253.0,145.3L256.2,148.3L260.9,148.3L266.0,150.0L269.3,151.2L273.9,151.5L274.4,155.0L276.9,157.8L279.5,157.5L279.8,155.3L279.0,152.5L282.8,150.0L283.4,147.5L280.3,145.3L282.0,142.5L281.2,139.4L286.2,139.4L291.3,140.6L295.0,141.8L295.5,145.0L298.9,146.1L302.3,144.1L304.0,142.8L307.3,146.6L309.9,150.0L314.9,152.0L317.5,155.0L318.8,156.7L316.6,157.7L311.6,159.7L304.8,159.5L300.6,159.7L297.2,161.7L293.0,165.0L298.0,162.9L303.1,161.4L304.0,162.5L302.3,164.2L303.5,166.2L306.5,167.1L309.9,167.6L311.6,166.4L309.0,168.1L304.8,169.4L301.4,170.9L301.4,169.2L304.0,167.9L299.7,168.4L296.4,170.1L293.8,171.4L293.5,173.4L294.7,173.9L292.1,174.4L287.9,175.8L287.6,177.6L286.2,179.3L284.5,181.8L285.0,183.8L283.7,185.6L281.2,187.0L278.6,188.5L276.1,190.5L275.4,192.7L276.9,196.5L277.6,200.2L276.9,201.5L275.6,200.9L274.4,198.9L273.1,197.0L273.2,195.2L271.0,193.5L268.5,193.8L266.0,192.8L262.6,193.0L262.1,195.0L259.2,194.7L255.0,194.0L252.4,194.8L249.1,197.2L248.4,200.2L247.7,203.5L247.7,206.4L249.1,209.4L250.8,211.6L252.8,213.1L255.8,212.9L258.4,212.6L259.7,211.1L260.4,208.6L264.3,207.7L266.0,208.1L265.1,211.1L263.9,213.1L263.4,216.1L262.9,217.3L266.0,217.3L268.5,217.1L271.9,218.3L272.2,220.3L271.7,222.8L271.5,225.3L272.7,227.0L274.4,228.6L276.1,229.0L278.1,228.0L280.3,228.0L282.3,229.5L283.2,230.3L284.5,228.0L285.4,226.0L286.6,225.1L289.3,224.8L291.0,223.8L292.5,222.9L292.0,225.5L294.3,224.6L295.0,223.3L297.4,225.0L298.0,226.1L301.4,226.0L304.0,226.6L306.8,225.8L308.4,225.8L307.3,227.0L309.9,227.8L310.2,229.5L313.2,230.3L315.8,233.2L319.2,233.8L321.7,234.0L324.2,235.3L325.9,236.3L326.8,238.7L328.4,240.7L328.4,242.9L331.0,244.0L331.8,244.9L335.2,245.5L337.7,247.0L339.4,247.7L342.8,248.6L345.3,248.4L347.9,249.9L350.1,251.7L353.3,252.4L354.1,255.6L353.8,258.8L351.3,261.3L349.6,263.4L347.9,265.5L347.0,268.0L347.0,271.3L346.5,273.8L345.3,277.2L343.7,280.2L342.0,282.0L339.4,282.2L336.9,283.2L334.4,284.2L331.8,286.0L330.8,288.0L330.8,291.1L328.4,293.6L325.9,296.4L324.2,298.9L322.5,300.6L320.2,302.1L317.5,301.9L314.3,300.6L316.3,303.1L316.6,304.8L315.6,307.3L313.2,308.5L309.0,309.0L307.8,311.5L305.6,312.5L303.1,312.3L304.0,314.3L305.3,314.8L303.1,316.0L302.3,319.0L298.9,320.7L300.6,322.4L301.8,323.7L298.9,325.7L297.2,327.7L296.4,329.9L297.4,331.2L297.5,332.4L298.9,334.1L302.8,335.2L300.6,335.9L297.2,336.4L294.7,336.1L292.1,334.1L289.6,333.2L287.1,330.7L286.2,328.2L285.4,324.9L287.1,322.4L285.4,321.5L287.9,319.0L288.8,316.5L287.9,314.0L288.4,310.6L288.8,307.3L289.6,304.8L291.0,302.3L292.0,298.9L292.1,295.6L292.5,292.2L293.3,288.9L293.8,285.5L294.3,280.5L294.3,276.3L294.0,274.3L292.1,272.7L288.8,270.8L285.9,269.3L284.0,267.1L282.8,264.1L281.2,260.9L279.5,257.4L278.1,255.4L276.1,253.7L275.6,251.2L277.3,249.4L277.8,247.9L276.3,247.4L276.4,245.4L277.6,243.7L277.8,242.4L279.5,241.2L280.3,239.5L282.0,239.2L282.5,237.0L282.0,234.5L282.2,232.5L281.3,231.7L282.0,230.8L280.3,229.8L278.6,228.8L277.3,230.0L276.9,231.5L275.2,230.8L273.1,230.0L271.7,229.3L269.7,227.3L268.0,226.1L268.0,225.0L266.0,222.6L264.6,221.6L261.7,221.1L258.7,220.3L256.7,218.9L254.1,216.8L251.6,217.3L248.2,217.1L244.3,215.6L240.6,213.6L237.2,211.9L234.7,209.9L235.0,207.7L233.4,204.9L230.5,201.9L228.1,199.7L226.3,197.7L223.7,195.2L222.0,191.8L219.2,190.7L219.2,192.7L221.2,195.2L222.9,197.7L225.1,200.2L226.3,203.0L228.0,205.0L226.8,204.5L223.7,202.4L223.4,200.2L220.4,198.2L219.8,196.8L218.7,194.3L217.0,192.2L215.3,189.3L212.9,186.8L209.4,186.0L207.0,182.4L206.0,180.4L203.8,177.6L203.0,176.1L203.3,173.4L203.5,169.2L203.5,166.4L202.3,162.7L205.2,161.7L202.6,160.0L198.4,158.4L196.7,155.8L193.3,152.8L190.8,150.3L187.4,147.5L183.2,145.8L179.8,144.1L176.4,143.6L171.4,143.3L166.3,142.0L162.1,142.5L160.4,143.6L157.0,144.5L157.0,141.6L154.5,144.1L151.9,145.8L148.6,147.8L145.2,149.5L141.0,151.0L137.6,152.0L134.6,152.3L138.4,150.3L142.7,149.1L146.0,147.0L147.7,145.3L145.2,145.3L141.8,145.5L139.3,144.1L139.3,143.0L135.1,142.3L133.4,140.8L132.5,139.6L134.6,138.3L138.4,137.4L141.0,135.8L137.9,135.8L134.2,135.8L131.7,134.9Z M289.6,112.7L301.4,110.7L308.2,107.8L320.0,106.1L336.9,105.1L353.8,103.8L367.3,104.3L377.4,106.1L392.6,107.3L384.2,109.8L380.8,112.3L381.7,115.7L379.1,118.2L380.0,120.7L374.9,122.9L375.7,125.7L371.5,127.4L367.3,129.1L360.5,129.7L355.5,132.4L349.6,133.6L345.3,134.9L343.7,137.4L341.1,139.9L340.3,142.8L337.7,143.5L335.2,142.1L331.0,141.1L328.4,139.1L325.9,136.6L323.4,133.2L322.5,130.7L326.8,127.4L321.7,125.7L320.0,123.2L316.6,119.0L311.6,116.5L301.4,116.5L294.7,115.7L293.0,114.0Z M402.9,183.8L409.5,184.8L414.6,182.6L421.3,182.1L428.1,181.4L431.5,181.8L430.6,184.3L429.8,186.8L431.5,187.6L434.0,188.6L438.6,189.6L442.5,192.0L445.8,192.8L446.7,190.1L450.1,188.6L455.1,190.7L461.9,192.0L465.3,191.0L467.5,191.5L468.0,193.7L469.5,196.8L471.2,200.2L472.9,203.5L475.4,207.7L475.9,211.9L477.9,213.6L479.6,217.8L482.5,219.4L485.5,222.4L486.0,224.3L488.1,226.1L492.3,225.0L496.5,224.6L499.5,224.0L499.0,226.3L497.3,230.3L494.8,234.5L491.4,238.7L487.2,242.0L483.8,245.4L481.3,248.4L479.6,251.2L478.8,254.6L479.6,257.1L479.6,260.4L481.3,262.1L481.5,267.1L481.3,269.6L477.9,272.5L475.4,273.8L472.9,276.8L472.4,280.5L472.9,283.9L468.6,286.4L468.3,288.9L466.9,292.2L464.4,295.2L461.0,298.6L457.7,300.4L453.4,300.8L450.1,300.9L446.7,301.9L444.0,300.9L443.6,298.1L442.5,295.6L440.8,291.7L438.6,288.9L437.4,282.2L435.7,278.8L433.2,273.8L432.8,270.5L434.0,266.3L436.2,262.1L435.2,258.8L433.7,253.9L432.8,251.2L429.8,248.4L428.1,245.4L428.9,242.9L429.3,239.5L428.9,237.3L427.6,236.2L424.7,236.3L422.2,234.8L420.3,233.2L417.1,233.2L414.6,233.8L410.4,235.3L407.8,235.2L404.5,235.2L400.2,236.3L397.7,235.0L394.3,232.5L391.8,231.1L390.4,228.6L387.9,225.6L385.9,224.0L384.5,222.8L384.5,221.1L383.3,219.1L385.0,216.9L385.4,213.6L385.5,211.1L384.2,208.6L385.5,205.2L387.6,202.2L388.4,199.9L390.9,197.2L393.5,196.0L396.0,194.3L396.5,191.8L397.7,189.3L400.2,187.3L401.9,186.0Z M496.2,263.8L497.9,269.6L496.5,273.0L495.3,277.2L493.6,282.2L492.3,285.5L489.2,286.4L486.9,283.9L486.0,280.5L487.7,277.2L487.2,273.0L488.9,270.5L492.3,268.8L494.3,266.3Z M470.7,191.3L472.0,188.8L473.0,186.0L473.7,183.5L473.7,182.1L470.3,183.0L466.9,183.3L464.4,182.6L461.9,183.0L459.3,181.8L457.7,179.3L457.7,177.6L457.2,176.4L459.3,175.9L461.9,175.1L466.1,174.8L469.5,173.4L472.0,173.4L474.5,174.6L477.1,175.1L480.5,175.1L483.2,174.1L483.0,172.6L480.5,170.9L477.9,169.4L476.2,168.1L475.4,167.6L477.9,166.4L479.3,164.7L476.2,165.0L472.5,165.9L472.0,167.2L474.4,167.7L472.4,168.6L470.0,169.4L468.6,168.1L467.8,167.6L469.5,166.7L466.9,166.2L466.1,165.7L464.8,166.0L463.2,167.6L461.9,168.7L461.2,170.4L460.2,172.1L460.2,173.4L461.0,174.2L461.9,174.8L460.2,175.1L458.5,175.6L457.2,175.9L456.8,175.4L454.3,175.3L453.1,176.4L451.4,176.1L451.1,177.6L452.1,178.3L453.4,179.6L453.4,180.6L452.1,180.3L451.6,180.9L452.1,182.6L450.7,182.6L449.6,182.1L448.7,180.4L449.2,179.6L448.0,178.6L447.0,177.4L445.7,175.9L445.8,173.9L444.1,172.6L441.6,171.2L439.1,170.1L437.4,168.1L436.0,168.1L436.0,167.2L433.7,167.9L433.8,169.7L435.9,170.9L436.9,172.7L439.9,173.6L440.3,174.2L442.5,175.4L444.1,176.6L443.6,177.1L441.6,175.9L440.9,177.3L441.8,178.4L440.8,179.4L439.9,180.3L439.2,179.8L439.9,178.6L439.2,176.8L437.9,175.8L436.2,174.8L434.0,173.9L431.8,172.7L430.3,171.4L429.5,169.9L427.8,169.4L425.6,170.4L423.9,171.6L421.3,171.1L419.7,170.9L418.1,171.7L418.3,173.6L416.6,174.6L414.3,175.4L412.6,177.6L413.1,178.8L411.9,180.1L409.9,181.8L408.7,182.3L405.5,182.3L403.8,183.3L402.3,182.3L400.4,181.4L397.9,181.8L398.0,179.4L396.9,178.8L397.7,176.8L398.2,174.2L397.4,171.7L399.4,170.6L402.8,170.7L407.0,170.9L409.9,171.1L410.9,169.2L411.0,167.1L409.5,165.4L408.7,164.5L405.3,163.5L405.0,162.7L407.8,162.0L410.2,162.4L409.9,160.5L410.9,161.0L413.2,160.9L415.4,159.7L415.8,158.5L418.8,157.7L420.2,156.3L421.0,155.0L423.0,154.3L425.1,154.3L427.3,153.8L427.4,152.5L426.7,150.8L426.7,148.3L428.9,148.0L430.8,147.1L430.3,149.1L431.3,149.6L429.8,150.8L429.5,152.0L431.5,153.0L433.7,152.8L435.7,152.7L437.1,153.5L440.8,152.5L444.1,152.2L445.8,152.7L446.7,151.8L448.4,151.2L448.4,149.1L449.2,147.5L451.1,147.1L452.6,148.3L453.9,147.8L453.9,146.1L452.6,145.3L452.6,144.6L455.1,144.1L460.2,144.1L463.9,143.5L461.0,142.5L456.8,142.6L451.7,143.5L449.2,142.3L448.9,140.3L448.9,138.3L451.7,136.6L455.1,134.9L455.6,134.1L453.4,133.6L450.1,134.1L448.9,135.8L445.8,137.4L443.0,139.1L442.0,140.8L442.1,142.3L444.7,143.6L443.3,145.0L440.8,145.8L440.8,148.3L439.9,149.6L437.4,150.0L436.9,151.0L434.7,151.0L434.0,149.5L433.2,147.5L431.8,145.3L430.8,144.5L430.6,143.6L428.9,145.1L426.4,146.5L424.0,146.5L422.4,145.1L421.5,143.3L421.3,140.8L422.2,139.6L424.7,138.6L427.3,137.4L429.8,136.6L432.3,134.9L434.4,132.9L436.5,131.1L439.1,129.6L441.6,128.2L445.0,126.9L449.2,126.2L452.6,125.4L456.5,124.7L460.2,124.9L463.6,125.7L465.3,126.2L463.6,127.1L468.6,127.6L473.7,127.9L480.5,130.1L482.5,131.6L481.3,132.6L477.1,133.1L472.0,132.4L468.6,132.1L470.3,133.6L471.7,135.8L475.4,136.8L476.7,135.8L480.5,135.6L481.3,134.1L483.8,132.6L486.0,132.6L487.6,129.2L491.1,129.4L491.6,130.2L488.9,131.1L491.4,131.9L493.5,131.6L495.7,130.1L502.4,129.4L505.0,129.6L510.9,128.4L515.1,126.9L514.6,129.1L521.0,127.7L525.2,127.9L528.6,129.4L529.4,128.2L526.1,127.2L525.7,124.9L528.6,121.9L535.4,121.9L535.9,124.9L534.5,128.2L537.0,130.2L534.5,132.4L537.9,129.4L538.7,125.7L537.0,123.5L539.6,121.9L544.6,122.9L548.9,123.2L551.4,123.5L549.4,120.7L558.2,120.2L559.8,118.2L570.0,115.2L581.2,114.4L592.5,113.1L603.8,115.6L599.4,118.8L590.0,120.6L581.2,123.1L590.6,121.2L601.2,119.4L611.2,120.0L620.0,121.2L621.2,123.1L625.0,120.0L631.2,122.5L635.0,123.8L645.0,123.1L650.0,121.2L660.0,121.9L665.0,123.1L666.2,124.0L669.6,125.0L678.1,124.9L683.1,126.2L686.5,127.2L695.0,127.2L700.9,126.7L700.9,128.4L708.5,126.9L716.9,128.4L722.0,129.4L725.4,131.1L732.1,131.9L734.1,133.2L729.6,135.9L725.4,135.3L720.3,134.1L718.6,132.9L716.9,134.9L714.4,135.8L715.2,139.1L711.9,139.1L707.6,140.3L703.4,141.6L700.9,143.3L693.3,143.6L689.1,143.6L688.2,146.6L686.5,147.5L688.2,150.0L686.5,152.0L683.1,154.7L680.6,155.8L678.1,158.4L676.4,155.8L675.5,151.7L677.2,147.0L681.5,145.3L685.7,142.5L689.1,140.8L690.7,139.1L683.1,140.3L683.1,142.0L677.2,140.8L673.9,144.1L669.6,145.0L664.6,144.1L658.6,144.5L653.6,144.6L650.2,147.0L646.0,149.3L641.4,152.2L645.1,153.3L646.8,153.7L650.2,154.7L651.6,156.2L650.2,159.2L650.2,162.5L647.7,165.0L646.0,167.6L642.6,169.6L638.4,172.1L635.8,171.4L633.8,172.9L632.1,174.2L631.6,175.9L629.1,176.8L628.2,177.9L629.6,179.3L631.3,181.8L631.5,183.8L630.8,185.0L628.2,185.6L626.4,186.0L626.6,183.5L626.9,181.8L624.5,180.6L624.0,179.3L624.9,177.6L622.8,176.9L619.0,178.3L617.6,178.6L619.0,176.1L617.3,175.4L614.7,177.1L612.2,178.1L611.7,179.3L613.6,180.9L614.7,181.6L616.9,180.4L619.8,181.1L619.6,181.9L616.8,183.0L614.4,185.1L615.9,186.3L616.9,189.0L618.6,190.7L618.8,192.0L616.9,193.0L619.0,193.7L618.5,196.0L616.8,197.2L615.1,199.7L613.9,201.5L612.2,202.9L610.5,204.4L608.0,205.7L605.8,206.4L604.6,206.5L602.1,207.2L600.0,208.1L599.2,209.7L598.4,207.7L596.2,207.4L593.6,208.6L592.8,210.2L591.4,211.9L592.8,213.9L594.5,215.9L596.7,217.8L597.5,221.1L597.3,223.6L595.3,225.3L593.6,226.3L593.1,227.8L590.8,229.1L589.9,227.0L587.7,226.0L586.0,223.6L583.5,222.4L582.6,221.1L581.8,221.6L581.6,224.5L580.6,227.0L581.8,229.5L582.6,231.5L584.7,232.3L586.9,234.5L587.7,237.0L587.7,239.5L588.9,241.4L587.7,241.5L584.0,239.0L582.6,236.2L582.1,233.2L580.6,231.1L578.9,230.3L579.3,227.3L579.6,224.5L579.3,221.9L577.9,218.6L577.7,216.1L575.9,215.9L574.0,217.3L572.2,216.9L572.5,214.4L571.2,211.4L569.1,209.1L568.3,207.4L567.1,206.0L565.4,207.1L563.2,207.4L561.5,207.6L559.8,208.6L559.0,210.2L557.0,210.9L554.8,212.7L551.9,215.3L550.2,216.6L548.4,217.8L548.2,221.1L547.9,223.6L547.7,226.5L546.3,228.1L545.0,228.8L543.8,230.1L542.1,228.6L541.3,226.1L539.6,222.8L538.7,219.4L537.0,216.9L536.2,213.6L535.9,211.1L535.7,208.6L535.4,207.2L532.8,208.9L531.1,208.6L529.4,206.4L531.1,205.5L528.9,204.7L526.9,203.5L525.6,201.5L521.8,201.5L517.6,201.7L513.4,201.2L510.0,200.9L508.8,198.5L505.8,199.0L503.3,199.0L500.7,197.5L498.7,195.2L497.3,193.2L495.3,193.2L494.0,193.8L494.5,195.7L496.0,197.7L497.7,199.4L498.2,201.0L498.7,202.2L499.4,200.0L500.1,201.9L499.7,202.7L501.6,203.2L504.1,203.2L506.6,201.4L508.0,199.9L508.2,201.9L509.2,203.5L511.7,204.2L513.9,206.0L512.6,208.6L510.9,209.6L510.4,211.9L508.3,213.6L505.8,215.3L502.4,216.1L500.7,217.6L497.3,218.8L494.8,220.3L491.4,221.3L488.9,222.3L486.4,222.4L485.9,221.1L485.2,218.6L485.0,216.1L483.0,213.6L480.5,210.2L478.8,207.7L477.9,204.4L475.9,201.9L474.5,199.4L472.5,196.8L471.7,194.3L470.8,196.8L469.1,196.0L468.0,193.7L467.5,191.5Z M-137.4,191.3L-136.0,188.8L-135.0,186.0L-134.3,183.5L-134.3,182.1L-137.7,183.0L-141.1,183.3L-143.6,182.6L-146.2,183.0L-148.7,181.8L-150.4,179.3L-150.4,177.6L-150.9,176.4L-148.7,175.9L-146.2,175.1L-141.9,174.8L-138.6,173.4L-136.0,173.4L-133.5,174.6L-131.0,175.1L-127.6,175.1L-124.9,174.1L-125.0,172.6L-127.6,170.9L-130.1,169.4L-131.8,168.1L-132.6,167.6L-130.1,166.4L-128.8,164.7L-131.8,165.0L-135.5,165.9L-136.0,167.2L-133.7,167.7L-135.7,168.6L-138.1,169.4L-139.4,168.1L-140.2,167.6L-138.6,166.7L-141.1,166.2L-141.9,165.7L-143.3,166.0L-144.8,167.6L-146.2,168.7L-146.8,170.4L-147.8,172.1L-147.8,173.4L-147.0,174.2L-146.2,174.8L-147.8,175.1L-149.5,175.6L-150.9,175.9L-151.2,175.4L-153.8,175.3L-154.9,176.4L-156.6,176.1L-157.0,177.6L-156.0,178.3L-154.6,179.6L-154.6,180.6L-156.0,180.3L-156.5,180.9L-156.0,182.6L-157.3,182.6L-158.5,182.1L-159.3,180.4L-158.8,179.6L-160.0,178.6L-161.0,177.4L-162.4,175.9L-162.2,173.9L-163.9,172.6L-166.4,171.2L-169.0,170.1L-170.6,168.1L-172.0,168.1L-172.0,167.2L-174.4,167.9L-174.2,169.7L-172.2,170.9L-171.2,172.7L-168.1,173.6L-167.8,174.2L-165.6,175.4L-163.9,176.6L-164.4,177.1L-166.4,175.9L-167.1,177.3L-166.3,178.4L-167.3,179.4L-168.1,180.3L-168.8,179.8L-168.1,178.6L-168.8,176.8L-170.1,175.8L-171.8,174.8L-174.0,173.9L-176.2,172.7L-177.7,171.4L-178.6,169.9L-180.3,169.4L-182.5,170.4L-184.2,171.6L-186.7,171.1L-188.4,170.9L-189.9,171.7L-189.7,173.6L-191.4,174.6L-193.8,175.4L-195.5,177.6L-195.0,178.8L-196.2,180.1L-198.2,181.8L-199.4,182.3L-202.6,182.3L-204.3,183.3L-205.8,182.3L-207.6,181.4L-210.2,181.8L-210.0,179.4L-211.2,178.8L-210.3,176.8L-209.8,174.2L-210.7,171.7L-208.7,170.6L-205.3,170.7L-201.1,170.9L-198.2,171.1L-197.2,169.2L-197.0,167.1L-198.5,165.4L-199.4,164.5L-202.7,163.5L-203.1,162.7L-200.2,162.0L-197.8,162.4L-198.2,160.5L-197.2,161.0L-194.8,160.9L-192.6,159.7L-192.3,158.5L-189.2,157.7L-187.9,156.3L-187.0,155.0L-185.0,154.3L-183.0,154.3L-180.8,153.8L-180.6,152.5L-181.3,150.8L-181.3,148.3L-179.1,148.0L-177.2,147.1L-177.7,149.1L-176.7,149.6L-178.2,150.8L-178.6,152.0L-176.6,153.0L-174.4,152.8L-172.3,152.7L-171.0,153.5L-167.3,152.5L-163.9,152.2L-162.2,152.7L-161.4,151.8L-159.7,151.2L-159.7,149.1L-158.8,147.5L-157.0,147.1L-155.4,148.3L-154.1,147.8L-154.1,146.1L-155.4,145.3L-155.4,144.6L-152.9,144.1L-147.8,144.1L-144.1,143.5L-147.0,142.5L-151.2,142.6L-156.3,143.5L-158.8,142.3L-159.2,140.3L-159.2,138.3L-156.3,136.6L-152.9,134.9L-152.4,134.1L-154.6,133.6L-158.0,134.1L-159.2,135.8L-162.2,137.4L-165.1,139.1L-166.1,140.8L-165.9,142.3L-163.4,143.6L-164.7,145.0L-167.3,145.8L-167.3,148.3L-168.1,149.6L-170.6,150.0L-171.2,151.0L-173.4,151.0L-174.0,149.5L-174.9,147.5L-176.2,145.3L-177.2,144.5L-177.4,143.6L-179.1,145.1L-181.6,146.5L-184.0,146.5L-185.7,145.1L-186.5,143.3L-186.7,140.8L-185.9,139.6L-183.3,138.6L-180.8,137.4L-178.2,136.6L-175.7,134.9L-173.7,132.9L-171.5,131.1L-169.0,129.6L-166.4,128.2L-163.0,126.9L-158.8,126.2L-155.4,125.4L-151.6,124.7L-147.8,124.9L-144.5,125.7L-142.8,126.2L-144.5,127.1L-139.4,127.6L-134.3,127.9L-127.6,130.1L-125.6,131.6L-126.7,132.6L-131.0,133.1L-136.0,132.4L-139.4,132.1L-137.7,133.6L-136.4,135.8L-132.6,136.8L-131.3,135.8L-127.6,135.6L-126.7,134.1L-124.2,132.6L-122.0,132.6L-120.5,129.2L-116.9,129.4L-116.4,130.2L-119.1,131.1L-116.6,131.9L-114.6,131.6L-112.4,130.1L-105.6,129.4L-103.1,129.6L-97.2,128.4L-93.0,126.9L-93.5,129.1L-87.0,127.7L-82.8,127.9L-79.4,129.4L-78.6,128.2L-82.0,127.2L-82.3,124.9L-79.4,121.9L-72.7,121.9L-72.2,124.9L-73.5,128.2L-71.0,130.2L-73.5,132.4L-70.2,129.4L-69.3,125.7L-71.0,123.5L-68.5,121.9L-63.4,122.9L-59.2,123.2L-56.6,123.5L-58.7,120.7L-49.9,120.2L-48.2,118.2L-38.0,115.2L-26.8,114.4L-15.5,113.1L-4.3,115.6L-8.6,118.8L-18.0,120.6L-26.8,123.1L-17.4,121.2L-6.8,119.4L3.2,120.0L12.0,121.2L13.2,123.1L17.0,120.0L23.2,122.5L27.0,123.8L37.0,123.1L42.0,121.2L52.0,121.9L57.0,123.1L58.2,124.0L61.6,125.0L70.0,124.9L75.1,126.2L78.5,127.2L86.9,127.2L92.8,126.7L92.8,128.4L100.4,126.9L108.9,128.4L113.9,129.4L117.3,131.1L124.1,131.9L126.1,133.2L121.5,135.9L117.3,135.3L112.3,134.1L110.6,132.9L108.9,134.9L106.3,135.8L107.2,139.1L103.8,139.1L99.6,140.3L95.4,141.6L92.8,143.3L85.2,143.6L81.0,143.6L80.2,146.6L78.5,147.5L80.2,150.0L78.5,152.0L75.1,154.7L72.6,155.8L70.0,158.4L68.3,155.8L67.5,151.7L69.2,147.0L73.4,145.3L77.6,142.5L81.0,140.8L82.7,139.1L75.1,140.3L75.1,142.0L69.2,140.8L65.8,144.1L61.6,145.0L56.5,144.1L50.6,144.5L45.5,144.6L42.2,147.0L37.9,149.3L33.4,152.2L37.1,153.3L38.8,153.7L42.2,154.7L43.5,156.2L42.2,159.2L42.2,162.5L39.6,165.0L37.9,167.6L34.6,169.6L30.3,172.1L27.8,171.4L25.8,172.9L24.1,174.2L23.6,175.9L21.1,176.8L20.2,177.9L21.6,179.3L23.2,181.8L23.4,183.8L22.7,185.0L20.2,185.6L18.3,186.0L18.5,183.5L18.9,181.8L16.5,180.6L16.0,179.3L16.8,177.6L14.8,176.9L10.9,178.3L9.6,178.6L10.9,176.1L9.2,175.4L6.7,177.1L4.2,178.1L3.7,179.3L5.5,180.9L6.7,181.6L8.9,180.4L11.8,181.1L11.6,181.9L8.7,183.0L6.4,185.1L7.9,186.3L8.9,189.0L10.6,190.7L10.7,192.0L8.9,193.0L10.9,193.7L10.4,196.0L8.7,197.2L7.0,199.7L5.9,201.5L4.2,202.9L2.5,204.4L-0.1,205.7L-2.3,206.4L-3.4,206.5L-6.0,207.2L-8.0,208.1L-8.8,209.7L-9.7,207.7L-11.9,207.4L-14.4,208.6L-15.3,210.2L-16.6,211.9L-15.3,213.9L-13.6,215.9L-11.4,217.8L-10.5,221.1L-10.7,223.6L-12.7,225.3L-14.4,226.3L-14.9,227.8L-17.3,229.1L-18.1,227.0L-20.3,226.0L-22.0,223.6L-24.6,222.4L-25.4,221.1L-26.2,221.6L-26.4,224.5L-27.4,227.0L-26.2,229.5L-25.4,231.5L-23.4,232.3L-21.2,234.5L-20.3,237.0L-20.3,239.5L-19.1,241.4L-20.3,241.5L-24.0,239.0L-25.4,236.2L-25.9,233.2L-27.4,231.1L-29.1,230.3L-28.8,227.3L-28.4,224.5L-28.8,221.9L-30.1,218.6L-30.3,216.1L-32.2,215.9L-34.0,217.3L-35.9,216.9L-35.5,214.4L-36.9,211.4L-38.9,209.1L-39.8,207.4L-40.9,206.0L-42.6,207.1L-44.8,207.4L-46.5,207.6L-48.2,208.6L-49.0,210.2L-51.1,210.9L-53.3,212.7L-56.1,215.3L-57.8,216.6L-59.7,217.8L-59.9,221.1L-60.2,223.6L-60.4,226.5L-61.7,228.1L-63.1,228.8L-64.2,230.1L-65.9,228.6L-66.8,226.1L-68.5,222.8L-69.3,219.4L-71.0,216.9L-71.8,213.6L-72.2,211.1L-72.3,208.6L-72.7,207.2L-75.2,208.9L-76.9,208.6L-78.6,206.4L-76.9,205.5L-79.1,204.7L-81.1,203.5L-82.5,201.5L-86.2,201.5L-90.4,201.7L-94.6,201.2L-98.0,200.9L-99.2,198.5L-102.2,199.0L-104.8,199.0L-107.3,197.5L-109.3,195.2L-110.7,193.2L-112.7,193.2L-114.1,193.8L-113.6,195.7L-112.0,197.7L-110.4,199.4L-109.8,201.0L-109.3,202.2L-108.7,200.0L-108.0,201.9L-108.3,202.7L-106.5,203.2L-103.9,203.2L-101.4,201.4L-100.0,199.9L-99.9,201.9L-98.9,203.5L-96.3,204.2L-94.1,206.0L-95.5,208.6L-97.2,209.6L-97.7,211.9L-99.7,213.6L-102.2,215.3L-105.6,216.1L-107.3,217.6L-110.7,218.8L-113.2,220.3L-116.6,221.3L-119.1,222.3L-121.7,222.4L-122.2,221.1L-122.9,218.6L-123.0,216.1L-125.0,213.6L-127.6,210.2L-129.3,207.7L-130.1,204.4L-132.1,201.9L-133.5,199.4L-135.5,196.8L-136.4,194.3L-137.2,196.8L-138.9,196.0L-140.1,193.7L-140.6,191.5Z M604.9,281.4L605.8,280.2L608.8,278.5L613.0,277.7L617.3,276.5L619.5,273.8L619.3,272.1L621.5,272.7L622.3,271.0L624.9,268.0L627.4,267.0L629.6,268.5L631.6,268.8L632.1,266.3L633.3,264.6L635.8,262.6L637.0,263.8L640.9,264.1L643.8,263.8L642.6,266.3L641.8,268.8L644.3,270.1L647.7,272.1L650.2,273.2L651.9,269.6L652.2,265.5L653.1,261.9L655.3,264.6L655.8,267.6L658.3,268.8L659.5,273.0L660.3,275.5L663.7,277.5L665.4,280.5L667.6,282.7L670.5,285.2L671.7,288.0L672.3,291.4L671.3,295.6L670.0,298.6L668.3,300.6L667.1,303.4L666.2,306.1L662.9,307.1L660.0,309.1L657.3,307.6L655.3,308.6L651.9,307.8L649.4,306.3L648.2,303.6L646.3,303.3L646.0,301.1L645.3,302.6L644.0,302.8L645.6,298.6L642.6,301.9L641.3,301.1L639.6,298.8L636.7,297.3L634.2,296.4L629.9,297.3L625.7,297.8L622.3,298.9L621.5,300.4L617.3,300.3L614.7,301.3L612.2,302.3L608.8,302.1L607.1,301.1L607.5,299.8L608.3,297.3L607.5,294.7L606.3,291.4L604.6,288.0L604.3,283.9Z M657.3,312.0L660.3,312.5L663.2,312.1L663.4,314.3L662.7,316.0L660.8,316.7L659.2,316.2L658.1,314.3Z M704.6,301.3L707.3,303.1L709.3,304.8L710.0,306.6L712.2,307.3L714.4,306.8L713.4,309.3L711.9,309.8L710.7,312.3L708.8,313.3L708.1,312.6L708.8,310.6L706.4,309.5L708.0,307.3L708.0,305.6L706.8,303.9Z M96.6,301.3L99.3,303.1L101.3,304.8L102.0,306.6L104.2,307.3L106.3,306.8L105.3,309.3L103.8,309.8L102.6,312.3L100.8,313.3L100.1,312.6L100.8,310.6L98.4,309.5L99.9,307.3L99.9,305.6L98.7,303.9Z M704.6,311.5L707.3,313.5L705.1,315.7L704.8,317.0L702.2,317.8L701.4,320.3L699.2,321.7L697.0,321.5L694.1,320.7L695.0,319.0L697.5,317.3L700.9,315.7L702.6,313.7L703.7,312.0Z M403.3,159.9L407.0,159.5L411.2,158.9L415.1,158.0L414.6,157.2L415.8,155.5L413.4,155.0L412.9,154.0L410.9,152.3L410.2,150.8L409.2,150.0L407.8,149.8L409.5,147.5L407.0,147.1L406.1,147.3L407.5,145.6L404.5,145.6L403.1,147.5L403.6,149.6L404.8,150.8L404.5,152.0L407.0,151.8L407.8,153.3L407.8,154.3L405.3,154.5L405.6,155.5L405.8,156.3L404.1,157.0L406.1,157.5L407.8,157.8L405.3,158.4Z M402.4,156.3L402.8,154.2L403.6,152.5L401.9,151.3L399.4,151.3L398.5,152.7L396.0,153.0L396.0,154.3L397.2,155.5L395.5,156.7L396.9,157.5L399.4,157.0Z M372.4,134.1L374.9,132.6L377.4,134.1L382.5,132.9L385.9,132.4L388.2,133.2L389.9,134.9L387.6,136.1L381.7,137.6L378.3,137.3L374.9,136.8L375.7,135.8L372.4,135.1L374.9,134.4Z M634.0,186.8L636.7,184.5L640.9,184.0L643.8,182.1L644.8,180.9L646.8,181.3L649.0,178.8L649.4,176.8L649.4,175.4L651.6,174.4L651.9,176.1L652.7,177.6L651.0,180.1L650.9,182.1L650.7,184.0L649.4,185.1L648.9,184.5L647.2,185.6L644.3,185.8L644.0,186.3L642.6,187.6L641.3,187.0L641.3,185.8L637.5,186.3L635.8,186.8Z M634.0,187.0L635.3,187.6L635.0,190.1L633.5,191.7L632.8,190.1L632.1,188.5Z M636.7,186.8L640.1,186.5L639.7,187.6L637.5,188.8L636.4,188.0Z M649.7,174.2L650.2,171.7L652.2,167.9L654.4,169.6L658.3,170.4L658.6,171.2L655.3,173.4L651.9,172.6L651.0,173.7Z M652.7,166.7L655.3,165.5L654.4,164.2L654.8,161.2L657.0,161.7L655.3,159.2L654.9,155.8L654.1,152.8L652.7,154.2L652.7,157.5L652.7,161.7Z M597.0,241.2L598.7,240.9L600.9,239.5L603.8,238.2L605.4,236.2L608.0,234.5L610.0,232.0L611.7,233.7L614.2,235.0L612.2,236.5L611.7,238.7L612.2,241.2L613.7,242.0L611.7,242.9L611.4,245.4L609.3,247.0L609.3,250.1L606.6,250.4L603.8,249.1L601.6,249.2L599.0,248.4L598.7,246.0L597.0,244.2Z M573.9,234.3L577.6,235.0L579.3,237.0L581.8,239.3L583.5,240.2L587.4,242.7L588.2,245.4L589.4,247.0L591.9,248.4L591.9,249.6L591.6,253.4L589.6,253.4L585.7,250.4L583.5,247.9L582.3,245.0L580.1,242.9L579.3,240.7L577.1,238.3L574.2,235.7Z M590.6,255.1L592.3,253.7L595.3,254.2L599.5,254.6L600.4,254.4L603.3,255.2L606.1,256.8L606.1,258.1L602.1,257.6L597.0,256.8L592.8,256.1Z M615.2,242.4L617.1,241.5L620.6,242.2L624.0,241.0L623.2,242.9L618.1,242.9L615.9,243.7L617.6,245.4L620.6,245.2L618.6,246.9L619.8,249.2L621.0,251.7L619.5,252.1L618.1,250.9L617.1,248.2L616.3,249.6L616.3,252.9L614.7,252.9L614.4,249.6L613.6,248.2L615.1,244.5Z M634.2,245.0L636.7,244.4L639.2,245.0L640.1,247.9L641.8,249.2L645.1,246.4L648.5,247.4L651.0,248.1L656.1,250.1L659.2,252.1L662.0,253.7L662.5,255.4L660.3,256.3L663.7,258.8L667.1,261.3L664.6,260.9L661.2,259.6L659.5,257.1L656.1,256.6L654.8,258.8L651.0,259.1L647.7,257.1L646.0,257.8L647.2,255.4L646.0,252.9L641.8,251.1L638.4,250.1L637.2,250.4L635.8,248.4L638.4,247.5L635.8,247.0Z M616.4,212.7L619.3,212.9L619.3,216.1L618.1,218.6L619.0,220.3L622.3,221.9L622.2,222.6L619.8,220.9L617.3,220.8L616.6,219.4L615.6,216.9Z M619.0,232.0L621.5,229.3L624.9,227.5L626.6,231.1L625.7,233.2L624.7,234.3L622.3,232.8L621.5,231.1Z M617.3,201.5L619.0,201.9L617.3,206.9L615.7,205.2Z M596.5,211.6L598.7,210.1L600.4,210.7L598.7,213.1L596.5,212.7Z M547.7,227.5L550.0,229.5L551.1,232.0L549.7,233.5L548.0,233.7L547.5,230.3Z M269.3,207.2L272.7,205.2L276.1,204.9L279.5,206.2L282.8,207.6L285.4,209.1L287.6,209.9L286.2,210.4L281.7,210.4L282.8,209.4L280.3,207.7L276.9,206.9L274.4,206.2L271.9,206.5Z M287.2,212.9L289.9,210.4L294.7,210.6L297.4,212.6L294.7,213.1L292.1,214.1L289.6,213.2Z M312.7,164.0L315.8,159.2L319.2,157.3L318.3,160.0L321.7,160.9L323.4,162.5L323.9,164.2L322.5,165.5L319.2,165.2L318.3,164.0Z M301.4,139.9L294.7,138.6L290.4,136.6L286.2,135.8L281.2,135.3L282.0,134.1L287.9,134.1L288.8,131.6L289.6,129.4L282.8,126.9L279.5,126.1L274.4,126.6L269.3,126.6L264.3,125.7L261.7,124.0L260.9,121.5L264.3,120.2L269.3,120.4L276.1,120.7L276.9,122.4L281.2,121.9L284.5,122.0L287.1,123.5L291.3,124.0L294.7,125.7L298.0,126.2L299.7,128.2L303.1,130.2L308.2,131.6L309.0,132.7L305.6,134.9L303.1,134.1L299.7,133.6L304.0,136.6L303.5,138.3Z M284.5,115.7L277.8,116.2L269.3,115.7L262.6,115.7L266.0,113.2L264.3,111.5L267.6,109.0L259.2,107.3L269.3,105.6L286.2,104.6L303.1,105.3L308.2,106.5L298.0,109.0L291.3,110.7L284.5,111.8L286.2,113.5L281.2,114.8Z M215.3,124.0L222.0,121.9L228.8,121.9L235.6,121.2L235.6,124.0L240.6,126.6L241.5,128.2L235.6,128.7L228.8,128.6L222.0,128.9L217.0,127.9L214.4,126.1L220.4,125.7Z M200.9,123.2L205.2,120.2L211.9,119.5L217.0,121.0L211.9,123.9L205.2,124.5Z M277.8,118.7L257.5,118.7L257.5,115.7L264.3,116.0L277.8,117.0Z M266.0,136.9L271.9,134.1L276.9,136.6L272.7,137.9L268.5,137.8Z M431.5,110.7L438.2,109.8L446.7,109.5L455.1,109.3L458.5,109.8L450.1,111.8L448.4,112.7L443.3,114.8L441.6,115.5L436.5,114.0L434.9,112.3Z M499.9,123.5L502.4,120.7L505.8,118.2L510.9,116.5L517.6,115.7L528.6,115.0L524.4,116.8L514.2,118.5L510.9,120.7L508.3,122.4L510.0,125.4L505.0,125.2L501.6,124.4Z M434.0,180.1L439.2,179.8L438.4,182.3L434.0,180.8Z M426.7,175.1L429.3,175.1L429.1,178.1L427.1,178.4Z M280.7,212.7L284.0,213.2L282.8,213.9L280.7,213.2Z M621.7,260.9L624.0,258.8L627.7,257.8L625.7,259.4L622.8,260.8Z M608.8,257.8L613.9,257.6L620.6,257.6L620.3,258.4L613.9,258.4L608.8,258.8Z M613.9,259.6L616.9,260.3L615.9,260.9L614.2,260.1Z M628.2,240.4L629.9,241.2L629.9,243.7L628.8,245.0L628.4,242.9Z M629.1,248.7L633.8,249.1L633.3,249.9L629.4,249.6Z M610.9,229.6L614.7,225.0L614.4,226.6L611.4,230.0Z M619.0,224.0L620.8,224.5L620.0,226.1L619.0,226.0Z M619.8,227.0L621.3,225.6L621.2,228.3L620.0,227.8Z M622.8,222.8L624.9,223.3L625.2,225.3L624.0,227.0L623.2,226.1L623.3,224.5Z M616.4,221.3L618.1,221.6L617.8,223.1L617.1,222.9Z M663.4,253.2L666.2,252.1L669.6,250.9L670.1,252.1L667.1,254.1L663.7,254.1Z M689.9,277.3L695.0,280.9L694.1,281.2L690.2,278.2Z M712.4,273.0L714.6,273.0L714.4,274.2L712.4,274.0Z M104.3,273.0L106.5,273.0L106.3,274.2L104.3,274.0Z M149.4,209.9L151.3,210.9L150.1,211.9L149.4,210.9Z M196.2,158.7L201.8,159.9L204.5,162.5L202.1,162.4L199.2,160.9Z M240.6,124.0L245.7,120.2L249.1,121.2L249.9,123.2L246.5,124.4Z M251.6,123.2L251.6,119.9L259.2,119.9L260.0,121.9L255.8,123.2Z M215.3,118.2L222.0,115.7L230.5,115.7L234.7,117.4L230.5,118.5L223.7,118.2Z M237.2,117.7L240.6,115.7L247.4,115.7L248.2,117.4L244.0,118.2Z M251.6,111.5L255.8,108.1L264.3,109.3L266.0,111.5L260.9,112.7Z M205.2,116.2L210.2,114.3L217.0,114.3L213.6,116.2Z M244.8,127.4L248.2,126.9L251.6,127.9L249.1,129.1L245.7,128.6Z M570.6,109.0L576.0,108.1L581.9,109.0L576.0,110.0Z M582.5,110.0L588.0,110.5L590.6,112.5L585.0,112.0Z M644.4,116.4L650.0,115.3L657.5,116.4L650.0,117.5Z M100.0,376.0L105.0,375.0L132.5,375.5L145.0,373.8L157.5,372.5L175.0,371.0L200.0,368.0L212.5,367.5L235.0,366.0L238.8,369.3L242.5,367.5L250.0,366.0L275.0,365.5L286.0,363.0L288.8,365.5L295.0,361.0L300.0,355.5L316.0,351.0L311.0,358.0L310.0,369.0L320.0,373.0L337.5,375.5L355.0,374.5L370.0,370.5L382.5,366.8L400.0,363.0L412.5,361.3L425.0,361.8L450.0,361.8L460.0,360.5L475.0,361.0L485.0,359.3L500.0,355.5L518.0,358.0L536.5,361.0L550.6,356.0L576.0,354.7L640.6,354.7L657.5,357.5L680.0,360.3L701.0,364.0L697.0,368.8L688.4,373.0L697.0,375.0L713.7,375.8L721.0,377.0L721.0,397.0L100.0,397.0Z"/>
<path d="M495.7,165.9L499.0,165.0L502.4,165.4L501.6,167.9L499.0,169.2L497.9,169.6L499.9,171.4L502.1,172.6L502.1,175.1L503.8,175.9L503.3,178.4L504.1,180.9L502.4,181.9L499.0,182.3L496.5,180.9L495.3,179.3L496.2,176.8L497.0,175.9L494.8,173.7L493.1,171.7L492.8,170.1L491.9,168.7L493.1,167.2Z M257.5,165.5L260.9,163.7L263.4,162.2L267.6,162.9L269.8,164.5L269.3,165.7L266.0,165.9L261.7,165.4Z M264.6,173.4L267.1,173.1L267.3,170.1L268.8,167.6L266.0,167.2L264.3,169.2Z M270.2,166.9L275.2,166.9L277.8,169.1L275.2,171.4L273.6,171.4L271.9,170.1L272.2,168.1Z M272.2,173.7L279.5,172.1L278.6,172.9L273.6,174.4Z M278.3,171.2L284.0,169.9L284.0,170.9L279.5,171.4Z M204.3,132.9L208.5,131.6L213.6,132.4L212.8,134.4L207.7,134.9L205.2,134.4Z M215.3,141.6L220.4,139.4L225.4,138.6L228.0,139.1L223.7,141.1L218.7,142.0Z M245.7,154.2L248.2,153.3L250.2,158.4L249.1,159.4L246.5,156.7Z M466.4,244.5L467.8,243.2L470.3,243.4L470.8,245.4L469.5,247.9L466.9,248.1L466.4,246.2Z M462.2,249.4L463.2,252.1L464.6,255.4L465.3,258.3L464.4,257.4L462.6,253.7Z M470.3,259.8L471.7,262.9L472.0,267.1L471.2,267.1L470.7,262.9Z M588.2,157.3L591.1,155.8L595.3,153.3L598.4,150.5L597.5,152.5L593.6,155.3L590.2,157.3Z M537.0,166.7L541.3,165.4L546.3,165.7L546.3,166.4L541.3,166.2L537.9,168.4Z M511.7,165.9L515.9,165.9L516.8,168.4L514.2,170.7L511.7,170.1Z M464.9,143.3L468.3,142.0L467.8,140.8L464.4,141.1Z M472.0,141.6L473.7,139.1L472.5,138.8L471.2,140.8Z" stroke-width="0.5"/>
<path d="M174.8,127.2L174.8,142.8L178.1,143.3L180.7,145.1L184.0,143.8L187.4,145.8L190.0,148.3L193.3,150.0L193.0,151.7 M205.2,161.7L252.1,161.7L252.8,161.2L257.5,162.7L261.7,163.4L263.8,162.9L269.7,165.4L271.9,166.7L273.6,167.9L273.7,171.7L272.7,173.4L279.5,172.1L279.5,170.9L283.7,170.1L286.2,168.4L292.1,168.4L293.8,167.6L296.0,164.4L298.0,164.5L298.4,167.1L299.7,168.4 M215.1,189.3L219.0,189.3L225.4,191.3L230.2,191.3L230.2,190.5L233.0,190.5L236.4,194.0L238.9,195.2L239.8,193.8L242.3,194.3L244.8,197.7L248.7,200.4 M257.2,219.4L257.5,218.1L258.4,216.9L260.0,216.8L259.2,214.9L259.2,213.9L262.2,213.9L263.8,212.7 M262.2,213.9L262.2,217.1L262.7,217.1 M260.7,220.8L262.1,219.6L262.2,218.8L263.8,217.4 M262.1,219.6L263.4,220.3L264.6,221.3 M265.5,221.9L266.5,220.6L268.0,220.4L269.3,219.3L272.4,218.6 M268.2,225.1L269.8,225.3L271.5,225.5 M272.9,230.1L273.1,228.6L273.4,227.6 M281.3,231.7L282.3,229.3 M291.8,213.9L291.6,210.7 M292.5,224.0L290.4,225.1L289.6,227.8L290.4,230.3L291.3,232.0L294.7,232.0L295.5,233.5L298.9,233.3L298.4,236.2L299.4,239.5L299.7,241.7 M299.7,241.7L295.0,240.9L295.5,242.7L294.7,244.0L295.5,245.4L294.8,250.7 M294.8,250.7L293.5,250.1L291.3,247.9L288.8,245.9L285.9,243.9 M285.9,243.9L283.7,243.2L281.5,242.4L279.8,241.4 M285.9,243.9L285.4,246.2L283.2,248.2L280.8,249.6L279.5,252.1L277.3,251.2L277.3,249.4 M311.6,229.5L309.9,232.0L309.4,233.8L310.4,235.0 M310.4,235.0L308.2,236.8L304.8,236.8L304.0,239.5L305.6,240.0L302.3,242.4L299.7,241.7 M310.4,235.0L311.6,235.3L311.9,237.8L312.4,240.7L314.1,241.5L316.6,240.4 M316.6,233.7L315.8,235.3L314.9,237.8L316.6,240.4 M316.6,240.4L319.2,239.7L320.8,239.9 M321.7,234.2L320.8,237.0L320.8,239.9 M320.8,239.9L324.2,240.0L325.7,236.7 M294.8,250.7L289.9,252.4L288.3,255.4L289.6,258.8L291.0,260.4L293.7,259.6L293.7,262.1L295.5,262.1 M295.5,262.1L296.9,264.6L296.4,268.0L295.5,269.6L296.4,271.0L295.5,272.8 M295.5,272.8L294.0,274.3 M295.5,262.1L298.0,261.6L302.6,260.1L302.6,262.9L306.5,265.0L309.9,266.3L311.2,267.1L311.2,270.8L314.4,271.0L314.4,272.7L315.6,273.8L314.6,276.8 M314.6,276.8L313.1,276.0L308.5,276.5L307.2,280.9 M307.2,280.9L304.3,281.9L302.8,280.7L300.9,280.2L299.4,281.9 M299.4,281.9L298.0,279.7L297.2,277.2L296.4,275.5L295.5,272.8 M299.4,281.9L297.5,284.7L297.2,288.9L295.0,293.1L294.2,297.3L294.7,300.6L293.8,303.9L293.0,308.1L291.6,312.3L291.8,316.5L292.1,320.7L290.8,324.0L289.6,327.4L290.8,329.0L291.5,330.7L297.4,331.2 M297.0,331.7L297.0,335.6 M307.2,280.9L309.9,283.5L313.8,285.2L315.6,286.2L313.9,289.2L317.5,289.4L320.7,286.5 M314.6,276.8L315.3,280.5L318.3,281.0L319.2,283.9L321.2,284.0L320.7,286.5 M320.7,286.5L322.0,288.9L318.7,291.1L315.6,294.2 M315.6,294.2L314.6,298.1L314.3,300.6 M315.6,294.2L319.2,295.4L321.7,297.1L322.7,300.1 M409.2,185.0L410.0,187.6L410.9,189.6L407.0,191.0L403.6,193.8L398.2,195.7L398.2,197.3 M398.2,197.3L390.6,197.3 M398.2,197.3L398.2,200.2L392.6,200.2L392.6,204.4L390.9,205.2L390.9,208.1L384.2,208.1 M398.2,198.0L404.8,201.9 M404.8,201.9L401.9,201.9L403.6,217.8L396.9,217.9L393.5,217.8L392.3,218.9 M392.3,218.9L390.1,216.6L385.0,216.9 M392.3,218.9L393.6,222.9 M393.6,222.9L389.8,222.6L384.7,222.9 M384.5,220.9L387.6,220.6L389.6,221.3L387.6,221.6L384.5,221.8 M389.8,222.6L389.8,224.1L387.6,225.3 M393.6,222.9L396.9,223.3L399.1,225.3L399.4,226.6 M390.4,228.6L394.3,227.0L395.5,229.5 M395.5,229.5L397.2,231.3L398.5,231.0 M398.5,231.0L399.4,229.5L399.4,226.6 M395.5,229.5L393.5,232.2 M398.5,231.0L400.2,236.3 M399.4,226.6L402.8,226.6L403.6,226.3 M403.6,226.3L403.9,224.0L406.1,221.4L409.5,219.9L413.2,218.6 M403.6,226.3L405.3,227.5L408.2,227.6 M408.2,227.6L408.3,231.1L407.7,235.2 M408.2,227.6L408.2,225.3L412.9,225.3 M412.9,225.3L413.7,229.5L414.9,233.5 M414.4,225.3L415.6,228.6L415.6,233.3 M419.0,224.1L417.6,228.6L417.5,233.0 M412.9,225.3L414.4,225.3L417.0,223.3 M413.2,218.6L413.7,220.8L417.0,223.3 M417.0,223.3L419.0,224.1 M413.2,218.6L418.8,217.9L420.0,215.6L420.0,211.6 M404.8,201.9L414.9,208.4L418.3,210.6L420.0,211.6 M420.0,211.6L423.0,210.7L433.2,204.4 M433.2,204.4L428.9,199.7L429.5,196.3L428.9,193.2 M428.9,193.2L426.9,189.3L426.9,185.1L427.4,181.9 M428.9,193.2L430.3,190.5L432.3,188.1 M433.2,204.4L438.2,205.2 M438.2,205.2L453.4,211.1 M453.4,211.1L453.4,210.2L455.1,210.2L455.1,206.9 M455.1,206.9L455.1,190.8 M455.1,206.9L475.2,206.9 M438.2,205.2L439.1,209.4L439.1,215.6L435.7,219.4L435.7,220.9 M419.0,224.1L419.7,221.1L424.7,221.9L429.8,221.4L435.7,220.9 M435.7,220.9L436.9,222.3 M436.9,222.3L435.4,227.0L432.8,232.0L428.9,232.8L427.4,235.7 M436.9,222.3L438.2,225.3L439.1,227.0L436.5,227.0L438.7,231.1 M438.7,231.1L444.1,230.3L448.4,227.8L451.6,225.3 M451.6,225.3L450.1,221.9L452.6,217.4L453.4,211.1 M438.7,231.1L437.4,234.5L439.9,240.0 M439.9,240.0L435.4,240.0L432.0,240.0L429.5,239.9 M432.0,240.0L432.0,242.0L429.1,242.0 M435.4,240.0L437.2,242.0L437.2,246.2L434.0,247.5L431.8,250.2 M439.9,240.0L444.3,237.8 M444.3,237.8L444.3,236.3L450.9,236.7L455.1,235.0L459.2,235.2 M459.2,235.2L453.4,229.5L451.6,225.3 M444.3,237.8L443.0,243.7L440.3,247.0L439.9,250.4L437.4,251.9L434.9,251.4L433.5,253.4 M453.4,229.1L460.2,227.8L466.9,223.6L470.3,227.8 M470.3,227.8L468.6,230.3L472.0,234.7 M470.3,227.8L472.0,225.3L474.0,221.9L474.5,219.8 M474.5,219.8L475.4,215.3L477.9,213.6 M474.5,219.8L477.1,219.1L480.5,219.4L484.5,222.8 M484.5,222.8L483.5,225.3L485.5,225.3 M485.5,225.3L485.5,227.8L488.9,229.3L494.0,230.3L488.9,235.3L483.8,236.7 M472.0,234.7L473.7,236.3L477.1,237.7L479.6,237.8L483.8,236.7 M483.8,236.7L482.1,238.7L482.1,245.0L483.2,246.5 M472.0,234.7L470.3,236.7L465.3,237.5 M465.3,237.5L462.7,236.2L459.2,235.2 M465.3,237.5L465.3,240.0L463.1,242.9L462.9,246.0 M470.3,236.7L472.0,240.9L470.3,243.4L470.3,245.4 M470.3,245.4L476.6,248.9L479.1,251.6 M470.3,245.4L464.4,245.4 M462.9,246.0L464.4,245.4L464.9,247.7L464.4,249.6L462.6,251.1 M462.9,246.0L461.9,248.2L462.6,251.1 M461.9,248.2L464.9,247.7 M462.6,251.1L463.1,254.6L464.8,257.4 M464.8,257.4L468.5,259.4 M468.5,259.4L470.3,259.6L471.3,263.1 M471.3,263.1L476.2,263.3L481.1,261.3 M468.5,259.4L469.1,264.6L468.1,266.5L471.2,268.0L472.5,272.1L473.5,268.8L471.3,263.1 M464.8,257.4L461.7,257.9L460.9,259.1L461.2,263.8L463.2,264.1L463.2,266.1L458.8,263.8L453.4,262.1L453.4,265.5 M433.5,253.4L434.9,253.6L440.9,253.6L442.5,257.1L445.0,257.1L445.8,255.4L449.7,255.9L450.1,262.1L453.4,262.1 M453.4,265.5L450.1,265.5L450.1,270.8L452.4,273.2 M432.8,272.7L436.5,272.8L444.1,272.8L448.4,273.8L452.4,273.2L455.6,273.5 M448.4,273.8L448.4,280.5L446.7,280.5L446.7,285.2 M446.7,285.2L446.7,291.2L440.8,291.6 M446.7,285.2L450.1,288.0L456.0,286.5L458.5,283.2L462.6,280.9 M462.6,280.9L459.3,278.0L455.6,273.5 M455.6,273.5L458.5,273.7L461.7,270.3L464.2,269.8 M464.2,269.8L468.5,271.6L468.6,276.3L467.8,279.3L465.8,281.2 M462.6,280.9L465.8,281.2 M465.8,281.2L466.9,284.7L466.9,287.2L468.5,288.5 M464.2,269.8L463.9,268.5L469.0,267.1L468.1,266.5 M459.3,292.6L461.2,291.6L462.6,293.1L460.7,294.9L458.8,293.9L459.3,292.6 M398.0,173.6L401.9,173.7L401.2,176.4L400.4,177.6L401.1,179.8L400.4,181.4 M409.9,171.1L414.1,172.2L418.3,172.7 M425.6,170.4L424.7,169.6L424.7,166.9 M424.7,166.9L423.0,166.2L425.7,164.0 M425.7,164.0L426.7,161.7L423.7,160.9 M423.7,160.9L420.5,160.0L417.1,158.2 M418.6,157.7L421.3,157.7L423.0,158.7 M423.7,160.9L423.0,158.7L424.4,156.7L425.1,154.5 M427.4,151.8L429.6,152.0 M424.7,166.9L427.3,166.4L430.6,165.4 M425.7,164.0L429.1,164.2L430.6,165.4 M429.1,164.2L434.9,164.0L436.2,162.2 M430.6,165.4L433.7,165.0L436.0,165.9 M436.0,165.9L436.0,167.4 M436.2,162.2L433.5,159.5L437.9,158.4 M437.9,158.4L436.9,153.5 M437.9,158.4L441.3,159.5L444.7,160.9L451.1,161.5 M436.2,162.2L438.2,161.7L441.6,162.4 M441.6,162.4L441.6,163.7L440.1,165.2 M441.6,163.4L444.7,163.7L447.5,162.5L450.4,162.7 M436.0,165.9L440.1,165.2 M440.1,165.2L440.9,166.0L444.7,166.9L447.2,166.6 M447.2,166.6L450.4,163.4L451.6,163.4 M451.1,161.5L453.4,159.2L452.8,156.7L453.3,153.3 M446.0,152.7L451.4,152.7L453.3,153.3 M453.3,153.3L456.5,151.8L457.8,150.5 M448.4,149.8L455.0,149.3L457.8,150.5 M453.9,146.8L459.2,147.3 M460.4,144.3L459.2,147.3L460.5,149.6 M457.8,150.5L460.5,149.6 M460.5,149.6L465.1,150.7L468.1,154.3L466.6,156.5 M452.8,157.5L458.5,157.5L464.4,157.8L466.6,156.5 M466.6,156.5L471.0,158.0L473.0,159.4L477.1,160.2L480.6,160.7L480.1,163.5L477.4,164.9 M459.9,142.5L463.6,139.9L466.1,138.4L463.2,135.3L461.9,131.7L461.7,128.2 M461.7,128.2L456.8,126.7L455.0,128.9L447.7,128.2 M447.7,128.2L452.8,130.1L453.6,133.6 M447.7,128.2L443.3,129.1L439.9,131.6L437.4,133.1L436.0,135.8L433.3,137.4L433.7,140.8L434.0,143.0L432.3,145.0 M461.7,128.2L464.9,126.9 M451.6,163.4L455.0,163.9L457.8,162.9L460.5,165.7L460.5,167.6L463.1,168.1 M457.8,162.9L459.3,162.7L462.2,163.5L463.6,166.0 M451.2,169.7L455.1,170.6L458.5,169.9L461.2,170.6 M447.2,166.6L449.0,168.6L451.2,169.7 M451.2,169.7L450.7,172.1L451.6,174.6 M451.6,174.6L457.3,173.9 M457.3,173.9L460.2,173.4 M457.3,173.9L456.8,175.4 M446.7,177.3L448.4,175.4L451.6,174.6 M445.7,173.6L447.5,173.4L447.9,175.1L448.4,175.4 M439.6,168.1L441.4,168.1L445.0,168.6L445.7,169.7L445.3,170.9L444.1,172.6 M445.0,168.6L445.0,166.9 M445.3,170.9L447.5,171.7L447.5,173.4 M447.5,171.7L450.7,172.1 M436.0,167.4L438.7,167.6L440.9,166.0 M473.7,183.5L474.9,182.1L477.1,182.1L484.3,181.4L488.6,181.4 M488.6,181.4L487.2,177.8 M483.0,174.2L486.4,174.9L486.7,176.4L487.2,177.8 M480.5,171.1L485.5,172.2L491.3,173.6 M491.3,173.6L494.8,173.7 M486.4,174.9L488.9,174.6L491.3,173.6 M488.9,174.6L489.7,175.6L491.4,178.6 M487.2,177.8L491.4,178.6L494.0,177.4L495.5,179.4 M484.3,181.4L482.5,185.5L478.4,187.8 M478.4,187.8L473.7,189.3 M478.4,187.8L479.1,189.8 M479.1,189.8L475.4,191.0L477.1,192.7L473.9,194.8L472.0,194.5 M479.1,189.8L481.1,190.3L488.4,194.8L491.4,195.0L493.5,196.0 M491.4,195.0L492.3,193.5L494.0,193.5 M488.6,181.4L490.6,184.8L489.6,186.8L493.5,191.8L494.8,193.5 M472.0,194.5L472.9,191.0L473.0,189.0L473.4,188.0L474.7,186.5L473.7,185.8 M471.8,194.3L470.7,191.3 M472.2,188.3L473.4,188.0 M485.2,216.3L485.9,214.6L489.6,214.7L492.3,215.3L495.7,212.6L500.7,211.9 M500.7,211.9L505.8,210.2L507.0,206.9L506.1,205.7 M500.7,211.9L502.6,215.9 M500.1,203.2L501.7,205.4L506.1,205.7 M506.1,205.7L507.5,203.4L508.2,202.0 M503.9,181.3L509.2,179.8L513.4,181.4L516.3,182.4 M516.3,182.4L515.3,186.8L515.8,191.0L517.3,192.2L515.8,193.8 M515.8,193.8L519.6,198.2L516.9,201.5 M515.8,193.8L524.9,193.7L525.6,191.5L529.9,190.3L531.1,188.1L533.2,186.5L533.7,183.0L538.9,181.8 M516.3,182.4L521.8,183.0L525.2,181.1L527.8,181.8L531.1,180.8L533.7,179.6L533.8,182.3L537.0,181.1L538.9,181.8 M525.2,181.1L521.0,178.4L517.6,174.8L514.2,173.1L511.7,172.2L509.2,174.6L507.5,174.6L507.5,168.4 M507.5,174.6L505.5,173.4L501.6,173.7 M507.5,168.4L511.9,167.4L515.9,169.6L522.5,170.6L524.5,171.7L524.4,173.4L527.8,175.1L532.5,173.1L532.8,172.9 M532.8,172.9L537.0,171.7L538.7,171.4L548.4,173.1 M548.4,173.1L542.6,175.3L537.5,177.4 M537.5,177.4L539.4,181.4 M527.8,181.8L527.8,179.3L528.6,177.6L532.0,177.4L537.5,177.4 M527.8,175.1L532.0,176.4L536.2,175.6L532.8,172.9 M492.3,167.2L492.3,163.4L494.8,160.0L499.0,157.5L505.8,158.4L511.7,158.4L516.8,158.4L516.8,154.2L522.7,152.5L529.4,151.2L532.8,153.0L537.0,153.3L542.1,153.0L544.5,154.5L548.0,158.4L553.9,158.4L556.5,160.2L560.3,161.4 M560.3,161.4L557.6,163.7L553.1,164.7L551.9,167.6L548.4,168.6L548.4,173.1 M561.2,161.4L568.3,158.7L578.4,159.2L578.9,156.7L585.5,157.8L593.6,160.4L600.4,161.2L608.8,160.2L610.0,160.4 M610.0,160.4L608.0,163.4L613.0,163.7L615.4,165.4L608.0,167.7L601.7,168.4L600.4,170.9L589.4,173.7L581.8,172.4L575.7,172.1L566.6,168.1L566.4,165.2L561.2,161.4 M610.0,160.4L614.7,159.2L617.1,154.5L621.7,154.2L628.2,160.0L633.7,161.9L640.4,162.9L637.7,168.2L634.5,168.6L634.2,172.1L633.5,172.7 M633.5,172.7L629.1,174.2L627.2,173.7L623.0,176.8 M625.9,180.4L629.6,179.1 M539.4,181.4L544.6,184.3L546.3,188.5L545.8,191.0L549.7,193.2L551.4,193.0L558.2,196.8L561.7,197.0L563.2,198.0L567.6,197.2L571.7,195.2L575.0,194.5L577.2,196.3 M549.7,193.2L548.2,195.5L554.6,197.8L561.7,199.5L561.7,197.0 M563.2,198.0L563.2,199.0L568.3,198.7L567.6,197.2 M543.0,184.3L537.9,186.8L538.7,189.3L538.7,191.8L536.2,193.7L532.0,196.8L530.5,198.5L532.0,200.7L532.8,202.7L528.1,204.0 M561.7,199.5L563.2,199.9L564.6,201.4L568.6,201.7L569.0,203.0L567.1,204.2L568.8,204.9L569.3,208.1 M563.2,207.4L562.9,203.0L561.7,200.5L561.7,199.5 M569.3,208.1L570.5,203.5L572.8,201.0L573.7,199.0L577.2,196.3 M577.2,196.3L579.6,197.5L579.6,200.5L577.7,202.2L577.7,203.7L579.9,204.9L581.0,205.4L580.4,206.7L583.8,207.6 M583.8,207.6L582.0,209.7L579.9,210.7L577.4,212.7L579.9,216.4L578.8,218.3L580.4,221.9L581.1,224.0L579.6,226.6 M583.8,207.6L585.5,206.0L590.8,204.7L593.1,205.4L595.3,207.7 M585.5,206.0L589.6,209.4L588.4,211.2L590.6,212.4L594.6,216.6L594.6,219.1 M582.0,209.7L582.6,210.9L584.0,211.1L583.5,214.2L585.3,213.2L588.6,213.1L589.9,216.1L591.3,219.4 M591.3,219.4L586.9,219.8L585.9,220.9L586.7,224.1 M591.3,219.4L594.6,219.1 M594.6,219.1L594.5,222.9L591.8,224.1L591.9,225.3L589.4,226.3 M582.0,232.8L583.7,234.2L585.3,233.3 M598.0,240.4L601.7,242.0L606.3,241.2L608.3,236.7L611.5,236.7 M651.0,248.1L651.0,259.1 M627.5,123.1L620.6,129.4L622.5,133.8L630.0,136.2L637.5,136.9L641.9,138.8L640.6,141.2 M630.0,136.2L631.9,138.8L620.0,141.2L607.5,141.2L602.5,143.8 M613.8,136.5L623.8,135.6 M550.0,120.5L556.0,126.5L560.5,132.5L562.8,138.5 M560.5,132.5L568.0,135.5 M523.0,130.2L526.0,135.5L529.8,141.5L544.0,143.0L554.5,147.5 M520.0,135.5L529.0,141.5" fill="none" stroke-width="0.65"/>
</g>
<rect x="100.5" y="97.4" width="620.1" height="298.3" fill="none" stroke="#000" stroke-width="1.3"/>
<text x="123.60" y="90.30" font-size="20.2" textLength="154.51" lengthAdjust="spacingAndGlyphs">Nequick-Galileo</text>
<text x="286.54" y="90.30" font-size="20.2" textLength="51.01" lengthAdjust="spacingAndGlyphs">VTEC</text>
<text x="347.62" y="90.30" font-size="20.2" textLength="7.34" lengthAdjust="spacingAndGlyphs">:</text>
<text x="361.54" y="90.30" font-size="20.2" textLength="22.52" lengthAdjust="spacingAndGlyphs">00</text>
<text x="392.08" y="90.30" font-size="20.2" textLength="47.04" lengthAdjust="spacingAndGlyphs">Hour</text>
<text x="447.02" y="90.30" font-size="20.2" textLength="16.08" lengthAdjust="spacingAndGlyphs">of</text>
<text x="472.08" y="90.30" font-size="20.2" textLength="37.03" lengthAdjust="spacingAndGlyphs">209</text>
<text x="517.10" y="90.30" font-size="20.2" textLength="41.03" lengthAdjust="spacingAndGlyphs">DOY</text>
<text x="567.04" y="90.30" font-size="20.2" textLength="130.02" lengthAdjust="spacingAndGlyphs">[2019/07/28]</text>
<text x="388.50" y="543.20" font-size="16.9" textLength="41.53" lengthAdjust="spacingAndGlyphs">VTEC</text>
<text x="679.60" y="540.50" font-size="16.9" textLength="39.57" lengthAdjust="spacingAndGlyphs">1e17</text>
<text x="159.75" y="518.20" font-size="16.9" textLength="23.81" lengthAdjust="spacingAndGlyphs">0.3</text>
<text x="232.98" y="518.20" font-size="16.9" textLength="23.07" lengthAdjust="spacingAndGlyphs">0.6</text>
<text x="305.20" y="518.20" font-size="16.9" textLength="24.02" lengthAdjust="spacingAndGlyphs">0.9</text>
<text x="377.85" y="518.20" font-size="16.9" textLength="23.31" lengthAdjust="spacingAndGlyphs">1.2</text>
<text x="451.08" y="518.20" font-size="16.9" textLength="23.02" lengthAdjust="spacingAndGlyphs">1.5</text>
<text x="521.87" y="518.20" font-size="16.9" textLength="25.06" lengthAdjust="spacingAndGlyphs">1.8</text>
<text x="596.46" y="518.20" font-size="16.9" textLength="23.02" lengthAdjust="spacingAndGlyphs">2.1</text>
<text x="667.54" y="518.20" font-size="16.9" textLength="23.52" lengthAdjust="spacingAndGlyphs">2.4</text>
<defs><linearGradient id="jet" x1="0" x2="1" y1="0" y2="0"><stop offset="0.0000" stop-color="#000080"/><stop offset="0.0156" stop-color="#000092"/><stop offset="0.0312" stop-color="#0000a4"/><stop offset="0.0469" stop-color="#0000b6"/><stop offset="0.0625" stop-color="#0000c8"/><stop offset="0.0781" stop-color="#0000da"/><stop offset="0.0938" stop-color="#0000ec"/><stop offset="0.1094" stop-color="#0000fe"/><stop offset="0.1250" stop-color="#0000ff"/><stop offset="0.1406" stop-color="#0010ff"/><stop offset="0.1562" stop-color="#0020ff"/><stop offset="0.1719" stop-color="#0030ff"/><stop offset="0.1875" stop-color="#0040ff"/><stop offset="0.2031" stop-color="#0050ff"/><stop offset="0.2188" stop-color="#0060ff"/><stop offset="0.2344" stop-color="#0070ff"/><stop offset="0.2500" stop-color="#0080ff"/><stop offset="0.2656" stop-color="#008fff"/><stop offset="0.2812" stop-color="#009fff"/><stop offset="0.2969" stop-color="#00afff"/><stop offset="0.3125" stop-color="#00bfff"/><stop offset="0.3281" stop-color="#00cfff"/><stop offset="0.3438" stop-color="#00dffc"/><stop offset="0.3594" stop-color="#08efef"/><stop offset="0.3750" stop-color="#15ffe2"/><stop offset="0.3906" stop-color="#21ffd5"/><stop offset="0.4062" stop-color="#2effc9"/><stop offset="0.4219" stop-color="#3bffbc"/><stop offset="0.4375" stop-color="#48ffaf"/><stop offset="0.4531" stop-color="#55ffa2"/><stop offset="0.4688" stop-color="#62ff95"/><stop offset="0.4844" stop-color="#6fff88"/><stop offset="0.5000" stop-color="#7bff7b"/><stop offset="0.5156" stop-color="#88ff6f"/><stop offset="0.5312" stop-color="#95ff62"/><stop offset="0.5469" stop-color="#a2ff55"/><stop offset="0.5625" stop-color="#afff48"/><stop offset="0.5781" stop-color="#bcff3b"/><stop offset="0.5938" stop-color="#c9ff2e"/><stop offset="0.6094" stop-color="#d5ff21"/><stop offset="0.6250" stop-color="#e2ff15"/><stop offset="0.6406" stop-color="#effe08"/><stop offset="0.6562" stop-color="#fcf000"/><stop offset="0.6719" stop-color="#ffe100"/><stop offset="0.6875" stop-color="#ffd200"/><stop offset="0.7031" stop-color="#ffc300"/><stop offset="0.7188" stop-color="#ffb500"/><stop offset="0.7344" stop-color="#ffa600"/><stop offset="0.7500" stop-color="#ff9700"/><stop offset="0.7656" stop-color="#ff8800"/><stop offset="0.7812" stop-color="#ff7a00"/><stop offset="0.7969" stop-color="#ff6b00"/><stop offset="0.8125" stop-color="#ff5c00"/><stop offset="0.8281" stop-color="#ff4d00"/><stop offset="0.8438" stop-color="#ff3f00"/><stop offset="0.8594" stop-color="#ff3000"/><stop offset="0.8750" stop-color="#ff2100"/><stop offset="0.8906" stop-color="#fe1200"/><stop offset="0.9062" stop-color="#ec0400"/><stop offset="0.9219" stop-color="#da0000"/><stop offset="0.9375" stop-color="#c80000"/><stop offset="0.9531" stop-color="#b60000"/><stop offset="0.9688" stop-color="#a40000"/><stop offset="0.9844" stop-color="#920000"/><stop offset="1.0000" stop-color="#800000"/></linearGradient></defs>
<rect x="100.5" y="468.65" width="620" height="30.55" fill="url(#jet)" stroke="#000" stroke-width="1.3"/>
<line x1="172.5" x2="172.5" y1="493.5" y2="499" stroke="#000" stroke-width="0.6"/>
<line x1="245.1" x2="245.1" y1="493.5" y2="499" stroke="#000" stroke-width="0.6"/>
<line x1="317.6" x2="317.6" y1="493.5" y2="499" stroke="#000" stroke-width="0.6"/>
<line x1="390.2" x2="390.2" y1="493.5" y2="499" stroke="#000" stroke-width="0.6"/>
<line x1="462.8" x2="462.8" y1="493.5" y2="499" stroke="#000" stroke-width="0.6"/>
<line x1="535.3" x2="535.3" y1="493.5" y2="499" stroke="#000" stroke-width="0.6"/>
<line x1="607.9" x2="607.9" y1="493.5" y2="499" stroke="#000" stroke-width="0.6"/>
<line x1="680.5" x2="680.5" y1="493.5" y2="499" stroke="#000" stroke-width="0.6"/>
</svg></body></html>
